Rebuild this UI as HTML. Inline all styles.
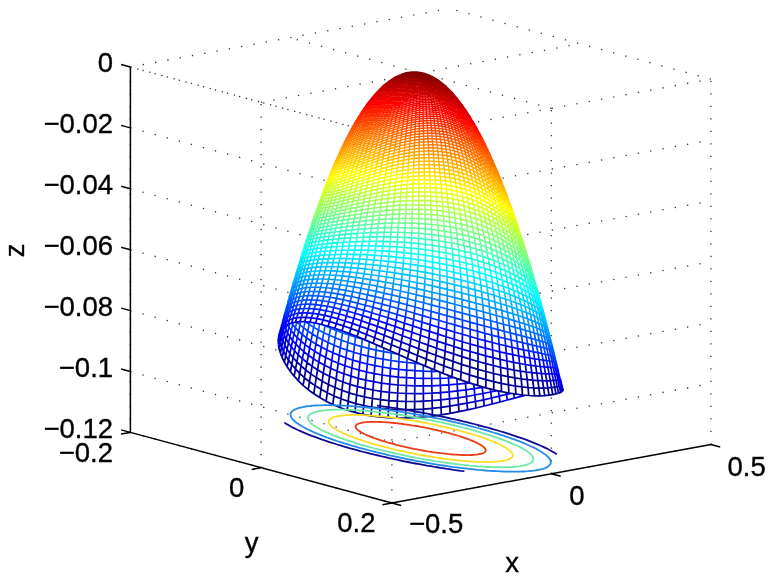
<!DOCTYPE html>
<html><head><meta charset="utf-8"><title>meshc</title><style>html,body{margin:0;padding:0;background:#fff}svg{display:block}</style></head><body>
<svg width="775" height="582" viewBox="0 0 775 582" font-family="'Liberation Sans', Arial, Helvetica, sans-serif" font-size="27.5px">
<rect width="775" height="582" fill="#fff"/>
<path d="M391.9 503L391.9 137.6M391.9 137.6L130.4 67M551.4 473.8L551.4 108.4M551.4 108.4L289.9 37.8M710.9 444.5L710.9 79.1M710.9 79.1L449.4 8.5M130.4 432.4L130.4 67M130.4 67L449.4 8.5M261.1 467.7L261.1 102.3M261.1 102.3L580.1 43.8M391.9 503L391.9 137.6M391.9 137.6L710.9 79.1M130.4 67L391.9 137.6M391.9 137.6L710.9 79.1M130.4 127.9L391.9 198.5M391.9 198.5L710.9 140M130.4 188.8L391.9 259.4M391.9 259.4L710.9 200.9M130.4 249.7L391.9 320.3M391.9 320.3L710.9 261.8M130.4 310.6L391.9 381.2M391.9 381.2L710.9 322.7M130.4 371.5L391.9 442.1M391.9 442.1L710.9 383.6M130.4 432.4L391.9 503M391.9 503L710.9 444.5" fill="none" stroke="#333" stroke-width="1.3" stroke-dasharray="1.3 11.2"/>
<polygon points="486.8,388.1 489.0,388.6 491.1,389.2 493.3,389.7 495.4,390.2 497.5,390.7 499.6,391.2 501.7,391.6 503.7,392.1 505.7,392.5 507.7,392.8 509.6,393.2 511.6,393.5 513.5,393.8 515.3,394.1 517.2,394.3 519.0,394.6 520.8,394.8 522.5,395.0 524.2,395.2 525.9,395.3 527.6,395.4 529.2,395.5 530.8,395.6 532.4,395.7 533.9,395.7 535.4,395.8 536.8,395.8 538.2,395.8 539.6,395.8 541.0,395.7 542.3,395.7 543.6,395.6 544.8,395.5 546.0,395.5 547.2,395.3 548.3,395.2 549.4,395.1 550.4,395.0 551.4,394.8 552.4,394.7 553.3,394.5 554.2,394.3 555.0,394.1 555.8,393.9 556.6,393.7 557.3,393.6 558.0,393.3 558.6,393.1 559.2,392.9 559.8,392.7 560.3,392.5 560.7,392.3 561.2,392.1 561.5,391.9 561.9,391.7 562.2,391.5 562.4,391.3 562.6,391.1 562.8,390.9 562.9,390.7 563.0,390.5 563.0,390.4 563.0,390.2 563.0,390.0 562.9,389.9 562.8,389.7 562.6,389.6 562.3,389.5 562.1,389.4 561.8,389.3 561.4,389.2 561.0,389.1 560.6,389.1 560.1,389.0 559.6,389.0 559.0,389.0 558.4,389.0 557.8,389.0 557.1,389.0 556.3,389.1 555.6,389.1 554.7,389.2 553.9,389.3 553.0,389.4 552.0,389.5 551.1,389.6 550.0,389.8 549.0,390.0 547.9,390.2 546.8,390.4 545.6,390.6 544.4,390.8 543.1,391.1 541.8,391.3 540.5,391.6 539.2,391.9 537.8,392.2 536.3,392.6 534.9,392.9 533.4,393.3 531.8,393.6 530.3,394.0 528.7,394.4 527.0,394.9 525.3,395.3 523.6,395.7 521.9,396.2 520.2,396.6 518.4,397.1 516.5,397.6 514.7,398.1 512.8,398.6 510.9,399.1 509.0,399.6 507.0,400.1 505.0,400.7 503.0,401.2 501.0,401.7 498.9,402.3 496.8,402.8 494.7,403.4 492.6,403.9 490.4,404.5 488.2,405.0 486.0,405.6 483.8,406.1 481.6,406.7 479.3,407.2 477.0,407.8 474.7,408.3 472.4,408.8 470.1,409.4 467.8,409.9 465.4,410.4 463.1,410.9 460.7,411.4 458.3,411.9 455.9,412.3 453.5,412.8 451.1,413.2 448.6,413.7 446.2,414.1 443.7,414.5 441.3,414.9 438.8,415.2 436.3,415.6 433.9,415.9 431.4,416.2 428.9,416.5 426.4,416.7 424.0,417.0 421.5,417.2 419.0,417.4 416.5,417.6 414.0,417.7 411.5,417.9 409.1,418.0 406.6,418.0 404.1,418.1 401.6,418.1 399.2,418.1 396.7,418.0 394.3,418.0 391.8,417.9 389.4,417.8 387.0,417.6 384.6,417.4 382.2,417.2 379.8,417.0 377.4,416.7 375.1,416.4 372.7,416.1 370.4,415.7 368.1,415.3 365.8,414.9 363.5,414.4 361.2,414.0 359.0,413.4 356.7,412.9 354.5,412.3 352.3,411.7 350.2,411.1 348.0,410.4 345.9,409.7 343.8,409.0 341.7,408.2 339.6,407.4 337.6,406.6 335.6,405.8 333.6,404.9 331.7,404.0 329.7,403.1 327.8,402.1 326.0,401.1 324.1,400.1 322.3,399.1 320.5,398.1 318.8,397.0 317.1,395.9 315.4,394.8 313.7,393.7 312.1,392.5 310.5,391.3 308.9,390.2 307.4,389.0 305.9,387.7 304.5,386.5 303.1,385.2 301.7,384.0 300.3,382.7 299.0,381.4 297.7,380.1 296.5,378.8 295.3,377.5 294.1,376.2 293.0,374.8 291.9,373.5 290.9,372.2 289.9,370.8 288.9,369.5 288.0,368.1 287.1,366.8 286.3,365.4 285.5,364.1 284.7,362.7 284.0,361.4 283.3,360.1 282.7,358.8 282.1,357.5 281.5,356.2 281.0,354.9 280.6,353.6 280.1,352.3 279.8,351.1 279.4,349.8 279.1,348.6 278.9,347.4 278.7,346.2 278.5,345.0 278.4,343.9 278.3,342.7 278.3,341.6 278.3,340.5 278.3,339.5 278.4,338.4 278.5,337.4 278.7,336.4 279.0,335.4 279.2,334.5 279.5,333.6 279.9,332.7 280.3,331.9 280.7,331.1 281.2,330.3 281.7,329.5 282.3,328.8 282.9,328.1 283.5,327.4 284.2,326.8 285.0,326.2 285.7,325.7 286.6,325.1 287.4,324.7 288.3,324.2 289.3,323.8 290.2,323.4 291.3,323.1 292.3,322.8 293.4,322.5 294.5,322.3 295.7,322.1 296.9,321.9 298.2,321.8 299.5,321.7 300.8,321.7 302.1,321.7 303.5,321.7 305.0,321.8 306.4,321.9 307.9,322.0 309.5,322.2 311.0,322.4 312.6,322.6 314.3,322.9 316.0,323.2 317.7,323.6 319.4,324.0 321.1,324.4 322.9,324.8 324.8,325.3 326.6,325.8 328.5,326.4 330.4,326.9 332.3,327.5 334.3,328.2 336.3,328.8 338.3,329.5 340.3,330.2 342.4,331.0 344.5,331.7 346.6,332.5 348.7,333.3 350.9,334.2 353.1,335.0 355.3,335.9 357.5,336.8 359.7,337.7 362.0,338.6 364.3,339.6 366.6,340.6 368.9,341.5 371.2,342.5 373.5,343.5 375.9,344.6 378.2,345.6 380.6,346.6 383.0,347.7 385.4,348.7 387.8,349.8 390.2,350.9 392.7,352.0 395.1,353.0 397.6,354.1 400.0,355.2 402.5,356.3 405.0,357.4 407.4,358.5 409.9,359.5 412.4,360.6 414.9,361.7 417.3,362.8 419.8,363.8 422.3,364.9 424.8,365.9 427.3,367.0 429.8,368.0 432.2,369.0 434.7,370.0 437.2,371.0 439.7,372.0 442.1,373.0 444.6,373.9 447.0,374.9 449.5,375.8 451.9,376.7 454.3,377.6 456.7,378.5 459.1,379.3 461.5,380.2 463.9,381.0 466.2,381.8 468.6,382.6 470.9,383.3 473.2,384.1 475.5,384.8 477.8,385.5 480.1,386.2 482.3,386.8 484.6,387.5 486.8,388.1" fill="#fff"/>
<g fill="none" stroke-width="1.75">
<path stroke="#00008f" stroke-width="1.75" d="M397.4 401.2l-8.5-.6-8.4-.9-8.1-1.2-8-1.6-7.8-1.9-7.5-2.2-7.2-2.5-6.9-2.8-6.6-3-6.2-3.3M432.3 408.3l-8.9 .8-8.8 .4-8.8 .2-8.7-.1-8.6-.5-8.5-.8-8.3-1.2-8-1.6-7.9-1.8-7.6-2.3-7.3-2.6-7-2.8-6.6-3.2-6.3-3.5-6-3.7-5.5-3.9-5.1-4.1-4.7-4.3M458.9 411.7l-8.7 1.7-8.9 1.4-8.9 1.3-8.9 .9-9 .7-8.9 .3-8.8 .1-8.7-.4-8.6-.7-8.4-1.2-8.2-1.5-7.9-1.9-7.7-2.2-7.4-2.7-7-3-6.8-3.3-6.3-3.6-6-3.9-5.6-4.1-5.1-4.3-4.7-4.5-4.2-4.6-3.8-4.7-3.3-4.7M441.1 407.3l.2 7.5M432.3 408.3l.1 7.8M423.4 409.1l.1 7.9M414.7 401.5l-.1 8-.1 8.2M406 401.5l-.2 8.2-.2 8.3M397.4 401.2l-.3 8.4-.3 8.5M388.9 400.6l-.4 8.5-.4 8.6M380.5 399.7l-.5 8.6-.5 8.7M372.4 398.5l-.7 8.6-.6 8.7M364.4 396.9l-.7 8.6-.8 8.8M356.6 395l-.8 8.7-.8 8.7M349.1 392.8l-.9 8.6-.9 8.8M341.9 390.3l-1 8.5-1 8.7M335 387.5l-1.1 8.5-1 8.5M328.4 384.5l-1.1 8.3-1.2 8.4M322.2 381.2l-1.2 8.1-1.2 8.3M316.3 377.6l-1.3 8-1.2 8.1M310.8 373.9l-1.3 7.8-1.3 7.9M304.4 377.6l-1.3 7.7M299.7 373.3l-1.3 7.5M295.5 368.9l-1.3 7.3"/>
<path stroke="#00009f" stroke-width="1.74" d="M423.4 401.2l-8.7 .3-8.7 0-8.6-.3M322.2 381.2l-5.9-3.6-5.5-3.7-5.1-3.9M449.8 406.1l-8.7 1.2-8.8 1M299.7 373.3l-4.2-4.4-3.7-4.4M467.6 409.9l-8.7 1.8M287.1 366.8l-2.7-4.7-2.3-4.6M458.5 404.7l.4 7M449.8 406.1l.4 7.3M432.1 400.7l.2 7.6M423.4 401.2l0 7.9M397.7 393l-.3 8.2M389.3 392.3l-.4 8.3M381.1 391.3l-.6 8.4M373 390l-.6 8.5M365.1 388.4l-.7 8.5M357.5 386.6l-.9 8.4M350 384.4l-.9 8.4M342.9 382l-1 8.3M336.1 379.3l-1.1 8.2M329.5 376.3l-1.1 8.2M323.3 373.2l-1.1 8M305.7 370l-1.3 7.6M301.1 365.9l-1.4 7.4M291.8 364.5l-1.4 7M288.5 360l-1.4 6.8"/>
<path stroke="#0000af" stroke-width="1.74" d="M397.7 393l-8.4-.7-8.2-1-8.1-1.3-7.9-1.6-7.6-1.8-7.5-2.2-7.1-2.4-6.8-2.7-6.6-3-6.2-3.1M440.8 399.9l-8.7 .8-8.7 .5M305.7 370l-4.6-4.1-4.2-4.1M467 403.2l-8.5 1.5-8.7 1.4M291.8 364.5l-3.3-4.5-2.8-4.4M484.3 406l-8.3 2-8.4 1.9M282.1 357.5l-1.7-4.5M467 403.2l.6 6.7M449.5 398.9l.3 7.2M440.8 399.9l.3 7.4M414.7 393.6l0 7.9M406.2 393.5l-.2 8M317.5 369.8l-1.2 7.8M312.1 366.2l-1.3 7.7M296.9 361.8l-1.4 7.1M293.1 357.6l-1.3 6.9M285.7 355.6l-1.3 6.5M283.5 351.2l-1.4 6.3"/>
<path stroke="#0000bf" stroke-width="1.73" d="M423.4 393.5l-8.7 .1-8.5-.1-8.5-.5M323.3 373.2l-5.8-3.4-5.4-3.6-5.1-3.7M449.5 398.9l-8.7 1M296.9 361.8l-3.8-4.2-3.2-4.2M475.4 401.5l-8.4 1.7M285.7 355.6l-2.2-4.4-1.8-4.2M500 402l-7.7 2-8 2M280.4 353l-1.3-4.3-.7-4.2M483.6 399.8l.7 6.2M475.4 401.5l.6 6.5M458.1 397.8l.4 6.9M432 393.2l.1 7.5M423.4 393.5l0 7.7M398 385l-.3 8M389.7 384.2l-.4 8.1M381.6 383.1l-.5 8.2M373.6 381.7l-.6 8.3M365.8 380.1l-.7 8.3M358.3 378.3l-.8 8.3M351 376.1l-1 8.3M343.9 373.8l-1 8.2M337.1 371.2l-1 8.1M330.7 368.3l-1.2 8M324.5 365.3l-1.2 7.9M307 362.5l-1.3 7.5M302.4 358.7l-1.3 7.2M298.2 354.8l-1.3 7M289.9 353.4l-1.4 6.6M287.1 349.2l-1.4 6.4M281.7 347l-1.3 6"/>
<path stroke="#0000cf" stroke-width="1.72" d="M406.4 385.5l-8.4-.5-8.3-.8-8.1-1.1-8-1.4-7.8-1.6-7.5-1.8-7.3-2.2-7.1-2.3-6.8-2.6-6.4-2.9-6.2-3-5.7-3.2M440.6 392.6l-8.6 .6-8.6 .3M307 362.5l-4.6-3.8-4.2-3.9M466.5 396.5l-8.4 1.3-8.6 1.1M289.9 353.4l-2.8-4.2-2.3-4.2M491.5 398l-7.9 1.8-8.2 1.7M281.7 347l-1.2-4.2M563 390.2l-.3-.5M507.4 400l-7.4 2M278.4 344.5l-.1-3.9 .3-3.6M499.2 396.2l.8 5.8M491.5 398l.8 6M474.8 395l.6 6.5M466.5 396.5l.5 6.7M449.2 391.9l.3 7M440.6 392.6l.2 7.3M423.3 385.9l.1 7.6M414.8 385.8l-.1 7.8M406.4 385.5l-.2 8M318.8 362.1l-1.3 7.7M313.4 358.7l-1.3 7.5M308.4 355.2l-1.4 7.3M294.5 350.8l-1.4 6.8M291.3 346.8l-1.4 6.6M284.8 345l-1.3 6.2M283.1 341l-1.4 6M280.5 342.8l-1.4 5.9M279.8 338.9l-1.4 5.6"/>
<path stroke="#0000df" stroke-width="1.71" d="M431.8 385.8l-8.5 .1-8.5-.1-8.4-.3M318.8 362.1l-5.4-3.4-5-3.5-4.6-3.6M457.6 390.9l-8.4 1-8.6 .7M298.2 354.8l-3.7-4-3.2-4-2.8-3.9M482.9 393.5l-8.1 1.5-8.3 1.5M284.8 345l-1.7-4-1.3-3.9M506.5 394.4l-7.3 1.8-7.7 1.8M280.5 342.8l-.7-3.9-.2-3.7M562.7 389.7l-1-.4-1.6-.3M527.4 394.7l-6.3 1.7-6.7 1.7-7 1.9M278.6 337l.9-3.3M513.5 392.7l.9 5.4M506.5 394.4l.9 5.6M490.7 392l.8 6M482.9 393.5l.7 6.3M466 389.9l.5 6.6M457.6 390.9l.5 6.9M440.4 385.4l.2 7.2M431.8 385.8l.2 7.4M398.3 377.1l-.3 7.9M390.1 376.1l-.4 8.1M382.1 375l-.5 8.1M374.2 373.6l-.6 8.1M366.6 372l-.8 8.1M359.1 370.1l-.8 8.2M351.9 368l-.9 8.1M344.9 365.7l-1 8.1M338.2 363.2l-1.1 8M331.8 360.5l-1.1 7.8M325.7 357.6l-1.2 7.7M303.8 351.6l-1.4 7.1M299.6 347.9l-1.4 6.9M288.5 342.9l-1.4 6.3M286.2 339l-1.4 6M281.8 337.1l-1.3 5.7M279.6 335.2l-1.3 5.4M279.9 331.8l-1.3 5.2"/>
<path stroke="#0000ef" stroke-width="1.71" d="M406.5 377.7l-8.2-.6-8.2-1-8-1.1-7.9-1.4-7.6-1.6-7.5-1.9-7.2-2.1-7-2.3-6.7-2.5-6.4-2.7-6.1-2.9-5.7-3.1M448.8 384.9l-8.4 .5-8.6 .4M303.8 351.6l-4.2-3.7-3.7-3.7M474.2 388.7l-8.2 1.2-8.4 1M288.5 342.9l-2.3-3.9-1.8-3.8M498.3 390.4l-7.6 1.6-7.8 1.5M281.8 337.1l-.7-3.7-.2-3.5M513.5 392.7l-7 1.7M279.6 335.2l.3-3.4M560.1 389l-2.2 0-2.8 .2-3.3 .3-3.8 .6-4.4 .9-4.9 1-5.4 1.3-5.9 1.4M520.1 391.1l1 5.3M505.6 388.8l.9 5.6M498.3 390.4l.9 5.8M482.2 387.4l.7 6.1M474.2 388.7l.6 6.3M457.2 384.2l.4 6.7M448.8 384.9l.4 7M423.3 378.4l0 7.5M414.9 378.2l-.1 7.6M406.5 377.7l-.1 7.8M320 354.5l-1.2 7.6M314.7 351.3l-1.3 7.4M309.7 348l-1.3 7.2M305.1 344.6l-1.3 7M295.9 344.2l-1.4 6.6M292.6 340.4l-1.3 6.4M284.4 335.2l-1.3 5.8M283.2 331.5l-1.4 5.6M281.1 333.4l-1.3 5.5M280.9 329.9l-1.3 5.3"/>
<path stroke="#0000ff" stroke-width="1.70" d="M431.7 378.5l-8.4-.1-8.4-.2-8.4-.5M320 354.5l-5.3-3.2-5-3.3-4.6-3.4-4.1-3.5M465.5 383.3l-8.3 .9-8.4 .7M295.9 344.2l-3.3-3.8-2.7-3.7-2.3-3.7M490 386l-7.8 1.4-8 1.3M284.4 335.2l-1.2-3.7-.7-3.5M490 386l.7 6M473.6 382.4l.6 6.3M465.5 383.3l.5 6.6M448.5 378l.3 6.9M440.1 378.3l.3 7.1M431.7 378.5l.1 7.3M406.7 370.1l-.2 7.6M398.6 369.3l-.3 7.8M390.5 368.3l-.4 7.8M382.6 367l-.5 8M374.8 365.6l-.6 8M367.3 364l-.7 8M359.9 362.1l-.8 8M352.8 360.1l-.9 7.9M345.9 357.8l-1 7.9M339.3 355.4l-1.1 7.8M332.9 352.8l-1.1 7.7M326.9 350l-1.2 7.6M321.3 347.1l-1.3 7.4M301 341.1l-1.4 6.8M297.3 337.6l-1.4 6.6M289.9 336.7l-1.4 6.2M287.6 333l-1.4 6M285.8 329.4l-1.4 5.8M282.5 328l-1.4 5.4"/>
<path stroke="#0010ff" stroke-width="1.69" d="M415 370.7l-8.3-.6-8.1-.8-8.1-1-7.9-1.3-7.8-1.4-7.5-1.6-7.4-1.9-7.1-2-6.9-2.3-6.6-2.4-6.4-2.6-6-2.8-5.6-2.9-5.4-3M456.8 377.5l-8.3 .5-8.4 .3-8.4 .2M301 341.1l-3.7-3.5-3.3-3.5M473.6 382.4l-8.1 .9M287.6 333l-1.8-3.6-1.3-3.5M481.5 381.3l.7 6.1M465 376.9l.5 6.4M456.8 377.5l.4 6.7M431.6 371.3l.1 7.2M423.3 371.1l0 7.3M415 370.7l-.1 7.5M360.7 354.3l-.8 7.8M315.9 344.1l-1.2 7.2M311 341l-1.3 7M306.5 337.8l-1.4 6.8M302.3 334.5l-1.3 6.6M294 334.1l-1.4 6.3M291.2 330.6l-1.3 6.1M288.9 327.1l-1.3 5.9M284.5 325.9l-1.3 5.6"/>
<path stroke="#0020ff" stroke-width="1.69" d="M375.5 357.8l-7.5-1.7-7.3-1.8-7-2-6.8-2.2M439.9 371.3l-8.3 0-8.3-.2-8.3-.4M315.9 344.1l-4.9-3.1-4.5-3.2-4.2-3.3-3.7-3.3M294 334.1l-2.8-3.5-2.3-3.5-1.7-3.4M448.2 371.2l.3 6.8M439.9 371.3l.2 7M415 363.3l0 7.4M406.9 362.5l-.2 7.6M398.9 361.6l-.3 7.7M390.9 360.5l-.4 7.8M383.1 359.2l-.5 7.8M375.5 357.8l-.7 7.8M368 356.1l-.7 7.9M353.7 352.3l-.9 7.8M346.9 350.1l-1 7.7M340.3 347.7l-1 7.7M334.1 345.2l-1.2 7.6M328.1 342.6l-1.2 7.4M322.5 339.8l-1.2 7.3M317.2 337l-1.3 7.1M298.6 331.2l-1.3 6.4M295.4 327.9l-1.4 6.2M287.2 323.7l-1.4 5.7"/>
<path stroke="#0030ff" stroke-width="1.68" d="M423.2 363.8l-8.2-.5-8.1-.8-8-.9-8-1.1-7.8-1.3-7.6-1.4M346.9 350.1l-6.6-2.4-6.2-2.5-6-2.6-5.6-2.8-5.3-2.8-4.9-3M298.6 331.2l-3.2-3.3-2.8-3.3-2.3-3.3M431.4 364.2l.2 7.1M423.2 363.8l.1 7.3M383.6 351.6l-.5 7.6M376.1 350.1l-.6 7.7M368.7 348.4l-.7 7.7M361.5 346.6l-.8 7.7M354.6 344.6l-.9 7.7M347.9 342.5l-1 7.6M341.4 340.2l-1.1 7.5M312.3 334l-1.3 7M307.8 331l-1.3 6.8M303.7 327.9l-1.4 6.6M300 324.9l-1.4 6.3M292.6 324.6l-1.4 6M290.3 321.3l-1.4 5.8"/>
<path stroke="#0040ff" stroke-width="1.67" d="M391.3 352.9l-7.7-1.3-7.5-1.5-7.4-1.7-7.2-1.8-6.9-2-6.7-2.1-6.5-2.3-6.2-2.4M312.3 334l-4.5-3-4.1-3.1-3.7-3-3.2-3.2M415.1 356l-.1 7.3M407.1 355.1l-.2 7.4M399.2 354.1l-.3 7.5M391.3 352.9l-.4 7.6M335.2 337.8l-1.1 7.4M329.3 335.3l-1.2 7.3M323.8 332.7l-1.3 7.1M318.5 330l-1.3 7M313.7 327.2l-1.4 6.8M309.2 324.4l-1.4 6.6M296.8 321.7l-1.4 6.2M294 318.7l-1.4 5.9"/>
<path stroke="#0050ff" stroke-width="1.66" d="M399.2 354.1l-7.9-1.2M335.2 337.8l-5.9-2.5-5.5-2.6-5.3-2.7-4.8-2.8-4.5-2.8-4.1-2.9M391.7 345.5l-.4 7.4M384.1 344.1l-.5 7.5M376.7 342.5l-.6 7.6M369.4 340.8l-.7 7.6M362.4 339l-.9 7.6M355.5 337.1l-.9 7.5M348.9 335l-1 7.5M342.5 332.8l-1.1 7.4M336.4 330.6l-1.2 7.2M330.5 328.2l-1.2 7.1M305.1 321.5l-1.4 6.4M301.4 318.6l-1.4 6.3"/>
<path stroke="#0060ff" stroke-width="1.66" d="M369.4 340.8l-7-1.8-6.9-1.9-6.6-2.1-6.4-2.2-6.1-2.2-5.9-2.4-5.5-2.5-1.2 7M319.8 323.2l-1.3 6.8M315 320.6l-1.3 6.6M310.5 317.9l-1.3 6.5"/>
<path stroke="#0070ff" stroke-width="1.65" d="M325 325.7l-5.2-2.5M363.2 331.6l-.8 7.4M356.4 329.7l-.9 7.4M349.8 327.7l-.9 7.3M343.5 325.6l-1 7.2M337.5 323.4l-1.1 7.2M331.7 321.2l-1.2 7M326.3 318.8l-1.3 6.9"/>
</g>
<polygon points="278.9,335.5 279.0,335.4 279.0,335.2 279.1,335.0 279.1,334.7 279.2,334.5 279.3,334.3 279.4,334.1 279.4,333.8 279.5,333.6 279.6,333.4 279.7,333.2 279.8,332.9 279.9,332.7 280.0,332.5 280.1,332.3 280.2,332.1 280.3,331.9 280.4,331.7 280.5,331.5 280.6,331.3 280.7,331.1 280.8,330.9 281.0,330.7 281.1,330.5 281.2,330.3 281.3,330.1 281.5,329.9 281.6,329.7 281.7,329.5 281.9,329.3 282.0,329.1 282.1,329.0 282.3,328.8 282.4,328.6 282.6,328.4 282.7,328.3 282.9,328.1 283.1,327.9 283.2,327.8 283.4,327.6 283.5,327.4 283.7,327.3 283.9,327.1 284.1,327.0 284.2,326.8 284.4,326.7 284.6,326.5 284.8,326.4 285.0,326.2 285.2,326.1 285.4,325.9 285.6,325.8 285.7,325.7 285.9,325.5 286.2,325.4 286.4,325.3 286.6,325.1 286.8,325.0 287.0,324.9 287.2,324.8 287.4,324.7 287.6,324.5 287.9,324.4 288.1,324.3 288.3,324.2 288.6,324.1 288.8,324.0 289.0,323.9 289.3,323.8 289.5,323.7 289.7,323.6 290.0,323.5 290.2,323.4 290.5,323.3 290.7,323.2 291.0,323.2 291.3,323.1 291.5,323.0 291.8,322.9 292.0,322.8 292.3,322.8 292.6,322.7 292.9,322.6 293.1,322.6 293.4,322.5 293.7,322.4 294.0,322.4 294.3,322.3 294.5,322.3 294.8,322.2 295.1,322.2 295.4,322.1 295.7,322.1 296.0,322.0 296.3,322.0 296.6,322.0 296.9,321.9 297.2,321.9 297.5,321.9 297.9,321.8 298.2,321.8 298.5,321.8 298.8,321.8 299.1,321.7 299.5,321.7 299.8,321.7 300.1,321.7 300.5,321.7 300.8,321.7 301.1,321.7 301.5,321.7 301.8,321.7 302.1,321.7 302.5,321.7 302.8,321.7 303.2,321.7 303.5,321.7 303.9,321.7 304.3,321.7 304.6,321.7 305.0,321.8 305.3,321.8 305.7,321.8 306.1,321.8 306.4,321.9 306.8,321.9 307.2,321.9 307.6,322.0 307.9,322.0 308.3,322.0 308.7,322.1 309.1,322.1 309.5,322.2 309.9,322.2 310.3,322.3 310.7,322.3 311.0,322.4 311.4,322.4 311.8,322.5 312.2,322.6 312.6,322.6 313.1,322.7 313.5,322.8 313.9,322.8 314.3,322.9 314.7,323.0 315.1,323.1 315.5,323.1 316.0,323.2 316.4,323.3 316.8,323.4 317.2,323.5 317.7,323.6 318.1,323.7 318.5,323.8 319.0,323.9 319.4,324.0 319.8,324.1 320.3,324.2 320.7,324.3 321.1,324.4 321.6,324.5 322.0,324.6 322.5,324.7 322.9,324.8 323.4,324.9 323.8,325.1 324.3,325.2 324.8,325.3 325.2,325.4 325.7,325.6 326.2,325.7 326.6,325.8 327.1,325.9 327.6,326.1 328.0,326.2 328.5,326.4 329.0,326.5 329.4,326.6 329.9,326.8 330.4,326.9 330.9,327.1 331.4,327.2 331.9,327.4 332.3,327.5 332.8,327.7 333.3,327.8 333.8,328.0 334.3,328.2 334.8,328.3 335.3,328.5 335.8,328.7 336.3,328.8 336.8,329.0 337.3,329.2 337.8,329.3 338.3,329.5 338.8,329.7 339.3,329.9 339.8,330.0 340.3,330.2 340.9,330.4 341.4,330.6 341.9,330.8 342.4,331.0 342.9,331.2 343.5,331.3 344.0,331.5 344.5,331.7 345.0,331.9 345.6,332.1 346.1,332.3 346.6,332.5 347.1,332.7 347.7,332.9 348.2,333.1 348.7,333.3 349.3,333.5 349.8,333.7 350.4,334.0 350.9,334.2 351.4,334.4 352.0,334.6 352.5,334.8 353.1,335.0 353.6,335.2 354.2,335.5 354.7,335.7 355.3,335.9 355.8,336.1 356.4,336.3 356.9,336.6 357.5,336.8 358.1,337.0 358.6,337.3 359.2,337.5 359.7,337.7 360.3,337.9 360.9,338.2 361.4,338.4 362.0,338.6 362.6,338.9 363.1,339.1 363.7,339.4 364.3,339.6 364.8,339.8 365.4,340.1 366.0,340.3 366.6,340.6 367.1,340.8 367.7,341.1 368.3,341.3 368.9,341.5 369.4,341.8 370.0,342.0 370.6,342.3 371.2,342.5 371.8,342.8 372.3,343.0 372.9,343.3 373.5,343.5 374.1,343.8 374.7,344.1 375.3,344.3 375.9,344.6 376.5,344.8 377.1,345.1 377.6,345.3 378.2,345.6 378.8,345.9 379.4,346.1 380.0,346.4 380.6,346.6 381.2,346.9 381.8,347.2 382.4,347.4 383.0,347.7 383.6,348.0 384.2,348.2 384.8,348.5 385.4,348.7 386.0,349.0 386.6,349.3 387.2,349.5 387.8,349.8 388.4,350.1 389.0,350.3 389.6,350.6 390.2,350.9 390.9,351.2 391.5,351.4 392.1,351.7 392.7,352.0 393.3,352.2 393.9,352.5 394.5,352.8 395.1,353.0 395.7,353.3 396.3,353.6 397.0,353.8 397.6,354.1 398.2,354.4 398.8,354.7 399.4,354.9 400.0,355.2 400.6,355.5 401.3,355.7 401.9,356.0 402.5,356.3 403.1,356.6 403.7,356.8 404.3,357.1 405.0,357.4 405.6,357.6 406.2,357.9 406.8,358.2 407.4,358.5 408.0,358.7 408.7,359.0 409.3,359.3 409.9,359.5 410.5,359.8 411.1,360.1 411.8,360.3 412.4,360.6 413.0,360.9 413.6,361.2 414.2,361.4 414.9,361.7 415.5,362.0 416.1,362.2 416.7,362.5 417.3,362.8 418.0,363.0 418.6,363.3 419.2,363.6 419.8,363.8 420.5,364.1 421.1,364.4 421.7,364.6 422.3,364.9 422.9,365.1 423.6,365.4 424.2,365.7 424.8,365.9 425.4,366.2 426.0,366.5 426.7,366.7 427.3,367.0 427.9,367.2 428.5,367.5 429.1,367.7 429.8,368.0 430.4,368.3 431.0,368.5 431.6,368.8 432.2,369.0 432.9,369.3 433.5,369.5 434.1,369.8 434.7,370.0 435.3,370.3 436.0,370.5 436.6,370.8 437.2,371.0 437.8,371.3 438.4,371.5 439.0,371.8 439.7,372.0 440.3,372.3 440.9,372.5 441.5,372.7 442.1,373.0 442.7,373.2 443.3,373.5 444.0,373.7 444.6,373.9 445.2,374.2 445.8,374.4 446.4,374.6 447.0,374.9 447.6,375.1 448.2,375.3 448.8,375.6 449.5,375.8 450.1,376.0 450.7,376.3 451.3,376.5 451.9,376.7 452.5,376.9 453.1,377.2 453.7,377.4 454.3,377.6 454.9,377.8 455.5,378.1 456.1,378.3 456.7,378.5 457.3,378.7 457.9,378.9 458.5,379.1 459.1,379.3 459.7,379.6 460.3,379.8 460.9,380.0 461.5,380.2 462.1,380.4 462.7,380.6 463.3,380.8 463.9,381.0 464.5,381.2 465.1,381.4 465.6,381.6 466.2,381.8 466.8,382.0 467.4,382.2 468.0,382.4 468.6,382.6 469.2,382.8 469.8,383.0 470.3,383.2 470.9,383.3 471.5,383.5 472.1,383.7 472.7,383.9 473.2,384.1 473.8,384.3 474.4,384.4 475.0,384.6 475.5,384.8 476.1,385.0 476.7,385.2 477.3,385.3 477.8,385.5 478.4,385.7 479.0,385.8 479.5,386.0 480.1,386.2 480.7,386.3 481.2,386.5 481.8,386.7 482.3,386.8 482.9,387.0 483.5,387.1 484.0,387.3 484.6,387.5 485.1,387.6 485.7,387.8 486.2,387.9 486.8,388.1 487.3,388.2 487.9,388.4 488.4,388.5 489.0,388.6 489.5,388.8 490.1,388.9 490.6,389.1 491.1,389.2 491.7,389.3 492.2,389.5 492.8,389.6 493.3,389.7 493.8,389.9 494.4,390.0 494.9,390.1 495.4,390.2 495.9,390.4 496.5,390.5 497.0,390.6 497.5,390.7 498.0,390.9 498.6,391.0 499.1,391.1 499.6,391.2 500.1,391.3 500.6,391.4 501.1,391.5 501.7,391.6 502.2,391.8 502.7,391.9 503.2,392.0 503.7,392.1 504.2,392.2 504.7,392.3 505.2,392.4 505.7,392.5 506.2,392.6 506.7,392.6 507.2,392.7 507.7,392.8 508.2,392.9 508.7,393.0 509.1,393.1 509.6,393.2 510.1,393.3 510.6,393.3 511.1,393.4 511.6,393.5 512.0,393.6 512.5,393.7 513.0,393.7 513.5,393.8 513.9,393.9 514.4,393.9 514.9,394.0 515.3,394.1 515.8,394.2 516.2,394.2 516.7,394.3 517.2,394.3 517.6,394.4 518.1,394.5 518.5,394.5 519.0,394.6 519.4,394.6 519.9,394.7 520.3,394.7 520.8,394.8 521.2,394.8 521.6,394.9 522.1,394.9 522.5,395.0 522.9,395.0 523.4,395.1 523.8,395.1 524.2,395.2 524.7,395.2 525.1,395.2 525.5,395.3 525.9,395.3 526.3,395.3 526.8,395.4 527.2,395.4 527.6,395.4 528.0,395.5 528.4,395.5 528.8,395.5 529.2,395.5 529.6,395.6 530.0,395.6 530.4,395.6 530.8,395.6 531.2,395.6 531.6,395.7 532.0,395.7 532.4,395.7 532.7,395.7 533.1,395.7 533.5,395.7 533.9,395.7 534.3,395.8 534.6,395.8 535.0,395.8 535.4,395.8 535.7,395.8 536.1,395.8 536.5,395.8 536.8,395.8 537.2,395.8 537.5,395.8 537.9,395.8 538.2,395.8 538.6,395.8 538.9,395.8 539.3,395.8 539.6,395.8 540.0,395.8 540.3,395.8 540.6,395.7 541.0,395.7 541.3,395.7 541.6,395.7 542.0,395.7 542.3,395.7 542.6,395.7 542.9,395.7 543.2,395.6 543.6,395.6 543.9,395.6 544.2,395.6 544.5,395.6 544.8,395.5 545.1,395.5 545.4,395.5 545.7,395.5 546.0,395.5 546.3,395.4 546.6,395.4 546.9,395.4 547.2,395.3 547.4,395.3 547.7,395.3 548.0,395.3 548.3,395.2 548.5,395.2 548.8,395.2 549.1,395.1 549.4,395.1 549.6,395.1 549.9,395.0 550.1,395.0 550.4,395.0 550.7,394.9 550.9,394.9 551.2,394.8 551.4,394.8 551.6,394.8 551.9,394.7 552.1,394.7 552.4,394.7 552.6,394.6 552.8,394.6 553.1,394.5 553.3,394.5 553.5,394.4 553.7,394.4 554.0,394.4 554.2,394.3 554.4,394.3 554.6,394.2 554.8,394.2 555.0,394.1 555.2,394.1 555.4,394.0 555.6,394.0 555.8,393.9 556.0,393.9 556.2,393.8 556.4,393.8 556.6,393.7 556.8,393.7 556.9,393.7 557.1,393.6 557.3,393.6 557.5,393.5 557.6,393.5 557.8,393.4 558.0,393.3 558.1,393.3 558.3,393.2 558.5,393.2 558.6,393.1 558.8,393.1 558.9,393.0 559.1,393.0 559.2,392.9 559.4,392.9 559.5,392.8 559.6,392.8 559.8,392.7 559.9,392.7 560.0,392.6 560.1,392.6 560.3,392.5 560.4,392.5 560.5,392.4 560.6,392.4 560.7,392.3 560.8,392.3 561.0,392.2 561.1,392.1 561.2,392.1 561.3,392.0 561.4,392.0 561.5,391.9 561.5,391.9 561.6,391.8 561.7,391.8 561.8,391.7 561.9,391.7 562.0,391.6 562.0,391.6 562.1,391.5 562.2,391.5 562.2,391.4 562.3,391.4 562.4,391.3 562.4,391.3 562.5,391.2 562.5,391.2 562.6,391.1 562.6,391.1 562.7,391.0 562.7,391.0 562.8,390.9 562.8,390.9 562.8,390.8 562.9,390.8 562.9,390.7 562.9,390.7 563.0,390.7 563.0,390.6 563.0,390.6 563.0,390.5 563.0,390.5 563.0,390.4 563.0,390.4 563.0,390.4 563.0,390.3 563.0,390.3 563.0,390.2 563.0,390.2 563.0,390.2 563.0,390.2 561.6,384.1 560.2,378.1 558.7,372.1 557.3,366.2 555.9,360.3 554.5,354.6 553.0,348.8 551.6,343.2 550.2,337.5 548.8,332.0 547.3,326.5 545.9,321.1 544.5,315.7 543.0,310.4 541.6,305.1 540.2,299.9 538.8,294.8 537.3,289.7 535.9,284.7 534.5,279.7 533.1,274.8 531.6,269.9 530.2,265.2 528.8,260.4 527.3,255.8 525.9,251.1 524.5,246.6 523.1,242.1 521.6,237.6 520.2,233.3 518.8,228.9 517.3,224.7 515.9,220.5 514.5,216.3 513.1,212.3 511.6,208.2 510.2,204.3 508.8,200.3 507.4,196.5 505.9,192.7 504.5,189.0 503.1,185.3 501.6,181.7 500.2,178.1 498.8,174.6 497.4,171.2 495.9,167.8 494.5,164.5 493.1,161.2 491.7,158.0 490.2,154.8 488.8,151.8 487.4,148.7 485.9,145.8 484.5,142.8 483.1,140.0 481.7,137.2 480.2,134.5 478.8,131.8 477.4,129.2 475.9,126.6 474.5,124.1 473.1,121.6 471.7,119.3 470.2,116.9 468.8,114.7 467.4,112.5 466.0,110.3 464.5,108.2 463.1,106.2 461.7,104.2 460.2,102.3 458.8,100.4 457.4,98.6 456.0,96.9 454.5,95.2 453.1,93.6 451.7,92.0 450.3,90.5 448.8,89.1 447.4,87.7 446.0,86.3 444.5,85.1 443.1,83.9 441.7,82.7 440.3,81.6 438.8,80.6 437.4,79.6 436.0,78.7 434.5,77.8 433.1,77.0 431.7,76.3 430.3,75.6 428.8,75.0 427.4,74.4 426.0,73.9 424.6,73.4 423.1,73.0 421.7,72.7 420.3,72.4 418.8,72.2 417.4,72.1 416.0,72.0 414.6,71.9 413.1,71.9 411.7,72.0 410.3,72.1 408.9,72.3 407.4,72.6 406.0,72.9 404.6,73.3 403.1,73.7 401.7,74.2 400.3,74.7 398.9,75.3 397.4,76.0 396.0,76.7 394.6,77.5 393.1,78.3 391.7,79.2 390.3,80.2 388.9,81.2 387.4,82.3 386.0,83.4 384.6,84.6 383.2,85.9 381.7,87.2 380.3,88.5 378.9,90.0 377.4,91.5 376.0,93.0 374.6,94.6 373.2,96.3 371.7,98.0 370.3,99.8 368.9,101.6 367.5,103.5 366.0,105.4 364.6,107.4 363.2,109.5 361.7,111.6 360.3,113.8 358.9,116.1 357.5,118.4 356.0,120.8 354.6,123.2 353.2,125.7 351.8,128.2 350.3,130.8 348.9,133.5 347.5,136.2 346.0,138.9 344.6,141.8 343.2,144.7 341.8,147.6 340.3,150.6 338.9,153.7 337.5,156.8 336.0,160.0 334.6,163.2 333.2,166.5 331.8,169.9 330.3,173.3 328.9,176.8 327.5,180.3 326.1,183.9 324.6,187.6 323.2,191.3 321.8,195.1 320.3,198.9 318.9,202.8 317.5,206.7 316.1,210.7 314.6,214.8 313.2,218.9 311.8,223.1 310.4,227.4 308.9,231.7 307.5,236.0 306.1,240.4 304.6,244.9 303.2,249.4 301.8,254.0 300.4,258.7 298.9,263.4 297.5,268.2 296.1,273.0 294.6,277.9 293.2,282.8 291.8,287.8 290.4,292.9 288.9,298.0 287.5,303.2 286.1,308.4 284.7,313.7 283.2,319.1 281.8,324.5 280.4,329.9 278.9,335.5" fill="#fff"/>
<g fill="none" stroke-width="1.75">
<path stroke="#00008f" stroke-width="1.75" d="M477.9 369.3l8 2.2 7.6 2 7.4 1.7 7.1 1.5 6.8 1.2 6.4 1M444.5 358.4l8.6 3 8.4 2.9 8.3 2.6 8.1 2.4M477.8 377.3l8.1 2.3 7.8 2 7.5 1.7 7.3 1.5 6.9 1.2 6.5 .9 6.1 .6 5.7 .4 5.2 .2 4.7 0M408.8 351.9l8.7 3.6 8.8 3.6 8.8 3.4 8.7 3.4 8.7 3.1 8.6 3 8.4 2.8 8.3 2.5M477.6 385.4l8.2 2.4 8 2.1 7.7 1.7 7.3 1.4 7.1 1.2 6.6 .8 6.3 .5 5.7 .3 5.4 0 4.8-.2 4.3-.5 3.7-.5 3.2-.7M381.5 347l8.6 3.8 8.7 3.8 8.7 3.9 8.9 3.8 8.9 3.8 8.9 3.7 8.9 3.6 8.8 3.3 8.7 3.2 8.6 2.9 8.4 2.6M477.9 369.3l-.1 8-.2 8.1M485.9 371.5l0 8.1-.1 8.2M493.5 373.5l.2 8.1 .1 8.3M500.9 375.2l.3 8.1 .3 8.3M508 376.7l.5 8.1 .3 8.2M514.8 377.9l.6 8.1 .5 8.2M521.2 378.9l.7 8 .6 8.1M527.2 379.7l.8 7.8 .8 8M532.7 380.2l1 7.7 .8 7.9M538.9 388.1l1 7.7M543.6 388.1l1.1 7.5M547.8 387.9l1.2 7.2M400.1 348.3l-1.3 6.3M408.8 351.9l-1.3 6.6M417.5 355.5l-1.1 6.8M427.2 352.1l-.9 7-1 7M435.9 355.3l-.8 7.2-.9 7.3M444.5 358.4l-.7 7.5-.7 7.5M453.1 361.4l-.6 7.6-.6 7.7M461.5 364.3l-.4 7.7-.5 7.9M469.8 366.9l-.3 7.9-.3 8"/>
<path stroke="#00009f" stroke-width="1.74" d="M521.2 378.9l6 .8 5.5 .5M418.6 348.7l8.6 3.4 8.7 3.2 8.6 3.1M543.6 388.1l4.2-.2 3.7-.4M391.4 344.7l8.7 3.6 8.7 3.6M555.9 393.9l2.6-.7M373.2 343.4l8.3 3.6M478 361.5l-.1 7.8M485.8 363.6l.1 7.9M493.3 365.5l.2 8M500.6 367.3l.3 7.9M507.5 368.8l.5 7.9M514.1 370.1l.7 7.8M537.9 380.6l1 7.5M542.5 380.7l1.1 7.4M551.5 387.5l1.2 7.1M383 341.2l-1.5 5.8M391.4 344.7l-1.3 6.1M409.9 345.4l-1.1 6.5M418.6 348.7l-1.1 6.8M445.1 351.1l-.6 7.3M453.6 353.9l-.5 7.5M461.9 356.6l-.4 7.7M470 359.1l-.2 7.8"/>
<path stroke="#0000af" stroke-width="1.74" d="M478 361.5l7.8 2.1 7.5 1.9 7.3 1.8 6.9 1.5 6.6 1.3 6.3 1M445.1 351.1l8.5 2.8 8.3 2.7 8.1 2.5 8 2.4M532.7 380.2l5.2 .4 4.6 .1M401.3 342l8.6 3.4 8.7 3.3M551.5 387.5l3.2-.4M374.6 337.7l8.4 3.5 8.4 3.5M558.5 393.2l2.1-.8 1.4-.8M357.1 336.6l7.9 3.3 8.2 3.5M520.4 371.1l.8 7.8M526.3 372l.9 7.7M531.8 372.7l.9 7.5M546.7 380.8l1.1 7.1M554.7 387.1l1.2 6.8M557.2 386.6l1.3 6.6M374.6 337.7l-1.4 5.7M392.7 338.6l-1.3 6.1M401.3 342l-1.2 6.3M428.1 345.1l-.9 7M436.6 348.2l-.7 7.1"/>
<path stroke="#0000bf" stroke-width="1.73" d="M520.4 371.1l5.9 .9 5.5 .7 5 .5M419.5 342l8.6 3.1 8.5 3.1 8.5 2.9M542.5 380.7l4.2 .1 3.6-.2M384.3 335.3l8.4 3.3 8.6 3.4M554.7 387.1l2.5-.5 2-.6M366.5 334.5l8.1 3.2M562 391.6l.8-.7M342 330.8l7.4 2.8 7.7 3M478 353.7l0 7.8M485.6 355.8l.2 7.8M493 357.7l.3 7.8M500.1 359.4l.5 7.9M507 361l.5 7.8M513.5 362.3l.6 7.8M519.6 363.5l.8 7.6M536.8 373.2l1.1 7.4M541.4 373.5l1.1 7.2M550.3 380.6l1.2 6.9M553.4 380.4l1.3 6.7M559.2 386l1.4 6.4M560.7 385.5l1.3 6.1M358.6 331.4l-1.5 5.2M366.5 334.5l-1.5 5.4M384.3 335.3l-1.3 5.9M402.4 335.7l-1.1 6.3M410.9 338.8l-1 6.6M419.5 342l-.9 6.7M445.7 343.9l-.6 7.2M454 346.5l-.4 7.4M462.1 349.1l-.2 7.5M470.1 351.5l-.1 7.6"/>
<path stroke="#0000cf" stroke-width="1.72" d="M478 353.7l7.6 2.1 7.4 1.9 7.1 1.7 6.9 1.6 6.5 1.3 6.1 1.2M437.3 341.1l8.4 2.8 8.3 2.6 8.1 2.6 8 2.4 7.9 2.2M536.8 373.2l4.6 .3 4.1 .3M402.4 335.7l8.5 3.1 8.6 3.2M550.3 380.6l3.1-.2 2.5-.3M376 332.1l8.3 3.2M559.2 386l1.5-.5M350.9 328.5l7.7 2.9 7.9 3.1M562.8 390.9l.2-.7-.3-.5M334.8 328.3l7.2 2.5M525.4 364.5l.9 7.5M530.8 365.3l1 7.4M545.5 373.8l1.2 7M549.1 373.8l1.2 6.8M555.9 380.1l1.3 6.5M557.9 379.8l1.3 6.2M561.5 385l1.3 5.9M343.5 325.9l-1.5 4.9M350.9 328.5l-1.5 5.1M367.9 329l-1.4 5.5M376 332.1l-1.4 5.6M385.6 329.4l-1.3 5.9M393.9 332.5l-1.2 6.1M420.4 335.3l-.9 6.7M428.9 338.2l-.8 6.9M437.3 341.1l-.7 7.1"/>
<path stroke="#0000df" stroke-width="1.71" d="M519.6 363.5l5.8 1 5.4 .8 4.9 .7M411.9 332.3l8.5 3 8.5 2.9 8.4 2.9M545.5 373.8l3.6 0 3 0M385.6 329.4l8.3 3.1 8.5 3.2M555.9 380.1l2-.3 1.4-.3M360 326.1l7.9 2.9 8.1 3.1M560.7 385.5l.8-.5 .2-.5M336.4 323.6l7.1 2.3 7.4 2.6M278.6 337l.9-3.3 1.4-2.9M315.6 323.2l6 1.3 6.5 1.7 6.7 2.1M477.9 346.1l.1 7.6M485.4 348.2l.2 7.6M492.6 350l.4 7.7M499.6 351.8l.5 7.6M506.3 353.3l.7 7.7M512.7 354.7l.8 7.6M518.8 356l.8 7.5M535.7 366l1.1 7.2M540.3 366.5l1.1 7M544.3 366.9l1.2 6.9M552.1 373.8l1.3 6.6M554.6 373.8l1.3 6.3M559.3 379.5l1.4 6M561.7 384.5l1.3 5.7M329.6 321.6l-1.5 4.6M336.4 323.6l-1.6 4.7M352.4 323.4l-1.5 5.1M360 326.1l-1.4 5.3M377.4 326.4l-1.4 5.7M403.5 329.4l-1.1 6.3M411.9 332.3l-1 6.5M437.9 334.1l-.6 7M446.1 336.7l-.4 7.2M454.3 339.2l-.3 7.3M462.3 341.7l-.2 7.4M470.2 344l-.1 7.5"/>
<path stroke="#0000ef" stroke-width="1.71" d="M477.9 346.1l7.5 2.1 7.2 1.8 7 1.8 6.7 1.5 6.4 1.4 6.1 1.3 5.7 1.1M429.5 331.4l8.4 2.7 8.2 2.6 8.2 2.5 8 2.5 7.9 2.3 7.7 2.1M535.7 366l4.6 .5 4 .4 3.5 .3M395.1 326.5l8.4 2.9 8.4 2.9M552.1 373.8l2.5 0 2-.1M361.4 320.8l7.9 2.8 8.1 2.8 8.2 3M559.3 379.5l.8-.3 .3-.3M344.9 321l7.5 2.4 7.6 2.7M561.7 384.5l-.4-.3M279.9 331.8l.9-3.2 1.4-2.8M323.1 319.9l6.5 1.7 6.8 2M280.9 330.8l1.9-2.6 2.4-2.2 3-1.7 3.4-1.3 3.9-.9 4.4-.4 4.8 0 5.2 .5 5.7 1M524.5 357.1l.9 7.4M529.8 358l1 7.3M534.6 358.9l1.1 7.1M547.8 367.2l1.3 6.6M550.8 367.4l1.3 6.4M556.6 373.7l1.3 6.1M558 373.5l1.3 6M560.1 379.2l1.4 5.8M560.4 378.9l1.3 5.6M280.8 328.6l-1.3 5.1M282.2 325.8l-1.3 5M284.1 323.4l-1.3 4.8M311.4 317.8l-1.5 4.4M317 318.6l-1.4 4.6M323.1 319.9l-1.5 4.6M337.8 318.8l-1.4 4.8M344.9 321l-1.4 4.9M361.4 320.8l-1.4 5.3M369.3 323.6l-1.4 5.4M378.6 320.8l-1.2 5.6M386.8 323.6l-1.2 5.8M395.1 326.5l-1.2 6M412.8 325.9l-.9 6.4M421.2 328.7l-.8 6.6M429.5 331.4l-.6 6.8"/>
<path stroke="#0000ff" stroke-width="1.70" d="M524.5 357.1l5.3 .9 4.8 .9 4.5 .6M404.4 323.2l8.4 2.7 8.4 2.8 8.3 2.7M547.8 367.2l3 .2 2.5 .1M370.6 318.1l8 2.7 8.2 2.8 8.3 2.9M556.6 373.7l1.4-.2 .8-.1M346.4 316l7.4 2.3 7.6 2.5M281.3 326.6l.8-2.9M324.6 315.4l6.4 1.5 6.8 1.9 7.1 2.2M282.2 325.8l1.9-2.4 2.5-2 2.9-1.7 3.5-1.2 3.9-.9 4.4-.3 4.8 0 5.3 .5 5.6 .8 6.1 1.3M477.7 338.7l.2 7.4M485.1 340.6l.3 7.6M492.2 342.5l.4 7.5M499.1 344.2l.5 7.6M505.7 345.8l.6 7.5M512 347.3l.7 7.4M517.9 348.6l.9 7.4M523.5 349.8l1 7.3M539.1 359.5l1.2 7M543.1 360.1l1.2 6.8M553.3 367.5l1.3 6.3M555.3 367.6l1.3 6.1M558.8 373.4l1.3 5.8M282.1 323.7l-1.3 4.9M283.5 321l-1.3 4.8M285.5 318.7l-1.4 4.7M286.6 321.4l-1.4 4.6M289.5 319.7l-1.3 4.6M293 318.5l-1.4 4.5M296.9 317.6l-1.4 4.5M301.3 317.3l-1.4 4.4M306.1 317.3l-1.4 4.4M318.5 314.2l-1.5 4.4M324.6 315.4l-1.5 4.5M331 316.9l-1.4 4.7M339.3 314l-1.5 4.8M346.4 316l-1.5 5M353.8 318.3l-1.4 5.1M362.7 315.6l-1.3 5.2M370.6 318.1l-1.3 5.5M396.1 320.4l-1 6.1M404.4 323.2l-.9 6.2M430.1 324.6l-.6 6.8M438.4 327.2l-.5 6.9M446.5 329.6l-.4 7.1M454.5 332l-.2 7.2M462.4 334.3l-.1 7.4M470.2 336.5l0 7.5"/>
<path stroke="#0010ff" stroke-width="1.69" d="M477.7 338.7l7.4 1.9 7.1 1.9 6.9 1.7 6.6 1.6 6.3 1.5 5.9 1.3 5.6 1.2M430.1 324.6l8.3 2.6 8.1 2.4 8 2.4 7.9 2.3 7.8 2.2 7.5 2.2M539.1 359.5l4 .6 3.5 .5M387.9 317.8l8.2 2.6 8.3 2.8M553.3 367.5l2 .1 1.4 .1M355.1 313.3l7.6 2.3 7.9 2.5M558.8 373.4l.2-.1M332.5 312.3l6.8 1.7 7.1 2M282.1 323.7l1.4-2.7 2-2.3 2.4-1.9 3-1.6 3.4-1.2M298.2 313.2l4.4-.3 4.9 0 5.3 .4 5.7 .9 6.1 1.2M528.7 350.9l1.1 7.1M533.5 351.9l1.1 7M537.9 352.7l1.2 6.8M546.6 360.6l1.2 6.6M549.5 361l1.3 6.4M552 361.4l1.3 6.1M556.7 367.7l1.3 5.8M557.5 367.8l1.3 5.6M283.5 318.8l-1.4 4.9M284.9 316.3l-1.4 4.7M287.9 316.8l-1.3 4.6M290.9 315.2l-1.4 4.5M294.3 314l-1.3 4.5M298.2 313.2l-1.3 4.4M302.6 312.9l-1.3 4.4M307.5 312.9l-1.4 4.4M312.8 313.3l-1.4 4.5M319.9 309.7l-1.4 4.5M326 310.8l-1.4 4.6M332.5 312.3l-1.5 4.6M347.7 311.1l-1.3 4.9M355.1 313.3l-1.3 5M371.8 312.7l-1.2 5.4M379.8 315.2l-1.2 5.6M387.9 317.8l-1.1 5.8M405.4 317l-1 6.2M413.6 319.5l-.8 6.4M421.9 322.1l-.7 6.6"/>
<path stroke="#0020ff" stroke-width="1.69" d="M477.5 331.3l7.2 2 7.1 1.8M470.1 329.3l7.4 2M523.5 349.8l5.2 1.1 4.8 1 4.4 .8 3.9 .8M397.1 314.5l8.3 2.5 8.2 2.5 8.3 2.6 8.2 2.5M546.6 360.6l2.9 .4 2.5 .4 1.9 .2M364 310.4l7.8 2.3 8 2.5 8.1 2.6M556.7 367.7l.8 .1 .2 .1M333.8 307.6l6.8 1.6 7.1 1.9 7.4 2.2M282.6 321.6l.9-2.8 1.4-2.5 1.9-2.2 2.4-1.9M308.9 308.5l5.3 .4 5.7 .8 6.1 1.1 6.5 1.5M294.3 314l3.9-.8M477.5 331.3l.2 7.4M484.7 333.3l.4 7.3M491.8 335.1l.4 7.4M498.5 336.9l.6 7.3M505 338.5l.7 7.3M511.2 340l.8 7.3M517 341.4l.9 7.2M522.5 342.7l1 7.1M541.8 353.5l1.3 6.6M545.3 354.2l1.3 6.4M548.2 354.8l1.3 6.2M553.9 361.6l1.4 6M555.3 361.9l1.4 5.8M284.8 313.9l-1.3 4.9M286.8 314.1l-1.3 4.6M289.2 312.2l-1.3 4.6M292.2 310.7l-1.3 4.5M295.6 309.6l-1.3 4.4M299.6 308.9l-1.4 4.3M304 308.5l-1.4 4.4M308.9 308.5l-1.4 4.4M314.2 308.9l-1.4 4.4M327.4 306.3l-1.4 4.5M333.8 307.6l-1.3 4.7M340.6 309.2l-1.3 4.8M356.4 308.2l-1.3 5.1M364 310.4l-1.3 5.2M380.9 309.6l-1.1 5.6M389 312l-1.1 5.8M397.1 314.5l-1 5.9M422.5 315.6l-.6 6.5M430.7 318l-.6 6.6M438.8 320.3l-.4 6.9M446.8 322.7l-.3 6.9M454.7 324.9l-.2 7.1M462.5 327.1l-.1 7.2M470.1 329.3l.1 7.2"/>
<path stroke="#0030ff" stroke-width="1.68" d="M491.8 335.1l6.7 1.8 6.5 1.6 6.2 1.5 5.8 1.4 5.5 1.3 5.1 1.2 4.8 1.1M414.4 313.2l8.1 2.4 8.2 2.4 8.1 2.3 8 2.4 7.9 2.2 7.8 2.2 7.6 2.2M541.8 353.5l3.5 .7 2.9 .6 2.5 .5M373 307.3l7.9 2.3 8.1 2.4 8.1 2.5M553.9 361.6l1.4 .3 .8 .3 .3 .3M342 304.5l7.1 1.8 7.3 1.9 7.6 2.2M283.9 316.6l.9-2.7 1.4-2.3 1.9-2.1M310.2 304.2l5.3 .4 5.7 .7 6.2 1 6.4 1.3M289.2 312.2l3-1.5 3.4-1.1 4-.7 4.4-.4 4.9 0M477.2 324.1l.3 7.2M484.3 326l.4 7.3M491.2 327.8l.6 7.3M497.9 329.6l.6 7.3M527.6 343.9l1.1 7M532.4 345l1.1 6.9M536.7 346.1l1.2 6.6M540.6 347l1.2 6.5M550.7 355.3l1.3 6.1M552.6 355.8l1.3 5.8M556.1 362.2l1.4 5.6M286.2 311.6l-1.3 4.7M288.1 309.5l-1.3 4.6M290.5 307.7l-1.3 4.5M293.5 306.3l-1.3 4.4M296.9 305.3l-1.3 4.3M300.9 304.5l-1.3 4.4M305.3 304.2l-1.3 4.3M310.2 304.2l-1.3 4.3M315.5 304.6l-1.3 4.3M321.2 305.3l-1.3 4.4M335.2 303l-1.4 4.6M342 304.5l-1.4 4.7M349.1 306.3l-1.4 4.8M365.2 305.2l-1.2 5.2M373 307.3l-1.2 5.4M398.1 308.5l-1 6M406.2 310.8l-.8 6.2M414.4 313.2l-.8 6.3M462.4 320l.1 7.1M469.9 322.1l.2 7.2"/>
<path stroke="#0040ff" stroke-width="1.67" d="M477.2 324.1l7.1 1.9 6.9 1.8 6.7 1.8 6.3 1.7M447 315.8l7.8 2.1 7.6 2.1 7.5 2.1 7.3 2M532.4 345l4.3 1.1 3.9 .9 3.4 .8M382 304.1l8 2.1 8.1 2.3 8.1 2.3 8.2 2.4M550.7 355.3l1.9 .5 1.4 .4 .8 .5M350.3 301.4l7.4 1.8 7.5 2 7.8 2.1M285.2 311.7l.9-2.5 1.3-2.3 2-1.9M316.8 300.2l5.8 .6 6.1 1 6.5 1.2 6.8 1.5M288.1 309.5l2.4-1.8 3-1.4 3.4-1 4-.8 4.4-.3 4.9 0M504.2 331.3l.8 7.2M510.3 332.9l.9 7.1M516.1 334.4l.9 7M521.5 335.8l1 6.9M526.5 337.1l1.1 6.8M531.2 338.3l1.2 6.7M544 347.8l1.3 6.4M546.9 348.6l1.3 6.2M549.4 349.3l1.3 6M554 356.2l1.3 5.7M554.8 356.7l1.3 5.5M286.1 309.2l-1.3 4.7M287.4 306.9l-1.2 4.7M289.4 305l-1.3 4.5M291.8 303.3l-1.3 4.4M294.8 302l-1.3 4.3M298.2 301l-1.3 4.3M302.2 300.3l-1.3 4.2M306.6 299.9l-1.3 4.3M311.5 299.9l-1.3 4.3M316.8 300.2l-1.3 4.4M322.6 300.8l-1.4 4.5M328.7 301.8l-1.3 4.5M336.5 298.4l-1.3 4.6M343.2 299.8l-1.2 4.7M350.3 301.4l-1.2 4.9M357.7 303.2l-1.3 5M374.1 302l-1.1 5.3M382 304.1l-1.1 5.5M390 306.2l-1 5.8M415 307l-.6 6.2M423.1 309.2l-.6 6.4M431.1 311.4l-.4 6.6M439.1 313.6l-.3 6.7M447 315.8l-.2 6.9M454.8 317.9l-.1 7"/>
<path stroke="#0050ff" stroke-width="1.66" d="M504.2 331.3l6.1 1.6 5.8 1.5 5.4 1.4 5 1.3 4.7 1.2 4.3 1.2M407 304.8l8 2.2 8.1 2.2 8 2.2 8 2.2 7.9 2.2M544 347.8l2.9 .8 2.5 .7 1.9 .7 1.4 .6M358.9 298.2l7.5 1.8 7.7 2 7.9 2.1M554.8 356.7l.3 .4M286.5 306.8l.9-2.3 1.3-2.1M323.9 296.5l6.1 .8 6.5 1.1 6.7 1.4 7.1 1.6M289.4 305l2.4-1.7 3-1.3 3.4-1 4-.7 4.4-.4 4.9 0 5.3 .3M476.9 317l.3 7.1M483.9 318.9l.4 7.1M490.7 320.7l.5 7.1M497.2 322.5l.7 7.1M503.4 324.2l.8 7.1M509.4 325.8l.9 7.1M535.5 339.5l1.2 6.6M539.3 340.6l1.3 6.4M542.7 341.6l1.3 6.2M545.6 342.5l1.3 6.1M551.3 350l1.3 5.8M552.7 350.6l1.3 5.6M553.5 351.2l1.3 5.5M287.4 304.5l-1.3 4.7M288.7 302.4l-1.3 4.5M290.6 300.5l-1.2 4.5M293.1 299l-1.3 4.3M296 297.7l-1.2 4.3M299.5 296.7l-1.3 4.3M303.5 296l-1.3 4.3M307.9 295.7l-1.3 4.2M312.8 295.6l-1.3 4.3M318.1 295.9l-1.3 4.3M323.9 296.5l-1.3 4.3M330 297.3l-1.3 4.5M344.5 295.1l-1.3 4.7M351.5 296.5l-1.2 4.9M358.9 298.2l-1.2 5M366.4 300l-1.2 5.2M383 298.5l-1 5.6M390.9 300.5l-.9 5.7M398.9 302.6l-.8 5.9M407 304.8l-.8 6M447.2 309l-.2 6.8M454.8 311.1l0 6.8M462.3 313.1l.1 6.9M469.7 315.1l.2 7"/>
<path stroke="#0060ff" stroke-width="1.66" d="M476.9 317l7 1.9 6.8 1.8 6.5 1.8 6.2 1.7 6 1.6 5.7 1.6M431.5 304.9l7.9 2.1 7.8 2 7.6 2.1 7.5 2 7.4 2 7.2 1.9M535.5 339.5l3.8 1.1 3.4 1 2.9 .9 2.4 .9M367.5 294.9l7.7 1.7 7.8 1.9 7.9 2 8 2.1 8.1 2.2M552.7 350.6l.8 .6 .3 .6M287.8 302.1l.8-2.2M331.2 292.9l6.5 1 6.8 1.2 7 1.4 7.4 1.7M288.7 302.4l1.9-1.9 2.5-1.5 2.9-1.3 3.5-1 4-.7 4.4-.3 4.9-.1 5.3 .3 5.8 .6M515.1 327.4l1 7M520.4 328.9l1.1 6.9M525.4 330.3l1.1 6.8M530 331.7l1.2 6.6M534.2 333l1.3 6.5M538 334.3l1.3 6.3M548 343.4l1.4 5.9M549.9 344.3l1.4 5.7M551.3 345.1l1.4 5.5M552.2 345.9l1.3 5.3M288.6 299.9l-1.2 4.6M290 297.9l-1.3 4.5M291.9 296.1l-1.3 4.4M294.3 294.6l-1.2 4.4M297.3 293.4l-1.3 4.3M304.7 291.8l-1.2 4.2M309.2 291.5l-1.3 4.2M314.1 291.4l-1.3 4.2M319.4 291.6l-1.3 4.3M325.1 292.1l-1.2 4.4M331.2 292.9l-1.2 4.4M337.7 293.9l-1.2 4.5M352.7 291.7l-1.2 4.8M360 293.2l-1.1 5M367.5 294.9l-1.1 5.1M375.2 296.6l-1.1 5.4M399.7 296.8l-.8 5.8M407.7 298.8l-.7 6M415.6 300.8l-.6 6.2M423.6 302.8l-.5 6.4M431.5 304.9l-.4 6.5M439.4 307l-.3 6.6"/>
<path stroke="#0070ff" stroke-width="1.65" d="M515.1 327.4l5.3 1.5 5 1.4 4.6 1.4 4.2 1.3 3.8 1.3 3.4 1.1M383.9 293.1l7.9 1.8 7.9 1.9 8 2 7.9 2 8 2 7.9 2.1M548 343.4l1.9 .9 1.4 .8 .9 .8 .2 .7M338.9 289.3l6.8 1.1 7 1.3 7.3 1.5 7.5 1.7M288.6 299.9l1.4-2 1.9-1.8 2.4-1.5 3-1.2 3.5-.9 3.9-.7 4.5-.3 4.9-.1 5.3 .2 5.7 .5 6.1 .8M476.5 310l.4 7M483.4 311.9l.5 7M490 313.7l.7 7M496.4 315.5l.8 7M502.6 317.2l.8 7M508.5 318.9l.9 6.9M514.1 320.6l1 6.8M519.3 322.2l1.1 6.7M541.4 335.4l1.3 6.2M544.3 336.6l1.3 5.9M546.7 337.6l1.3 5.8M548.6 338.6l1.3 5.7M289.9 295.3l-1.3 4.6M291.3 293.4l-1.3 4.5M293.2 291.8l-1.3 4.3M295.6 290.4l-1.3 4.2M300.8 292.5l-1.3 4.2M315.3 287.2l-1.2 4.2M320.6 287.4l-1.2 4.2M326.4 287.8l-1.3 4.3M332.5 288.4l-1.3 4.5M338.9 289.3l-1.2 4.6M345.7 290.4l-1.2 4.7M361.1 288.3l-1.1 4.9M368.5 289.7l-1 5.2M376.2 291.4l-1 5.2M383.9 293.1l-.9 5.4M391.8 294.9l-.9 5.6M424 296.6l-.4 6.2M431.9 298.5l-.4 6.4M439.6 300.4l-.2 6.6M447.3 302.4l-.1 6.6M454.8 304.3l0 6.8M462.2 306.2l.1 6.9M469.4 308.1l.3 7"/>
<path stroke="#0080ff" stroke-width="1.64" d="M476.5 310l6.9 1.9 6.6 1.8 6.4 1.8 6.2 1.7 5.9 1.7 5.6 1.7 5.2 1.6 5 1.5 4.5 1.5M408.3 292.8l7.9 1.9 7.8 1.9 7.9 1.9 7.7 1.9 7.7 2 7.5 1.9 7.4 1.9 7.2 1.9 7.1 1.9M541.4 335.4l2.9 1.2 2.4 1 1.9 1 1.4 1 .8 .9 .3 .9M346.8 285.8l7 1.1 7.3 1.4 7.4 1.4 7.7 1.7 7.7 1.7M289.1 297.4l.8-2.1 1.4-1.9 1.9-1.6 2.4-1.4 2.9-1.2 3.5-.9 4-.6 4.4-.4 4.9-.1 5.3 .2 5.8 .4 6.1 .6 6.4 .9M524.3 323.7l1.1 6.6M528.8 325.2l1.2 6.5M533 326.7l1.2 6.3M536.7 328l1.3 6.3M540.1 329.4l1.3 6M542.9 330.7l1.4 5.9M550 339.6l1.3 5.5M550.8 340.5l1.4 5.4M291.2 290.8l-1.3 4.5M292.5 289.1l-1.2 4.3M298.5 289.2l-1.2 4.2M302 288.3l-1.2 4.2M306 287.7l-1.3 4.1M310.4 287.3l-1.2 4.2M321.8 283.2l-1.2 4.2M327.5 283.5l-1.1 4.3M333.6 284l-1.1 4.4M340.1 284.8l-1.2 4.5M346.8 285.8l-1.1 4.6M353.8 286.9l-1.1 4.8M377.1 286.1l-.9 5.3M384.8 287.7l-.9 5.4M392.6 289.3l-.8 5.6M400.4 291l-.7 5.8M408.3 292.8l-.6 6M416.2 294.7l-.6 6.1"/>
<path stroke="#008fff" stroke-width="1.64" d="M476.1 303.2l6.7 1.8 6.6 1.9 6.3 1.8 6 1.7 5.8 1.8M439.8 294l7.5 1.8 7.4 1.8 7.3 1.9 7.1 1.9 7 1.8M528.8 325.2l4.2 1.5 3.7 1.3 3.4 1.4 2.8 1.3 2.4 1.2 1.9 1.2 1.4 1.1 .9 1.1 .3 1M341.2 280.3l6.7 .9 7 1 7.2 1.2 7.4 1.3 7.6 1.4 7.7 1.6 7.8 1.6 7.8 1.7 7.9 1.8M290.4 292.7l.8-1.9 1.3-1.7 1.9-1.6 2.4-1.3 2.9-1.1 3.5-.9 4-.6 4.4-.4 4.9-.1 5.3 .1 5.7 .3 6.1 .5 6.5 .8 6.7 1M476.1 303.2l.4 6.8M482.8 305l.6 6.9M489.4 306.9l.6 6.8M495.7 308.7l.7 6.8M501.7 310.4l.9 6.8M507.5 312.2l1 6.7M513 313.9l1.1 6.7M518.2 315.6l1.1 6.6M523.1 317.2l1.2 6.5M527.6 318.8l1.2 6.4M531.7 320.4l1.3 6.3M535.4 321.9l1.3 6.1M538.7 323.4l1.4 6M541.6 324.9l1.3 5.8M545.3 331.9l1.4 5.7M547.2 333.1l1.4 5.5M548.6 334.2l1.4 5.4M549.5 335.3l1.3 5.2M292.5 286.4l-1.3 4.4M293.8 284.7l-1.3 4.4M295.6 283.3l-1.2 4.2-1.2 4.3M298 282l-1.2 4.2-1.2 4.2M301 281l-1.3 4.1-1.2 4.1M304.4 280.1l-1.2 4.1-1.2 4.1M308.3 279.5l-1.1 4.1-1.2 4.1M312.8 279.1l-1.2 4.1-1.2 4.1M317.7 278.9l-1.2 4.2-1.2 4.1M323 279l-1.2 4.2M328.7 279.2l-1.2 4.3M334.8 279.7l-1.2 4.3M341.2 280.3l-1.1 4.5M347.9 281.2l-1.1 4.6M354.9 282.2l-1.1 4.7M362.1 283.4l-1 4.9M369.5 284.7l-1 5M385.6 282.3l-.8 5.4M393.3 283.8l-.7 5.5M401.1 285.3l-.7 5.7M408.9 286.9l-.6 5.9M416.7 288.6l-.5 6.1M424.4 290.4l-.4 6.2M432.1 292.2l-.2 6.3M439.8 294l-.2 6.4M447.3 295.8l0 6.6M454.7 297.6l.1 6.7M462 299.5l.2 6.7M469.1 301.4l.3 6.7"/>
<path stroke="#009fff" stroke-width="1.63" d="M507.5 312.2l5.5 1.7 5.2 1.7 4.9 1.6 4.5 1.6 4.1 1.6 3.7 1.5 3.3 1.5 2.9 1.5 2.4 1.3 1.9 1.4 1.4 1.3 .9 1.2 .3 1.2M342.3 275.9l6.7 .7 6.9 .9 7.2 1 7.4 1.1 7.5 1.3 7.6 1.4 7.7 1.5 7.8 1.5 7.8 1.6 7.8 1.7 7.7 1.8 7.7 1.8 7.7 1.8M291.7 288.2l.8-1.8 1.3-1.7 1.8-1.4 2.4-1.3 3-1 3.4-.9 3.9-.6 4.5-.4 4.9-.2 5.3 .1 5.7 .2 6.1 .5 6.4 .6M475.6 296.5l.5 6.7M482.2 298.3l.6 6.7M488.7 300.1l.7 6.8M494.9 301.9l.8 6.8M500.8 303.8l.9 6.6M506.5 305.5l1 6.7M512 307.3l1 6.6M517.1 309.1l1.1 6.5M521.9 310.9l1.2 6.3M526.3 312.6l1.3 6.2M530.4 314.3l1.3 6.1M534.1 315.9l1.3 6M544 326.2l1.3 5.7M545.9 327.6l1.3 5.5M547.3 328.9l1.3 5.3M548.2 330.1l1.3 5.2M293.7 282l-1.2 4.4M295 280.5l-1.2 4.2M296.8 279.1l-1.2 4.2M299.2 277.9l-1.2 4.1M302.1 276.9l-1.1 4.1M305.6 276.1l-1.2 4M309.5 275.5l-1.2 4M313.9 275.1l-1.1 4M318.8 274.8l-1.1 4.1M324.1 274.8l-1.1 4.2M329.8 275l-1.1 4.2M335.9 275.4l-1.1 4.3M342.3 275.9l-1.1 4.4M349 276.6l-1.1 4.6M355.9 277.5l-1 4.7M363.1 278.5l-1 4.9M370.5 279.6l-1 5.1M378 280.9l-.9 5.2M394 278.3l-.7 5.5M401.7 279.7l-.6 5.6M409.4 281.2l-.5 5.7M417.1 282.7l-.4 5.9M424.7 284.3l-.3 6.1M432.3 285.9l-.2 6.3M439.8 287.6l0 6.4M447.3 289.4l0 6.4M454.6 291.1l.1 6.5M461.7 292.9l.3 6.6M468.7 294.7l.4 6.7"/>
<path stroke="#00afff" stroke-width="1.62" d="M475.6 296.5l6.6 1.8 6.5 1.8 6.2 1.8 5.9 1.9 5.7 1.7 5.5 1.8 5.1 1.8 4.8 1.8 4.4 1.7 4.1 1.7 3.7 1.6 3.3 1.7 2.8 1.5 2.4 1.6 1.9 1.5 1.5 1.4 .8 1.4 .4 1.3M294.3 279.2l.7-1.5 1.2-1.5M330.9 270.8l6.1 .3 6.4 .4 6.6 .6 6.9 .7 7.2 .9 7.3 1 7.4 1.1 7.6 1.2 7.6 1.3 7.7 1.4 7.7 1.5 7.7 1.5 7.6 1.6 7.6 1.6 7.5 1.7 7.5 1.8 7.3 1.7 7.1 1.8 7 1.8 6.9 1.8M293 283.7l.7-1.7 1.3-1.5 1.8-1.4 2.4-1.2 2.9-1 3.5-.8 3.9-.6 4.4-.4 4.9-.3 5.3 0 5.7 .2 6.1 .4 6.4 .5M475 289.9l.6 6.6M481.6 291.7l.6 6.6M487.9 293.5l.8 6.6M494 295.3l.9 6.6M499.9 297.2l.9 6.6M505.5 299l1 6.5M510.9 300.9l1.1 6.4M515.9 302.7l1.2 6.4M537.4 317.6l1.3 5.8M540.2 319.1l1.4 5.8M542.6 320.7l1.4 5.5M544.5 322.2l1.4 5.4M546 323.6l1.3 5.3M546.8 325l1.4 5.1M295 277.7l-1.3 4.3M296.2 276.2l-1.2 4.3M298.1 275l-1.3 4.1M300.4 273.9l-1.2 4M303.3 272.9l-1.2 4M306.7 272.1l-1.1 4M310.7 271.5l-1.2 4M315.1 271.1l-1.2 4M319.9 270.8l-1.1 4M325.2 270.7l-1.1 4.1M330.9 270.8l-1.1 4.2M337 271.1l-1.1 4.3M343.4 271.5l-1.1 4.4M350 272.1l-1 4.5M356.9 272.8l-1 4.7M364.1 273.7l-1 4.8M371.4 274.7l-.9 4.9M378.8 275.8l-.8 5.1M386.4 277l-.8 5.3M425 278.3l-.3 6M432.5 279.8l-.2 6.1M439.9 281.4l-.1 6.2M447.2 283l.1 6.4M454.4 284.7l.2 6.4M461.4 286.4l.3 6.5M468.3 288.1l.4 6.6"/>
<path stroke="#00bfff" stroke-width="1.61" d="M475 289.9l6.6 1.8 6.3 1.8 6.1 1.8 5.9 1.9 5.6 1.8 5.4 1.9 5 1.8 4.8 1.9 4.4 1.8 4 1.8 3.7 1.8 3.2 1.8 2.9 1.7 2.4 1.7 1.9 1.6 1.4 1.6 .9 1.5 .4 1.4M295.5 274.8l.7-1.4 1.3-1.3 1.8-1.2 2.3-1.1 2.9-.9 3.4-.7 3.9-.6 4.4-.5 4.8-.3 5.3-.1 5.7 0 6 .1 6.4 .3 6.6 .5 6.9 .6 7.1 .7 7.2 .8 7.4 1 7.5 1 7.5 1.2 7.6 1.2 7.6 1.3 7.6 1.4 7.6 1.5 7.5 1.5 7.4 1.6 7.3 1.6 7.2 1.7 7 1.7 6.9 1.7 6.7 1.8M296.2 276.2l1.9-1.2 2.3-1.1 2.9-1 3.4-.8 4-.6 4.4-.4 4.8-.3 5.3-.1 5.7 .1M520.7 304.6l1.2 6.3M525.1 306.4l1.2 6.2M529.1 308.2l1.3 6.1M532.8 310l1.3 5.9M536 311.8l1.4 5.8M538.9 313.5l1.3 5.6M541.3 315.2l1.3 5.5M543.2 316.8l1.3 5.4M544.6 318.4l1.4 5.2M545.5 319.9l1.3 5.1M296.2 273.4l-1.2 4.3M297.5 272.1l-1.3 4.1M299.3 270.9l-1.2 4.1M301.6 269.8l-1.2 4.1M304.5 268.9l-1.2 4M307.9 268.2l-1.2 3.9M311.8 267.6l-1.1 3.9M316.2 267.1l-1.1 4M321 266.8l-1.1 4M326.3 266.7l-1.1 4M332 266.7l-1.1 4.1M338 266.8l-1 4.3M344.4 267.1l-1 4.4M351 267.6l-1 4.5M357.9 268.2l-1 4.6M365 268.9l-.9 4.8M372.2 269.7l-.8 5M379.6 270.7l-.8 5.1M387.1 271.7l-.7 5.3M394.6 272.9l-.6 5.4M402.2 274.1l-.5 5.6M409.8 275.4l-.4 5.8M417.4 276.8l-.3 5.9"/>
<path stroke="#00cfff" stroke-width="1.61" d="M474.4 283.5l6.5 1.7 6.2 1.8 6 1.9 5.8 1.9 5.6 1.8 5.2 2 5 1.9 4.7 1.9 4.4 1.9 4 2 3.6 1.9 3.3 1.9 2.8 1.8 2.4 1.9 1.9 1.7 1.5 1.7 .9 1.7 .4 1.6M296.8 270.5l.7-1.3 1.2-1.2 1.8-1.1 2.3-1 2.8-.9 3.4-.7 3.9-.6 4.4-.5 4.8-.4 5.3-.2 5.6 0 6 0 6.3 .2 6.6 .3 6.9 .5 7 .6 7.2 .6 7.3 .8 7.4 .9 7.5 1 7.5 1.1 7.5 1.2 7.5 1.3 7.5 1.3 7.4 1.4 7.2 1.5 7.2 1.5 7.1 1.6 6.9 1.6 6.8 1.7 6.6 1.8 .6 6.4M480.9 285.2l.7 6.5M487.1 287l.8 6.5M493.1 288.9l.9 6.4M498.9 290.8l1 6.4M504.5 292.6l1 6.4M509.7 294.6l1.2 6.3M514.7 296.5l1.2 6.2M519.4 298.4l1.3 6.2M523.8 300.3l1.3 6.1M527.8 302.3l1.3 5.9M531.4 304.2l1.4 5.8M534.7 306.1l1.3 5.7M537.5 307.9l1.4 5.6M539.9 309.8l1.4 5.4M541.8 311.5l1.4 5.3M543.3 313.2l1.3 5.2M544.2 314.9l1.3 5M297.5 269.2l-1.3 4.2M298.7 268l-1.2 4.1M300.5 266.9l-1.2 4M302.8 265.9l-1.2 3.9M305.6 265l-1.1 3.9M309 264.3l-1.1 3.9M312.9 263.7l-1.1 3.9M317.3 263.2l-1.1 3.9M322.1 262.8l-1.1 4M327.4 262.6l-1.1 4.1M333 262.6l-1 4.1M339 262.6l-1 4.2M345.3 262.8l-.9 4.3M351.9 263.1l-.9 4.5M358.8 263.6l-.9 4.6M365.8 264.2l-.8 4.7M373 264.8l-.8 4.9M380.3 265.6l-.7 5.1M387.7 266.5l-.6 5.2M395.2 267.5l-.6 5.4M402.7 268.6l-.5 5.5M410.2 269.8l-.4 5.6M417.7 271.1l-.3 5.7M425.2 272.4l-.2 5.9M432.6 273.8l-.1 6M439.8 275.3l.1 6.1M447 276.8l.2 6.2M454.1 278.4l.3 6.3M461 280l.4 6.4M467.8 281.7l.5 6.4"/>
<path stroke="#00dfff" stroke-width="1.60" d="M518.1 292.3l4.4 2.1 3.9 2 3.7 2 3.2 2 2.8 2 2.4 2 2 1.9 1.4 1.9 1 1.7 .4 1.7M298.1 266.2l.6-1.2 1.2-1.1 1.7-1 2.3-.9 2.9-.9 3.3-.7 3.9-.6 4.3-.5 4.9-.4 5.2-.3 5.6-.1 6-.1 6.3 .1 6.5 .2 6.8 .3 7 .5 7.2 .5 7.2 .7 7.4 .7 7.3 .9 7.5 .9 7.4 1 7.4 1.2M473.8 277.1l.6 6.4M480.1 278.9l.8 6.3M486.3 280.7l.8 6.3M492.2 282.5l.9 6.4M497.9 284.4l1 6.4M503.4 286.4l1.1 6.2M508.6 288.3l1.1 6.3M513.5 290.3l1.2 6.2M518.1 292.3l1.3 6.1M522.5 294.4l1.3 5.9M526.4 296.4l1.4 5.9M530.1 298.4l1.3 5.8M533.3 300.4l1.4 5.7M536.1 302.4l1.4 5.5M538.5 304.4l1.4 5.4M540.5 306.3l1.3 5.2M541.9 308.2l1.4 5M542.9 309.9l1.3 5M298.7 265l-1.2 4.2M301.1 259.9l-1.2 4-1.2 4.1M302.8 259l-1.2 3.9-1.1 4M305.1 258.1l-1.2 3.9-1.1 3.9M307.9 257.3l-1.1 3.8-1.2 3.9M311.2 256.6l-1.1 3.8-1.1 3.9M315.1 256l-1.1 3.8-1.1 3.9M319.4 255.5l-1.1 3.8-1 3.9M324.2 255l-1 3.9-1.1 3.9M329.4 254.7l-1 3.9-1 4M334 258.5l-1 4.1M340 258.4l-1 4.2M346.3 258.5l-1 4.3M352.8 258.7l-.9 4.4M359.6 259l-.8 4.6M366.6 259.5l-.8 4.7M373.8 260l-.8 4.8M381 260.7l-.7 4.9M388.4 261.4l-.7 5.1M395.7 262.3l-.5 5.2M403.2 263.2l-.5 5.4M410.6 264.2l-.4 5.6M418 265.4l-.3 5.7M425.3 266.6l-.1 5.8M432.6 267.9l0 5.9M439.8 269.2l0 6.1M446.9 270.7l.1 6.1M453.8 272.2l.3 6.2M460.6 273.8l.4 6.2M467.3 275.4l.5 6.3"/>
<path stroke="#00efff" stroke-width="1.59" d="M528.7 292.8l3.2 2.1 2.8 2.1 2.4 2.1 2 2 1.5 2 .9 1.9 .5 1.8M299.4 262l.6-1.1 1.1-1 1.7-.9 2.3-.9 2.8-.8 3.3-.7 3.9-.6 4.3-.5 4.8-.5 5.2-.3 5.6-.2 5.9-.2 6.3 0 6.5 .1 6.7 .2 7 .2 7.1 .4 7.1 .5 7.3 .7 7.3 .7M473.8 277.1l6.3 1.8 6.2 1.8 5.9 1.8 5.7 1.9 5.5 2 5.2 1.9 4.9 2 4.6 2M418 265.4l7.3 1.2 7.3 1.3 7.2 1.3 7.1 1.5 6.9 1.5 6.8 1.6 6.7 1.6 6.5 1.7M473.2 270.9l.6 6.2M479.4 272.7l.7 6.2M485.4 274.5l.9 6.2M491.3 276.3l.9 6.2M496.9 278.2l1 6.2M502.3 280.2l1.1 6.2M507.4 282.2l1.2 6.1M512.3 284.3l1.2 6M516.9 286.4l1.2 5.9M521.1 288.5l1.4 5.9M525.1 290.6l1.3 5.8M528.7 292.8l1.4 5.6M531.9 294.9l1.4 5.5M534.7 297l1.4 5.4M537.1 299.1l1.4 5.3M539.1 301.1l1.4 5.2M540.6 303.1l1.3 5.1M541.5 305l1.4 4.9M301.2 256.9l-1.2 4-1.3 4.1M302.3 255.9l-1.2 4M304 255.1l-1.2 3.9M306.2 254.3l-1.1 3.8M309 253.5l-1.1 3.8M312.3 252.8l-1.1 3.8M316.1 252.2l-1 3.8M320.4 251.7l-1 3.8M325.2 251.2l-1 3.8M330.4 250.8l-1 3.9M335.9 250.5l-.9 4-1 4M341.8 250.2l-.9 4.1-.9 4.1M348 250.1l-.8 4.2-.9 4.2M353.7 254.4l-.9 4.3M360.4 254.6l-.8 4.4M367.4 254.8l-.8 4.7M374.5 255.2l-.7 4.8M381.6 255.7l-.6 5M388.9 256.4l-.5 5M396.2 257.1l-.5 5.2M403.6 257.9l-.4 5.3M410.9 258.8l-.3 5.4M418.2 259.8l-.2 5.6M425.4 260.9l-.1 5.7M432.6 262.1l0 5.8M439.6 263.3l.2 5.9M446.6 264.7l.3 6M453.5 266.1l.3 6.1M460.2 267.7l.4 6.1M466.7 269.3l.6 6.1"/>
<path stroke="#00ffff" stroke-width="1.59" d="M305.1 251.2l2.2-.7 2.8-.7 3.3-.7 3.7-.6 4.3-.6 4.7-.5M530.5 289.4l2.8 2.3 2.4 2.2 2 2.1 1.5 2.1 1 2.1 .5 1.9M300.6 257.8l.6-.9 1.1-1 1.7-.8 2.2-.8 2.8-.8 3.3-.7 3.8-.6 4.3-.5 4.8-.5 5.2-.4 5.5-.3 5.9-.3 6.2-.1 6.5 0 6.7 0 6.9 .2 7 .2 7.1 .4 7.2 .5M473.2 270.9l6.2 1.8 6 1.8 5.9 1.8 5.6 1.9 5.4 2 5.1 2 4.9 2.1 4.6 2.1 4.2 2.1 4 2.1 3.6 2.2M396.2 257.1l7.4 .8 7.3 .9 7.3 1 7.2 1.1 7.2 1.2 7 1.2 7 1.4 6.9 1.4 6.7 1.6 6.5 1.6 6.5 1.6M478.6 266.6l.8 6.1M484.5 268.4l.9 6.1M490.3 270.2l1 6.1M495.8 272.2l1.1 6M501.1 274.2l1.2 6M506.2 276.2l1.2 6M511 278.4l1.3 5.9M515.6 280.5l1.3 5.9M519.8 282.7l1.3 5.8M523.7 284.9l1.4 5.7M527.3 287.2l1.4 5.6M530.5 289.4l1.4 5.5M533.3 291.7l1.4 5.3M535.7 293.9l1.4 5.2M537.7 296l1.4 5.1M539.2 298.1l1.4 5M538.9 295.4l1.3 4.8 1.3 4.8M302.4 252.8l-1.2 4.1M303.5 252l-1.2 3.9M305.1 251.2l-1.1 3.9M307.3 250.5l-1.1 3.8M310.1 249.8l-1.1 3.7M313.4 249.1l-1.1 3.7M317.1 248.5l-1 3.7M321.4 247.9l-1 3.8M326.1 247.4l-.9 3.8M331.3 246.9l-.9 3.9M336.8 246.5l-.9 4M342.7 246.2l-.9 4M348.9 246l-.9 4.1M355.3 245.8l-.8 4.3-.8 4.3M361.2 250.1l-.8 4.5M368.1 250.3l-.7 4.5M375.1 250.5l-.6 4.7M382.2 250.9l-.6 4.8M389.4 251.4l-.5 5M396.7 251.9l-.5 5.2M403.9 252.6l-.3 5.3M411.1 253.4l-.2 5.4M418.3 254.3l-.1 5.5M425.5 255.3l-.1 5.6M432.5 256.4l.1 5.7M439.5 257.5l.1 5.8M446.3 258.8l.3 5.9M453.1 260.2l.4 5.9M459.7 261.6l.5 6.1M466.1 263.2l.6 6.1"/>
<path stroke="#10ffef" stroke-width="1.58" d="M303.2 249.6l.5-.7 1-.7 1.6-.8 2.2-.6 2.7-.7 3.2-.7 3.8-.6 4.2-.6 4.7-.6 5.1-.5 5.5-.5 5.9-.4M529.1 284l2.8 2.4 2.5 2.3 1.9 2.3 1.5 2.2 1.1 2.2 .5 2M301.9 253.7l.5-.9 1.1-.8 1.6-.8M326.1 247.4l5.2-.5 5.5-.4 5.9-.3 6.2-.2 6.4-.2 6.7-.1 6.8 .1 6.9 .1 7.1 .2 7.1 .4M472.4 264.8l6.2 1.8 5.9 1.8 5.8 1.8 5.5 2 5.3 2 5.1 2 4.8 2.2 4.6 2.1 4.2 2.2 3.9 2.2 3.6 2.3 3.2 2.2M389.4 251.4l7.3 .5 7.2 .7 7.2 .8 7.2 .9 7.2 1 7 1.1 7 1.1 6.8 1.3 6.8 1.4 6.6 1.4 6.4 1.6 6.3 1.6 .8 6.1M509.8 272.5l1.2 5.9M514.3 274.8l1.3 5.7M518.5 277l1.3 5.7M522.4 279.4l1.3 5.5M525.9 281.7l1.4 5.5M529.1 284l1.4 5.4M531.9 286.4l1.4 5.3M534.4 288.7l1.3 5.2M536.3 291l1.4 5M536.5 288.3l1.3 4.9 1.4 4.9M537.6 290.6l1.3 4.8M303.7 248.9l-1.3 3.9M304.7 248.2l-1.2 3.8M306.3 247.4l-1.2 3.8M308.5 246.8l-1.2 3.7M311.2 246.1l-1.1 3.7M314.4 245.4l-1 3.7M318.2 244.8l-1.1 3.7M322.4 244.2l-1 3.7M327.1 243.6l-1 3.8M332.2 243.1l-.9 3.8M337.7 242.6l-.9 3.9M343.6 242.2l-.9 4M349.7 241.9l-.8 4.1M356.1 241.6l-.8 4.2M362.7 241.4l-.7 4.3-.8 4.4M368.8 245.8l-.7 4.5M375.7 245.9l-.6 4.6M382.8 246.1l-.6 4.8M389.9 246.5l-.5 4.9M397 246.9l-.3 5M404.2 247.5l-.3 5.1M411.3 248.1l-.2 5.3M418.4 248.9l-.1 5.4M425.4 249.8l.1 5.5"/>
<path stroke="#20ffdf" stroke-width="1.57" d="M304.4 245.6l.5-.6 1-.7 1.6-.6 2.1-.6 2.6-.7 3.2-.6 3.8-.6 4.2-.7 4.6-.6 5.1-.6 5.5-.5 5.8-.5 6.1-.5M527.7 278.7l2.8 2.5 2.5 2.4 1.9 2.4 1.6 2.3 1.1 2.3 .5 2.1M343.6 242.2l6.1-.3 6.4-.3 6.6-.2 6.7-.1 6.9 0 7 .1 7 .2M471.7 258.9l6 1.7 5.9 1.8 5.7 1.8 5.4 2 5.3 2 5 2.1 4.8 2.2 4.5 2.3 4.2 2.2 3.9 2.4 3.5 2.3 3.2 2.3M389.9 246.5l7.1 .4 7.2 .6 7.1 .6 7.1 .8 7 .9 7 1 6.9 1 6.7 1.2 6.7 1.4 6.5 1.4 6.3 1.5 6.2 1.6 .7 5.9M477.7 260.6l.9 6M483.6 262.4l.9 6M489.3 264.2l1 6M494.7 266.2l1.1 6M500 268.2l1.1 6M505 270.3l1.2 5.9M512.9 269.1l1.4 5.7M517.1 271.4l1.4 5.6M521 273.8l1.4 5.6M524.5 276.3l1.4 5.4M527.7 278.7l1.4 5.3M530.5 281.2l1.4 5.2M533 283.6l1.4 5.1M534.9 286l1.4 5M535.1 283.5l1.4 4.8M536.2 285.9l1.4 4.7M304.9 245l-1.2 3.9M305.9 244.3l-1.2 3.9M308.6 240l-1.1 3.7-1.2 3.7M310.7 239.4l-1.1 3.7-1.1 3.7M313.3 238.8l-1.1 3.6-1 3.7M316.5 238.2l-1.1 3.6-1 3.6M320.2 237.5l-1 3.7-1 3.6M324.3 236.9l-.9 3.6-1 3.7M329 236.3l-1 3.6-.9 3.7M333.1 239.3l-.9 3.8M338.6 238.8l-.9 3.8M344.4 238.3l-.8 3.9M350.5 237.8l-.8 4.1M356.8 237.5l-.7 4.1M363.3 237.2l-.6 4.2M369.4 241.3l-.6 4.5M376.3 241.3l-.6 4.6M383.3 241.4l-.5 4.7M390.3 241.6l-.4 4.9M397.4 241.9l-.4 5M404.4 242.4l-.2 5.1M411.5 242.9l-.2 5.2M418.5 243.6l-.1 5.3M432.4 250.8l.1 5.6M439.3 251.8l.2 5.7M446 253l.3 5.8M452.7 254.4l.4 5.8M459.2 255.8l.5 5.8M465.5 257.3l.6 5.9"/>
<path stroke="#30ffcf" stroke-width="1.56" d="M311.8 235.8l2.6-.6 3.1-.6 3.7-.6 4.1-.7M534.9 281.2l.6 2.4M305.7 241.6l.4-.5 1-.5 1.5-.6 2.1-.6 2.6-.6 3.2-.6 3.7-.7 4.1-.6 4.7-.6 5-.7 5.5-.6 5.7-.6 6.1-.5 6.2-.5M526.3 273.5l2.8 2.5 2.5 2.6 2 2.5 1.5 2.4 1.1 2.4 .6 2.2M350.5 237.8l6.3-.3 6.5-.3 6.7-.3 6.9-.1 6.9 0 6.9 .1M470.9 253l6 1.7 5.8 1.8 5.5 1.9 5.4 1.9 5.2 2.1 5 2.2 4.7 2.2 4.4 2.3 4.2 2.3 3.9 2.4 3.5 2.5 3.2 2.4M390.3 241.6l7.1 .3 7 .5 7.1 .5 7 .7 6.9 .8 6.9 .9 6.7 1 6.7 1.1 6.5 1.2 6.4 1.4 6.2 1.5 6.1 1.5 .8 5.9M476.9 254.7l.8 5.9M482.7 256.5l.9 5.9M488.2 258.4l1.1 5.8M493.6 260.3l1.1 5.9M498.8 262.4l1.2 5.8M503.8 264.6l1.2 5.7M508.5 266.8l1.3 5.7M515.7 265.9l1.4 5.5M519.6 268.4l1.4 5.4M523.1 270.9l1.4 5.4M526.3 273.5l1.4 5.2M529.1 276l1.4 5.2M531.6 278.6l1.4 5M532.2 276.2l1.4 4.9 1.3 4.9M533.8 278.8l1.3 4.7M534.9 281.2l1.3 4.7M307.3 237.3l-1.2 3.8-1.2 3.9M308.3 236.8l-1.2 3.8-1.2 3.7M309.8 236.3l-1.2 3.7M311.8 235.8l-1.1 3.6M314.4 235.2l-1.1 3.6M317.5 234.6l-1 3.6M321.2 234l-1 3.5M325.3 233.3l-1 3.6M329.9 232.6l-.9 3.7M334.9 231.9l-.9 3.7-.9 3.7M340.3 231.2l-.8 3.8-.9 3.8M345.2 234.4l-.8 3.9M351.3 233.9l-.8 3.9M357.5 233.4l-.7 4.1M364 233l-.7 4.2M370.7 232.6l-.7 4.3-.6 4.4M376.9 236.8l-.6 4.5M383.8 236.8l-.5 4.6M390.7 236.9l-.4 4.7M397.7 237.1l-.3 4.8M404.7 237.4l-.3 5M411.6 237.8l-.1 5.1M425.4 244.4l0 5.4M432.3 245.3l.1 5.5M439 246.3l.3 5.5M445.7 247.4l.3 5.6M452.2 248.6l.5 5.8M458.6 250l.6 5.8M464.8 251.5l.7 5.8"/>
<path stroke="#40ffbf" stroke-width="1.56" d="M309.4 233.1l1.5-.4 2-.5 2.6-.5 3.1-.6 3.6-.6 4.1-.7 4.6-.8 4.9-.7M532.4 274.1l1.2 2.6 .6 2.4M306.9 237.7l.4-.4 1-.5 1.5-.5 2-.5M325.3 233.3l4.6-.7 5-.7 5.4-.7 5.7-.6 6-.7 6.3-.6 6.4-.5M524.9 268.3l2.8 2.7 2.5 2.6 2 2.6 1.6 2.6 1.1 2.4M357.5 233.4l6.5-.4 6.7-.4 6.7-.2 6.8-.2 6.9 0M492.5 254.6l5.1 2.1 4.9 2.2 4.7 2.3 4.4 2.3 4.1 2.4 3.9 2.5 3.5 2.5 3.2 2.6M390.7 236.9l7 .2 7 .3 6.9 .4 6.9 .6 6.8 .7 6.8 .8 6.6 .9 6.6 1.1M470.2 247.3l.7 5.7M476 249l.9 5.7M481.7 250.7l1 5.8M487.2 252.6l1 5.8M492.5 254.6l1.1 5.7M497.6 256.7l1.2 5.7M502.5 258.9l1.3 5.7M507.2 261.2l1.3 5.6M511.6 263.5l1.3 5.6M514.4 260.5l1.3 5.4M518.2 263.1l1.4 5.3M521.7 265.7l1.4 5.2M524.9 268.3l1.4 5.2M527.7 271l1.4 5M530.2 273.6l1.4 5M530.8 271.4l1.4 4.8M532.4 274.1l1.4 4.7M533.6 276.7l1.3 4.5M308.6 233.5l-1.3 3.8M309.4 233.1l-1.1 3.7M310.9 232.7l-1.1 3.6M312.9 232.2l-1.1 3.6M315.5 231.7l-1.1 3.5M318.6 231.1l-1.1 3.5M322.2 230.5l-1 3.5M326.3 229.8l-1 3.5M330.9 229l-1 3.6M335.8 228.3l-.9 3.6M341.2 227.5l-.9 3.7M346.9 226.8l-.9 3.8-.8 3.8M352 229.9l-.7 4M358.3 229.3l-.8 4.1M364.7 228.8l-.7 4.2M371.3 228.4l-.6 4.2M377.4 232.4l-.5 4.4M384.2 232.2l-.4 4.6M391.1 232.2l-.4 4.7M398 232.3l-.3 4.8M404.9 232.5l-.2 4.9M411.7 232.8l-.1 5M418.5 238.4l0 5.2M425.3 239.1l.1 5.3M432.1 239.9l.2 5.4M438.7 240.8l.3 5.5M445.3 241.9l.4 5.5M451.7 243l.5 5.6M458 244.3l.6 5.7M464.1 245.8l.7 5.7"/>
<path stroke="#50ffaf" stroke-width="1.55" d="M309.8 229.8l.8-.3 1.4-.4 2-.4 2.5-.5 3.1-.6 3.6-.6 4.1-.7 4.5-.8 4.9-.8 5.4-.8M531.1 269.4l1.1 2.7 .7 2.6M308.2 233.9l.4-.4 .8-.4M335.8 228.3l5.4-.8 5.7-.7 5.9-.8 6.2-.7 6.4-.6M523.5 263.2l2.8 2.8 2.5 2.7 2 2.7 1.6 2.7M364.7 228.8l6.6-.4 6.7-.4 6.7-.3 6.8-.1M496.4 251.1l4.9 2.2 4.6 2.3 4.4 2.4 4.1 2.5 3.8 2.6 3.5 2.6 3.2 2.6M391.1 232.2l6.9 .1 6.9 .2 6.8 .3 6.8 .5 6.8 .6 6.6 .7 6.6 .9M470.2 247.3l5.8 1.7 5.7 1.7 5.5 1.9 5.3 2M445.3 241.9l6.4 1.1 6.3 1.3 6.1 1.5 6.1 1.5M469.4 241.7l.8 5.6M475.1 243.4l.9 5.6M480.7 245.1l1 5.6M486.2 247l1 5.6M491.4 249l1.1 5.6M496.4 251.1l1.2 5.6M501.3 253.3l1.2 5.6M505.9 255.6l1.3 5.6M510.3 258l1.3 5.5M516.8 257.8l1.4 5.3M520.3 260.5l1.4 5.2M523.5 263.2l1.4 5.1M526.3 266l1.4 5M527.4 263.9l1.4 4.8 1.4 4.9M529.4 266.7l1.4 4.7M531.1 269.4l1.3 4.7M532.2 272.1l1.4 4.6M309.8 229.8l-1.2 3.7M310.6 229.5l-1.2 3.6M313.2 225.6l-1.2 3.5-1.1 3.6M315.1 225.2l-1.1 3.5-1.1 3.5M317.6 224.7l-1.1 3.5-1 3.5M320.6 224.2l-1 3.4-1 3.5M324.2 223.5l-1 3.5-1 3.5M328.2 222.8l-.9 3.5-1 3.5M332.7 222l-.9 3.5-.9 3.5M336.7 224.7l-.9 3.6M342.1 223.9l-.9 3.6M347.7 223l-.8 3.8M353.6 222.2l-.8 3.8-.8 3.9M359 225.3l-.7 4M365.4 224.7l-.7 4.1M371.9 224.2l-.6 4.2M378.5 223.7l-.5 4.3-.6 4.4M384.7 227.7l-.5 4.5M391.5 227.6l-.4 4.6M398.3 227.6l-.3 4.7M405.1 227.7l-.2 4.8M418.5 233.3l0 5.1M425.3 233.9l0 5.2M431.9 234.6l.2 5.3M438.5 235.5l.2 5.3M444.9 236.4l.4 5.5M451.2 237.6l.5 5.4M457.4 238.8l.6 5.5M463.5 240.2l.6 5.6"/>
<path stroke="#60ff9f" stroke-width="1.54" d="M316.2 221.7l2.5-.4 3-.5 3.5-.7 4-.7M310.7 226.3l.3-.2 .8-.2 1.4-.3 1.9-.4 2.5-.5 3-.5 3.6-.7 4-.7 4.5-.8 4.9-.9 5.3-.9 5.6-.9M528.1 262l1.6 2.9 1.2 2.7 .7 2.7M309.5 230l.3-.2M342.1 223.9l5.6-.9 5.9-.8 6.1-.8 6.4-.7 6.4-.7M522.1 258.2l2.8 2.9 2.5 2.8 2 2.8 1.7 2.7M365.4 224.7l6.5-.5 6.6-.5 6.7-.4 6.7-.2M500.1 247.9l4.5 2.3 4.3 2.5 4.1 2.5 3.8 2.6 3.5 2.7 3.2 2.7M391.5 227.6l6.8 0 6.8 .1 6.8 .2 6.7 .4 6.6 .5 6.5 .6M469.4 241.7l5.7 1.7 5.6 1.7 5.5 1.9 5.2 2 5 2.1M438.5 235.5l6.4 .9 6.3 1.2 6.2 1.2 6.1 1.4 5.9 1.5M468.6 236.3l.8 5.4M474.3 237.9l.8 5.5M479.8 239.6l.9 5.5M485.1 241.5l1.1 5.5M490.3 243.5l1.1 5.5M495.3 245.6l1.1 5.5M500.1 247.9l1.2 5.4M504.6 250.2l1.3 5.4M508.9 252.7l1.4 5.3M513 255.2l1.4 5.3M515.4 252.7l1.4 5.1M518.9 255.4l1.4 5.1M522.1 258.2l1.4 5M524.9 261.1l1.4 4.9M526 259.1l1.4 4.8M528.1 262l1.3 4.7M529.7 264.9l1.4 4.5M529.6 263.2l1.3 4.4 1.3 4.5M311 226.1l-1.2 3.7M313 222.3l-1.2 3.6-1.2 3.6M314.3 222.1l-1.1 3.5M316.2 221.7l-1.1 3.5M318.7 221.3l-1.1 3.4M321.7 220.8l-1.1 3.4M325.2 220.1l-1 3.4M329.2 219.4l-1 3.4M333.7 218.5l-1 3.5M338.6 217.6l-1 3.5-.9 3.6M342.9 220.2l-.8 3.7M348.5 219.3l-.8 3.7M354.4 218.4l-.8 3.8M360.5 217.5l-.8 3.9-.7 3.9M366.1 220.7l-.7 4M372.5 220l-.6 4.2M379.1 219.5l-.6 4.2M385.2 223.3l-.5 4.4M391.9 223.1l-.4 4.5M398.6 223l-.3 4.6M405.3 223l-.2 4.7M411.9 227.9l-.2 4.9M418.6 228.3l-.1 5M425.2 228.8l.1 5.1M431.7 229.4l.2 5.2M438.2 230.2l.3 5.3M444.5 231.2l.4 5.2M450.7 232.2l.5 5.4M456.8 233.4l.6 5.4M462.8 234.8l.7 5.4"/>
<path stroke="#70ff8f" stroke-width="1.54" d="M314.2 218.8l1.3-.2 1.8-.3 2.5-.4 2.9-.5 3.5-.6 4-.8 4.4-.9 4.9-1M312 222.5l.2-.1 .8-.1 1.3-.2 1.9-.4M329.2 219.4l4.5-.9 4.9-.9 5.2-.9 5.5-1 5.9-1M526.7 257.4l1.7 3 1.2 2.8 .7 2.7M348.5 219.3l5.9-.9 6.1-.9 6.2-.8 6.4-.7M517.5 250.4l3.2 2.9 2.8 2.9 2.5 2.9 2.1 2.9M372.5 220l6.6-.5 6.6-.5 6.6-.3 6.6-.3M498.8 242.5l4.5 2.4 4.3 2.5 4.1 2.6 3.7 2.7 3.5 2.7 3.2 2.8M391.9 223.1l6.7-.1 6.7 0 6.7 .1 6.6 .3 6.5 .4 6.5 .6M468.6 236.3l5.7 1.6 5.5 1.7 5.3 1.9 5.2 2 5 2.1 4.8 2.3M431.7 229.4l6.5 .8 6.3 1 6.2 1 6.1 1.2 6 1.4 5.8 1.5M467.8 230.9l.8 5.4M473.4 232.5l.9 5.4M478.8 234.2l1 5.4M484.1 236.1l1 5.4M489.2 238.1l1.1 5.4M494.1 240.3l1.2 5.3M498.8 242.5l1.3 5.4M503.3 244.9l1.3 5.3M507.6 247.4l1.3 5.3M511.7 250l1.3 5.2M514.1 247.6l1.3 5.1M517.5 250.4l1.4 5M520.7 253.3l1.4 4.9M523.5 256.2l1.4 4.9M524.6 254.4l1.4 4.7M526.7 257.4l1.4 4.6M528.4 260.4l1.3 4.5M528.3 258.8l1.3 4.4M313.4 218.9l-1.2 3.5-1.2 3.7M314.2 218.8l-1.2 3.5M315.5 218.6l-1.2 3.5M317.3 218.3l-1.1 3.4M320.8 214.6l-1 3.3-1.1 3.4M323.8 214.1l-1.1 3.3-1 3.4M327.2 213.4l-1 3.4-1 3.3M330.2 216l-1 3.4M334.6 215.1l-.9 3.4M339.5 214.1l-.9 3.5M344.7 213.1l-.9 3.6-.9 3.5M349.3 215.7l-.8 3.6M355.2 214.7l-.8 3.7M361.2 213.7l-.7 3.8M366.7 216.7l-.6 4M373.1 216l-.6 4M379.6 215.3l-.5 4.2M385.7 219l-.5 4.3M392.3 218.7l-.4 4.4M398.9 218.4l-.3 4.6M405.6 218.3l-.3 4.7M412 223.1l-.1 4.8M418.6 223.4l0 4.9M425.1 223.8l.1 5M431.6 224.4l.1 5M437.9 225.1l.3 5.1M444.1 226l.4 5.2M450.3 227l.4 5.2M456.2 228.1l.6 5.3M462.1 229.5l.7 5.3"/>
<path stroke="#80ff80" stroke-width="1.53" d="M314.7 215.3l.7 0 1.2-.1 1.9-.2 2.3-.4 3-.5 3.4-.7 4-.8 4.4-.9 4.8-1 5.1-1.1M526.9 254.5l.8 2.9M313.2 218.8l.2 .1 .8-.1M339.5 214.1l5.2-1 5.5-1 5.7-1.1 6-1M523.2 249.8l2.1 3.1 1.7 3 1.3 2.9 .7 2.8M355.2 214.7l6-1 6.2-.9 6.3-.8 6.5-.8M516.1 245.5l3.2 3 2.8 2.9 2.5 3 2.1 3M373.1 216l6.5-.7 6.5-.6 6.6-.4 6.6-.3M497.6 237.3l4.5 2.4 4.2 2.6 4 2.6 3.8 2.7 3.4 2.8M398.9 218.4l6.7-.1 6.5 .1 6.5 .2 6.5 .3 6.3 .5M467.8 230.9l5.6 1.6 5.4 1.7 5.3 1.9 5.1 2 4.9 2.2 4.7 2.2M431.6 224.4l6.3 .7 6.2 .9 6.2 1 5.9 1.1 5.9 1.4 5.7 1.4M467.1 225.7l.7 5.2M472.6 227.3l.8 5.2M477.9 229l.9 5.2M483.1 230.9l1 5.2M488.1 232.9l1.1 5.2M493 235l1.1 5.3M497.6 237.3l1.2 5.2M502.1 239.7l1.2 5.2M506.3 242.3l1.3 5.1M509 239.9l1.3 5 1.4 5.1M512.7 242.7l1.4 4.9M516.1 245.5l1.4 4.9M519.3 248.5l1.4 4.8M520.7 246.7l1.4 4.7 1.4 4.8M523.2 249.8l1.4 4.6M525.3 252.9l1.4 4.5M525.7 251.5l1.3 4.4 1.4 4.5M526.9 254.5l1.4 4.3M314.7 215.3l-1.3 3.6M315.4 215.3l-1.2 3.5M317.8 211.8l-1.2 3.4-1.1 3.4M319.6 211.6l-1.1 3.4-1.2 3.3M321.9 211.3l-1.1 3.3M324.8 210.8l-1 3.3M328.2 210.1l-1 3.3M332.1 209.3l-.9 3.3-1 3.4M336.5 208.4l-.9 3.3-1 3.4M340.4 210.7l-.9 3.4M345.5 209.6l-.8 3.5M351 208.5l-.8 3.6-.9 3.6M355.9 211l-.7 3.7M361.9 210l-.7 3.7M368.1 209l-.7 3.8-.7 3.9M373.7 212l-.6 4M380.2 211.2l-.6 4.1M386.6 210.5l-.5 4.2-.4 4.3M392.7 214.3l-.4 4.4M399.3 214l-.4 4.4M405.8 213.8l-.2 4.5M412.2 213.8l-.1 4.6-.1 4.7M418.6 218.6l0 4.8M425.1 218.9l0 4.9M431.4 219.4l.2 5M437.6 220.1l.3 5M443.8 220.9l.3 5.1M449.8 221.9l.5 5.1M455.7 223l.5 5.1M461.4 224.3l.7 5.2"/>
<path stroke="#8fff70" stroke-width="1.52" d="M318.9 208.5l1.8-.1 2.3-.4 2.8-.4 3.4-.7 3.9-.8 4.3-1M315.8 211.6l.1 .2 .7 .1 1.2-.1 1.8-.2 2.3-.3 2.9-.5 3.4-.7 3.9-.8 4.4-.9 4.8-1.1 5.1-1.1 5.4-1.2M524.3 247.1l1.3 3.1 .9 3M314.5 215.2l.2 .1M345.5 209.6l5.5-1.1 5.7-1.1 6-1.2 6.1-1M521.8 245.3l2.1 3.1 1.8 3.1 1.2 3M361.9 210l6.2-1 6.3-1 6.3-.8M514.8 240.7l3.1 3 2.8 3 2.5 3.1M380.2 211.2l6.4-.7 6.5-.5 6.5-.4M496.4 232.2l4.4 2.4 4.2 2.6 4 2.7 3.7 2.8 3.4 2.8M399.3 214l6.5-.2 6.4 0 6.5 .1 6.3 .3 6.2 .4M467.1 225.7l5.5 1.6 5.3 1.7 5.2 1.9 5 2 4.9 2.1 4.6 2.3M431.4 219.4l6.2 .7 6.2 .8 6 1 5.9 1.1 5.7 1.3 5.7 1.4M466.3 220.6l.8 5.1M471.7 222.1l.9 5.2M477 223.9l.9 5.1M482.1 225.7l1 5.2M487 227.7l1.1 5.2M491.8 229.9l1.2 5.1M496.4 232.2l1.2 5.1M500.8 234.6l1.3 5.1M505 237.2l1.3 5.1M507.6 235l1.4 4.9M511.3 237.8l1.4 4.9M514.8 240.7l1.3 4.8M517.9 243.7l1.4 4.8M519.3 242.1l1.4 4.6M521.8 245.3l1.4 4.5M523.9 248.4l1.4 4.5M524.3 247.1l1.4 4.4M525.6 250.2l1.3 4.3M315.9 211.8l-1.2 3.5M317.7 208.5l-1.1 3.4-1.2 3.4M318.9 208.5l-1.1 3.3M320.7 208.4l-1.1 3.2M323 208l-1.1 3.3M325.8 207.6l-1 3.2M329.2 206.9l-1 3.2M333.1 206.1l-1 3.2M337.4 205.1l-.9 3.3M342.2 204l-.9 3.3-.9 3.4M346.4 206.2l-.9 3.4M351.8 205l-.8 3.5M357.5 203.8l-.8 3.6-.8 3.6M362.7 206.2l-.8 3.8M368.8 205.2l-.7 3.8M374.4 208l-.7 4M380.7 207.2l-.5 4M387.1 206.4l-.5 4.1M393.1 210l-.4 4.3M399.6 209.6l-.3 4.4M406 209.4l-.2 4.4M412.4 209.2l-.2 4.6M418.7 213.9l-.1 4.7M425 214.2l.1 4.7M431.2 214.6l.2 4.8M437.4 215.2l.2 4.9M443.4 216l.4 4.9M449.3 216.9l.5 5M455.1 218l.6 5M460.8 219.2l.6 5.1"/>
<path stroke="#9fff60" stroke-width="1.51" d="M318.3 204.9l.6 .2 1.2 .1 1.7-.1 2.3-.3 2.8-.4 3.3-.7 3.9-.8 4.3-1.1 4.7-1.1 5-1.2M317 208.1l.1 .2 .6 .2 1.2 0M337.4 205.1l4.8-1.1 5.1-1.2 5.3-1.3 5.7-1.2M523 242.9l1.3 3.1 .9 3.1M351.8 205l5.7-1.2 5.9-1.2 6-1.2M518 237.6l2.4 3.2 2.2 3.2 1.7 3.1M368.8 205.2l6.2-1.1 6.2-.9 6.4-.8M510 233l3.4 3 3.1 3 2.8 3.1 2.5 3.2M380.7 207.2l6.4-.8 6.4-.6 6.4-.5 6.3-.3M495.2 227.2l4.3 2.5 4.2 2.5 3.9 2.8 3.7 2.8 3.5 2.9M399.6 209.6l6.4-.2 6.4-.2 6.3 .1 6.2 .2 6.2 .4M466.3 220.6l5.4 1.5 5.3 1.8 5.1 1.8 4.9 2 4.8 2.2 4.6 2.3M431.2 214.6l6.2 .6 6 .8 5.9 .9 5.8 1.1 5.7 1.2 5.5 1.4M465.5 215.6l.8 5M470.9 217.1l.8 5M476 218.8l1 5.1M481.1 220.7l1 5M485.9 222.7l1.1 5M490.7 224.9l1.1 5M495.2 227.2l1.2 5M499.5 229.7l1.3 4.9M503.7 232.2l1.3 5M506.3 230.1l1.3 4.9M510 233l1.3 4.8M513.4 236l1.4 4.7M515.1 234.4l1.4 4.6 1.4 4.7M518 237.6l1.3 4.5M520.4 240.8l1.4 4.5M521.2 239.6l1.4 4.4 1.3 4.4M523 242.9l1.3 4.2M523 241.9l1.3 4.1 1.3 4.2M318.3 204.9l-1.2 3.4-1.2 3.5M318.9 205.1l-1.2 3.4M321.2 202l-1.1 3.2-1.2 3.3M322.9 201.9l-1.1 3.2-1.1 3.3M325.1 201.6l-1 3.2-1.1 3.2M327.9 201.2l-1 3.2-1.1 3.2M331.2 200.5l-1 3.2-1 3.2M335 199.7l-.9 3.2-1 3.2M339.3 198.6l-.9 3.2-1 3.3M343.1 200.7l-.9 3.3M348.1 199.5l-.8 3.3-.9 3.4M352.6 201.5l-.8 3.5M358.3 200.3l-.8 3.5M364.1 199l-.7 3.6-.7 3.6M369.4 201.4l-.6 3.8M375.6 200.3l-.6 3.8-.6 3.9M381.2 203.2l-.5 4M387.6 202.4l-.5 4M393.9 201.7l-.4 4.1-.4 4.2M399.9 205.3l-.3 4.3M406.2 205l-.2 4.4M412.5 204.8l-.1 4.4M418.7 209.3l0 4.6M424.9 209.5l.1 4.7M431.1 209.9l.1 4.7M437.1 210.4l.3 4.8M443 211.1l.4 4.9M448.8 212l.5 4.9M454.5 213l.6 5M460.1 214.2l.7 5"/>
<path stroke="#afff50" stroke-width="1.51" d="M322.4 198.7l1.6 0 2.2-.2 2.8-.4 3.2-.7 3.8-.9 4.2-1M319.5 201.1l0 .4 .6 .3 1.1 .2 1.7-.1 2.2-.3 2.8-.4 3.3-.7 3.8-.8 4.3-1.1 4.7-1.1 5-1.3 5.3-1.4M521.7 237.8l.9 3.1M318.3 204.6l0 .3M348.1 199.5l5.4-1.4 5.6-1.3 5.8-1.4M519.8 235.3l1.8 3.3 1.4 3.3 .9 3.1M358.3 200.3l5.8-1.3 6-1.3 6.1-1.1M516.6 233.1l2.5 3.3 2.1 3.2 1.8 3.3M369.4 201.4l6.2-1.1 6.2-1 6.2-.9M508.6 228.3l3.4 3 3.1 3.1 2.9 3.2M387.6 202.4l6.3-.7 6.3-.6 6.2-.4M494 222.3l4.3 2.5 4.1 2.6 3.9 2.7 3.7 2.9M406.2 205l6.3-.2 6.2 0 6.1 .1 6.1 .4M465.5 215.6l5.4 1.5 5.1 1.7 5.1 1.9 4.8 2 4.8 2.2 4.5 2.3M431.1 209.9l6 .5 5.9 .7 5.8 .9 5.7 1 5.6 1.2 5.4 1.4M464.8 210.8l.7 4.8M470 212.3l.9 4.8M475.1 213.9l.9 4.9M480.1 215.8l1 4.9M484.9 217.8l1 4.9M489.5 220l1.2 4.9M494 222.3l1.2 4.9M498.3 224.8l1.2 4.9M502.4 227.4l1.3 4.8M505 225.4l1.3 4.7M508.6 228.3l1.4 4.7M512 231.3l1.4 4.7M513.8 229.9l1.3 4.5M516.6 233.1l1.4 4.5M519.1 236.4l1.3 4.4M519.8 235.3l1.4 4.3M521.6 238.6l1.4 4.3M521.7 237.8l1.3 4.1M319.5 201.5l-1.2 3.4M321.3 198.6l-1.2 3.2-1.2 3.3M322.4 198.7l-1.2 3.3M324 198.7l-1.1 3.2M326.2 198.5l-1.1 3.1M329 198.1l-1.1 3.1M332.2 197.4l-1 3.1M336 196.5l-1 3.2M340.2 195.5l-.9 3.1M344.9 194.2l-.9 3.3-.9 3.2M349 196.2l-.9 3.3M354.3 194.8l-.8 3.3-.9 3.4M359.1 196.8l-.8 3.5M364.9 195.4l-.8 3.6M370.1 197.7l-.7 3.7M376.2 196.6l-.6 3.7M381.8 199.3l-.6 3.9M388 198.4l-.4 4M394.3 197.6l-.4 4.1M400.2 201.1l-.3 4.2M406.4 200.7l-.2 4.3M412.6 200.5l-.1 4.3M418.7 204.8l0 4.5M424.8 204.9l.1 4.6M430.9 205.3l.2 4.6M436.8 205.7l.3 4.7M442.7 206.4l.3 4.7M448.4 207.2l.4 4.8M454 208.2l.5 4.8M459.4 209.4l.7 4.8"/>
<path stroke="#bfff40" stroke-width="1.50" d="M322.5 195.3l1 .3 1.6 0 2.2-.2 2.7-.4 3.2-.7 3.8-.9 4.2-1.1 4.6-1.2M320.8 197.8l0 .4 .5 .4 1.1 .1M340.2 195.5l4.7-1.3 4.9-1.3 5.3-1.4M520.3 233.7l1 3.2M354.3 194.8l5.5-1.4 5.8-1.5M518.5 231.1l1.8 3.4 1.4 3.3M364.9 195.4l5.9-1.3 6-1.2M512.4 225.4l2.8 3.3 2.5 3.3 2.1 3.3M376.2 196.6l6.1-1.1 6.2-1 6.2-.8M507.3 223.7l3.3 3 3.2 3.2 2.8 3.2M388 198.4l6.3-.8 6.2-.6 6.2-.5M488.4 215.2l4.4 2.3 4.3 2.5 4 2.6 3.9 2.8 3.6 2.9M406.4 200.7l6.2-.2 6.1-.1 6.1 .1 5.9 .2 5.9 .5M464.8 210.8l5.2 1.5 5.1 1.6 5 1.9 4.8 2 4.6 2.2 4.5 2.3M430.9 205.3l5.9 .4 5.9 .7 5.7 .8 5.6 1 5.4 1.2 5.4 1.4M464.1 206l.7 4.8M469.2 207.5l.8 4.8M474.2 209.2l.9 4.7M479.1 211l1 4.8M483.8 213l1.1 4.8M488.4 215.2l1.1 4.8M492.8 217.5l1.2 4.8M497.1 220l1.2 4.8M499.8 218l1.3 4.6 1.3 4.8M503.7 220.8l1.3 4.6M507.3 223.7l1.3 4.6M510.6 226.7l1.4 4.6M512.4 225.4l1.4 4.5M515.2 228.7l1.4 4.4M516.3 227.7l1.4 4.3 1.4 4.4M518.5 231.1l1.3 4.2M518.9 230.4l1.4 4.1 1.3 4.1M520.3 233.7l1.4 4.1M322 194.9l-1.2 3.3-1.3 3.3M322.5 195.3l-1.2 3.3M323.5 195.6l-1.1 3.1M326.2 192.5l-1.1 3.1-1.1 3.1M328.3 192.4l-1 3-1.1 3.1M331 191.9l-1 3.1-1 3.1M334.2 191.3l-1 3-1 3.1M337.9 190.4l-.9 3-1 3.1M341.2 192.3l-1 3.2M345.8 191.1l-.9 3.1M350.7 189.7l-.9 3.2-.8 3.3M355.1 191.5l-.8 3.3M360.6 190l-.8 3.4-.7 3.4M365.6 191.9l-.7 3.5M371.4 190.5l-.6 3.6-.7 3.6M376.8 192.9l-.6 3.7M382.9 191.7l-.6 3.8-.5 3.8M388.5 194.5l-.5 3.9M394.7 193.7l-.4 3.9M400.5 197l-.3 4.1M406.7 196.5l-.3 4.2M412.8 196.2l-.2 4.3M418.8 196.1l-.1 4.3 0 4.4M424.8 200.5l0 4.4M430.7 200.7l.2 4.6M436.6 201.2l.2 4.5M442.3 201.8l.4 4.6M447.9 202.6l.5 4.6M453.4 203.5l.6 4.7M458.8 204.7l.6 4.7"/>
<path stroke="#cfff30" stroke-width="1.49" d="M325.8 189.4l1.5 .1 2.1-.2 2.7-.4 3.1-.6 3.7-1 4.1-1.1M323.2 191.7l.4 .5 1 .2 1.6 .1 2.1-.1 2.7-.5 3.2-.6 3.7-.9 4.2-1.2 4.6-1.3 4.9-1.4M322 194.4l0 .5 .5 .4M345.8 191.1l4.9-1.4 5.2-1.5 5.5-1.6M517.6 226.3l1.4 3.4 1 3.3M355.1 191.5l5.5-1.5 5.7-1.5 5.8-1.5M515 223.5l2.1 3.4 1.8 3.5 1.4 3.3M365.6 191.9l5.8-1.4 6-1.3 6-1.2M511 221.1l2.8 3.3 2.5 3.3 2.2 3.4M376.8 192.9l6.1-1.2 6.1-1 6-.9M502.4 216.2l3.5 3 3.4 3.1 3.1 3.1M394.7 193.7l6.1-.7 6.1-.6 6-.3M487.3 210.5l4.3 2.3 4.2 2.5 4 2.7 3.9 2.8 3.6 2.9M406.7 196.5l6.1-.3 6-.1 5.9 0 5.9 .2 5.7 .4M464.1 206l5.1 1.5 5 1.7 4.9 1.8 4.7 2 4.6 2.2M436.6 201.2l5.7 .6 5.6 .8 5.5 .9 5.4 1.2 5.3 1.3M463.3 201.4l.8 4.6M468.4 202.8l.8 4.7M473.3 204.5l.9 4.7M478.1 206.3l1 4.7M482.7 208.3l1.1 4.7M487.3 210.5l1.1 4.7M491.6 212.8l1.2 4.7M495.8 215.3l1.3 4.7M498.6 213.4l1.2 4.6M502.4 216.2l1.3 4.6M505.9 219.2l1.4 4.5M507.9 217.8l1.4 4.5 1.3 4.4M511 221.1l1.4 4.3M512.4 220.1l1.4 4.3 1.4 4.3M515 223.5l1.3 4.2M517.1 226.9l1.4 4.2M517.6 226.3l1.3 4.1M517.7 225.8l1.3 3.9 1.3 4M323.2 191.7l-1.2 3.2M324.8 189l-1.2 3.2-1.1 3.1M325.8 189.4l-1.2 3-1.1 3.2M327.3 189.5l-1.1 3M329.4 189.3l-1.1 3.1M333.1 186l-1 2.9-1.1 3M335.2 188.3l-1 3M338.9 187.3l-1 3.1M343 186.2l-.9 3-.9 3.1M347.6 184.9l-.9 3-.9 3.2M351.6 186.5l-.9 3.2M356.8 185l-.9 3.2-.8 3.3M361.4 186.6l-.8 3.4M367 185.1l-.7 3.4-.7 3.4M372.1 187l-.7 3.5M377.4 189.2l-.6 3.7M383.4 188l-.5 3.7M389.4 186.9l-.4 3.8-.5 3.8M395 189.8l-.3 3.9M401.1 189l-.3 4-.3 4M406.9 192.4l-.2 4.1M412.9 192.1l-.1 4.1M418.8 191.9l0 4.2M424.7 196.1l.1 4.4M430.6 196.3l.1 4.4M436.3 196.7l.3 4.5M441.9 197.3l.4 4.5M447.4 198l.5 4.6M452.8 199l.6 4.5M458.1 200.1l.7 4.6"/>
<path stroke="#dfff20" stroke-width="1.49" d="M331.5 183.4l2.6-.4 3.1-.6M326 185.9l.9 .4 1.5 .2 2.1-.1 2.6-.4 3.1-.7 3.7-.9 4.1-1.2 4.5-1.4M324.5 187.8l-.1 .7 .4 .5 1 .4M343 186.2l4.6-1.3 4.8-1.5 5.2-1.6M516.4 221.9l1 3.4M323.3 191.1l-.1 .6M351.6 186.5l5.2-1.5 5.4-1.6 5.6-1.6M514.4 218.8l1.9 3.5 1.4 3.5 1 3.3M361.4 186.6l5.6-1.5 5.8-1.5 5.8-1.5M511.1 215.9l2.5 3.5 2.2 3.4 1.8 3.5M372.1 187l5.9-1.3 6-1.3 5.9-1.2M506.6 213.5l3 3.3 2.8 3.3 2.6 3.4M383.4 188l6-1.1 6-1 6-.8M501 211.8l3.6 2.9 3.3 3.1 3.1 3.3M395 189.8l6.1-.8 6-.6 5.9-.4M481.7 203.7l4.4 2.2 4.3 2.3 4.2 2.5 4 2.7 3.8 2.8M412.9 192.1l5.9-.2 5.8-.1 5.8 .2 5.6 .4 5.6 .5M463.3 201.4l5.1 1.4 4.9 1.7 4.8 1.8 4.6 2 4.6 2.2M436.3 196.7l5.6 .6 5.5 .7 5.4 1 5.3 1.1 5.2 1.3M462.6 196.9l.7 4.5M467.5 198.3l.9 4.5M472.4 199.9l.9 4.6M477.1 201.7l1 4.6M481.7 203.7l1 4.6M486.1 205.9l1.2 4.6M490.4 208.2l1.2 4.6M493.4 206.3l1.2 4.4 1.2 4.6M497.3 208.9l1.3 4.5M501 211.8l1.4 4.4M504.6 214.7l1.3 4.5M506.6 213.5l1.3 4.3M509.6 216.8l1.4 4.3M511.1 215.9l1.3 4.2M513.6 219.4l1.4 4.1M514.4 218.8l1.4 4 1.3 4.1M516.3 222.3l1.3 4M516.4 221.9l1.3 3.9M325.6 185.4l-1.2 3.1-1.2 3.2M326 185.9l-1.2 3.1M328.1 183.3l-1.2 3-1.1 3.1M329.5 183.5l-1.1 3-1.1 3M331.5 183.4l-1 3-1.1 2.9M334.1 183l-1 3M337.2 182.4l-1 2.9-1 3M340.9 181.4l-1 3-1 2.9M344.9 180.2l-.9 3-1 3M348.5 181.8l-.9 3.1M353.3 180.3l-.9 3.1-.8 3.1M357.6 181.8l-.8 3.2M363 180.1l-.8 3.3-.8 3.2M367.8 181.8l-.8 3.3M372.8 183.6l-.7 3.4M378.6 182.1l-.6 3.6-.6 3.5M384 184.4l-.6 3.6M389.9 183.2l-.5 3.7M395.4 185.9l-.4 3.9M401.4 185.1l-.3 3.9M407.1 188.4l-.2 4M413 188l-.1 4.1M418.8 187.7l0 4.2M424.6 187.7l0 4.1 .1 4.3M430.4 192l.2 4.3M436 192.4l.3 4.3M441.6 192.9l.3 4.4M447 193.6l.4 4.4M452.3 194.5l.5 4.5M457.5 195.6l.6 4.5"/>
<path stroke="#efff10" stroke-width="1.48" d="M329.2 180.4l1.4 .2 2-.1 2.6-.4 3-.6 3.6-1 4-1.2M326.9 182.3l.3 .6 .9 .4 1.4 .2 2-.1M337.2 182.4l3.7-1 4-1.2 4.5-1.4 4.8-1.5M325.8 184.6l-.2 .8 .4 .5M348.5 181.8l4.8-1.5 5.1-1.6 5.3-1.7M513.6 214.5l1.5 3.6 1.1 3.4M357.6 181.8l5.4-1.7 5.5-1.6 5.6-1.6M513.1 214.8l1.8 3.6 1.5 3.5M367.8 181.8l5.7-1.6 5.7-1.5M509.7 211.8l2.5 3.5 2.2 3.5M378.6 182.1l5.9-1.3 5.9-1.2M505.2 209.3l3.1 3.2 2.8 3.4M389.9 183.2l5.9-1 5.9-.9M496 204.5l3.7 2.9 3.6 3 3.3 3.1M401.4 185.1l5.9-.6 5.8-.5 5.8-.3M476.1 197.3l4.5 2 4.4 2.1 4.3 2.3 4.1 2.6 3.9 2.6 3.7 2.9M413 188l5.8-.3 5.8 0 5.6 .1 5.6 .3 5.4 .5 5.3 .7M462.6 196.9l4.9 1.4 4.9 1.6 4.7 1.8 4.6 2M441.6 192.9l5.4 .7 5.3 .9 5.2 1.1 5.1 1.3M461.8 192.4l.8 4.5M466.7 193.9l.8 4.4M471.5 195.5l.9 4.4M476.1 197.3l1 4.4M480.6 199.3l1.1 4.4M485 201.4l1.1 4.5M489.3 203.7l1.1 4.5M492.1 201.9l1.3 4.4M496 204.5l1.3 4.4M499.7 207.4l1.3 4.4M501.9 206.1l1.4 4.3 1.3 4.3M505.2 209.3l1.4 4.2M506.9 208.4l1.4 4.1 1.3 4.3M509.7 211.8l1.4 4.1M510.9 211.3l1.3 4 1.4 4.1M513.1 214.8l1.3 4M513.6 214.5l1.3 3.9 1.4 3.9M515.1 218.1l1.3 3.8M326.9 182.3l-1.3 3.1M328.4 179.9l-1.2 3-1.2 3M329.2 180.4l-1.1 2.9M330.6 180.6l-1.1 2.9M333.7 177.7l-1.1 2.8-1.1 2.9M336.2 177.3l-1 2.8-1.1 2.9M339.2 176.6l-1 2.9-1 2.9M341.8 178.5l-.9 2.9M345.8 177.3l-.9 2.9M350.3 175.9l-.9 2.9-.9 3M354.2 177.3l-.9 3M359.2 175.6l-.8 3.1-.8 3.1M363.7 177l-.7 3.1M368.5 178.5l-.7 3.3M374.1 176.9l-.6 3.3-.7 3.4M379.2 178.7l-.6 3.4M385 177.3l-.5 3.5-.5 3.6M390.4 179.6l-.5 3.6M396.2 178.5l-.4 3.7-.4 3.7M401.7 181.3l-.3 3.8M407.5 180.6l-.2 3.9-.2 3.9M413.1 184l-.1 4M418.9 183.7l-.1 4M424.5 183.6l.1 4.1M430.2 187.8l.2 4.2M435.8 188.1l.2 4.3M441.2 188.6l.4 4.3M446.5 189.3l.5 4.3M451.7 190.2l.6 4.3M456.9 191.2l.6 4.4"/>
<path stroke="#ffff00" stroke-width="1.47" d="M332.8 174.8l2 0 2.4-.3 3-.7 3.6-1M329.3 176.2l.2 .7 .9 .5 1.3 .3 2 0 2.5-.4 3-.7 3.6-.9 4-1.3 4.4-1.4 4.7-1.7M328.3 178.4l-.2 .8 .3 .7 .8 .5M345.8 177.3l4.5-1.4 4.7-1.6 5-1.8M512.5 210.6l1.1 3.5M327 181.5l-.1 .8M354.2 177.3l5-1.7 5.3-1.8 5.4-1.7M512.3 210.7l1.5 3.6 1.1 3.5M363.7 177l5.5-1.7 5.6-1.7M509.5 207.3l2.2 3.6 1.9 3.6M374.1 176.9l5.7-1.6 5.8-1.4M505.6 204.3l2.8 3.5 2.5 3.5 2.2 3.5M379.2 178.7l5.8-1.4 5.8-1.3 5.8-1.1M500.6 201.9l3.3 3.2 3 3.3 2.8 3.4M390.4 179.6l5.8-1.1 5.8-.9 5.7-.7M490.9 197.6l3.9 2.7 3.7 2.8 3.4 3 3.3 3.2M401.7 181.3l5.8-.7 5.7-.5 5.7-.3 5.6-.2M465.9 189.6l4.7 1.5 4.6 1.8 4.4 2 4.3 2.1 4.2 2.4 4 2.5 3.9 2.6M418.9 183.7l5.6-.1 5.6 .1 5.4 .3 5.3 .4 5.3 .7 5.1 .8 5 1M461.8 192.4l4.9 1.5 4.8 1.6 4.6 1.8M446.5 189.3l5.2 .9 5.2 1 4.9 1.2M461.1 188.2l.7 4.2M465.9 189.6l.8 4.3M470.6 191.1l.9 4.4M475.2 192.9l.9 4.4M479.6 194.9l1 4.4M483.9 197l1.1 4.4M487 195.1l1.1 4.3 1.2 4.3M490.9 197.6l1.2 4.3M494.8 200.3l1.2 4.2M497.2 198.9l1.3 4.2 1.2 4.3M500.6 201.9l1.3 4.2M503.9 205.1l1.3 4.2M505.6 204.3l1.3 4.1M508.4 207.8l1.3 4M509.5 207.3l1.4 4M510.4 207.1l1.3 3.8 1.4 3.9M512.3 210.7l1.3 3.8M512.5 210.6l1.3 3.7 1.3 3.8M329.3 176.2l-1.2 3-1.2 3.1M329.5 176.9l-1.1 3M331.5 174.6l-1.1 2.8-1.2 3M332.8 174.8l-1.1 2.9-1.1 2.9M334.8 174.8l-1.1 2.9M337.2 174.5l-1 2.8M340.2 173.8l-1 2.8M343.8 172.8l-1 2.9-1 2.8M347.7 171.6l-.9 2.8-1 2.9M351.2 173l-.9 2.9M355.9 171.3l-.9 3-.8 3M360 172.5l-.8 3.1M364.5 173.8l-.8 3.2M369.9 172.1l-.7 3.2-.7 3.2M374.8 173.6l-.7 3.3M380.4 172l-.6 3.3-.6 3.4M385.6 173.9l-.6 3.4M390.8 176l-.4 3.6M396.6 174.9l-.4 3.6M402 177.6l-.3 3.7M407.7 176.9l-.2 3.7M413.4 176.3l-.2 3.8-.1 3.9M418.9 179.8l0 3.9M424.5 179.6l0 4M429.9 179.7l.2 4 .1 4.1M435.5 184l.3 4.1M440.8 184.4l.4 4.2M446.1 185.1l.4 4.2M451.2 185.9l.5 4.3M456.2 186.9l.7 4.3"/>
<path stroke="#ffef00" stroke-width="1.46" d="M336.9 169.3l2.4-.3 2.9-.7M331.9 171.1l.7 .6 1.3 .3 1.9 0 2.5-.3 2.9-.6 3.5-1 3.9-1.3 4.4-1.5M330.5 173.2l.2 .8 .8 .6 1.3 .2M343.8 172.8l3.9-1.2 4.4-1.5 4.6-1.7M329.5 175.3l-.2 .9M355.9 171.3l5-1.7 5.1-1.9M511.2 206.9l1.1 3.5M360 172.5l5.3-1.7 5.4-1.8M509 203.3l1.9 3.6 1.6 3.7M369.9 172.1l5.6-1.7 5.5-1.7M505.6 199.9l2.6 3.5 2.2 3.7 1.9 3.6M374.8 173.6l5.6-1.6 5.7-1.5 5.6-1.4M504.2 200.3l2.8 3.5 2.5 3.5M385.6 173.9l5.7-1.3 5.7-1.2M495.9 194.8l3.4 3 3.2 3.2 3.1 3.3M396.6 174.9l5.7-.9 5.6-.8 5.6-.6M485.8 190.9l3.9 2.5 3.8 2.7 3.7 2.8 3.4 3M407.7 176.9l5.7-.6 5.5-.4 5.5-.1 5.3 0M460.4 184l4.7 1.3 4.6 1.6 4.5 1.8 4.4 1.9 4.2 2.2 4.2 2.3 3.9 2.5M424.5 179.6l5.4 .1 5.4 .2 5.2 .4 5.1 .7 5.1 .8 4.9 1 4.8 1.2M461.1 188.2l4.8 1.4M456.2 186.9l4.9 1.3M460.4 184l.7 4.2M465.1 185.3l.8 4.3M469.7 186.9l.9 4.2M474.2 188.7l1 4.2M478.6 190.6l1 4.3M481.7 188.6l1.1 4.2 1.1 4.2M485.8 190.9l1.2 4.2M489.7 193.4l1.2 4.2M493.5 196.1l1.3 4.2M495.9 194.8l1.3 4.1M499.3 197.8l1.3 4.1M501.2 197l1.3 4 1.4 4.1M504.2 200.3l1.4 4M505.6 199.9l1.4 3.9 1.4 4M508.2 203.4l1.3 3.9M509 203.3l1.4 3.8M509.6 203.2l1.3 3.7 1.4 3.8M511.2 206.9l1.3 3.7M330.5 173.2l-1.2 3M331.9 171.1l-1.2 2.9-1.2 2.9M332.6 171.7l-1.1 2.9M335 169.3l-1.1 2.7-1.1 2.8M336.9 169.3l-1.1 2.7-1 2.8M339.3 169l-1 2.7-1.1 2.8M342.2 168.3l-1 2.8-1 2.7M345.7 167.3l-1 2.8-.9 2.7M348.6 168.8l-.9 2.8M353 167.3l-.9 2.8-.9 2.9M356.7 168.4l-.8 2.9M361.7 166.6l-.8 3-.9 2.9M366 167.7l-.7 3.1-.8 3M370.7 169l-.8 3.1M376.1 167.2l-.6 3.2-.7 3.2M381 168.7l-.6 3.3M386.1 170.5l-.5 3.4M391.7 169.1l-.4 3.5-.5 3.4M397 171.4l-.4 3.5M402.6 170.4l-.3 3.6-.3 3.6M407.9 173.2l-.2 3.7M413.5 172.6l-.1 3.7M418.9 175.9l0 3.9M424.4 175.8l.1 3.8M429.7 175.8l.2 3.9M435 176l.3 3.9 .2 4.1M440.5 180.3l.3 4.1M445.6 181l.5 4.1M450.7 181.8l.5 4.1M455.6 182.8l.6 4.1"/>
<path stroke="#ffdf00" stroke-width="1.46" d="M334.9 166.2l1.2 .4 1.9 0 2.3-.3 2.9-.7 3.4-1 3.9-1.3M332.9 167.4l.2 .9 .7 .6 1.2 .4 1.9 0M342.2 168.3l3.5-1 3.9-1.3 4.3-1.5 4.6-1.8M332 169.3l-.3 1 .2 .8M353 167.3l4.6-1.7 4.9-1.9M508.5 199.7l1.2 3.6M330.8 172.3l-.3 .9M356.7 168.4l5-1.8 5.1-1.9 5.3-1.8M508.3 199.6l1.5 3.7 1.2 3.6M366 167.7l5.4-1.8 5.4-1.8M505.5 195.9l2.2 3.6 1.9 3.7 1.6 3.7M370.7 169l5.4-1.8 5.5-1.7 5.6-1.6M504.3 196.1l2.5 3.5 2.2 3.7M381 168.7l5.6-1.5 5.6-1.4M499.9 193.1l3 3.3 2.7 3.5M391.7 169.1l5.6-1.2 5.6-1M494.6 190.8l3.4 3 3.2 3.2 3 3.3M397 171.4l5.6-1 5.5-.8 5.5-.7M480.7 184.5l4 2.3 3.8 2.5 3.8 2.7 3.6 2.8M413.5 172.6l5.5-.4 5.3-.2 5.3-.1 5.1 .2M459.7 179.9l4.6 1.3 4.5 1.6 4.4 1.7 4.3 2 4.2 2.1 4.1 2.3M429.7 175.8l5.3 .2 5.1 .4 5.1 .6 4.9 .7 4.9 1 4.7 1.2 .7 4.1M464.3 181.2l.8 4.1M468.8 182.8l.9 4.1M472.3 180.5l.9 4 1 4.2M476.5 182.4l1 4.1 1.1 4.1M480.7 184.5l1 4.1M484.7 186.8l1.1 4.1M488.5 189.3l1.2 4.1M491.1 188l1.2 4 1.2 4.1M494.6 190.8l1.3 4M496.7 189.9l1.3 3.9 1.3 4M499.9 193.1l1.3 3.9M501.5 192.6l1.4 3.8 1.3 3.9M504.3 196.1l1.3 3.8M505.5 195.9l1.3 3.7 1.4 3.8M507.7 199.5l1.3 3.8M508.3 199.6l1.3 3.6M508.5 199.7l1.3 3.6 1.4 3.6M332.9 167.4l-1.2 2.9-1.2 2.9M334.3 165.5l-1.2 2.8-1.2 2.8M334.9 166.2l-1.1 2.7-1.2 2.8M337.2 163.9l-1.1 2.7-1.1 2.7M339 163.9l-1 2.7-1.1 2.7M341.4 163.6l-1.1 2.7-1 2.7M344.2 163l-1 2.6-1 2.7M347.6 162l-1 2.6-.9 2.7M350.5 163.3l-.9 2.7-1 2.8M354.8 161.7l-.9 2.8-.9 2.8M358.5 162.7l-.9 2.9-.9 2.8M362.5 163.7l-.8 2.9M367.6 161.8l-.8 2.9-.8 3M372.1 162.9l-.7 3-.7 3.1M376.8 164.1l-.7 3.1M381.6 165.5l-.6 3.2M387.2 163.9l-.6 3.3-.5 3.3M392.2 165.8l-.5 3.3M397.7 164.6l-.4 3.3-.3 3.5M402.9 166.9l-.3 3.5M408.4 166.1l-.3 3.5-.2 3.6M413.6 168.9l-.1 3.7M419 168.5l0 3.7-.1 3.7M424.3 172l.1 3.8M429.6 171.9l.1 3.9M434.7 172.1l.3 3.9M439.8 172.5l.3 3.9 .4 3.9M444.7 173.1l.5 3.9 .4 4M450.1 177.7l.6 4.1M455 178.7l.6 4.1"/>
<path stroke="#ffcf00" stroke-width="1.45" d="M337.2 160.8l1.1 .4 1.8 .1 2.3-.3 2.8-.6 3.4-1.1 3.8-1.3M335.4 162.8l.7 .7 1.1 .4 1.8 0 2.4-.3 2.8-.6 3.4-1 3.8-1.4 4.3-1.6M334.5 163.5l-.4 1.1 .2 .9 .6 .7M350.5 163.3l4.3-1.6 4.5-1.7 4.8-1.9M333.3 166.4l-.4 1M358.5 162.7l4.8-1.8 5.1-2M507.2 196.2l1.3 3.7M362.5 163.7l5.1-1.9 5.2-1.9M505 192.3l2 3.7 1.5 3.7M372.1 162.9l5.3-1.9 5.4-1.7M504.1 192.2l2.2 3.7 2 3.7M376.8 164.1l5.4-1.7 5.5-1.6M500.2 188.8l2.8 3.5 2.5 3.6M387.2 163.9l5.5-1.4 5.4-1.2M495.4 186.1l3.2 3.1 2.9 3.4 2.8 3.5M392.2 165.8l5.5-1.2 5.5-1.1 5.4-.9M489.8 184l3.5 2.9 3.4 3 3.2 3.2M402.9 166.9l5.5-.8 5.3-.7 5.3-.5M475.5 178.4l4.1 2.1 3.9 2.3 3.9 2.5 3.7 2.7 3.5 2.8M413.6 168.9l5.4-.4 5.3-.2 5.1-.1 5.1 .2 4.9 .3M459 175.9l4.5 1.3 4.5 1.6 4.3 1.7 4.2 1.9 4.2 2.1M434.7 172.1l5.1 .4 4.9 .6 4.9 .7 4.7 1 4.7 1.1M458.3 172l.7 3.9 .7 4M462.7 173.3l.8 3.9 .8 4M467.1 174.9l.9 3.9 .8 4M471.4 176.6l.9 3.9M475.5 178.4l1 4M479.6 180.5l1.1 4M483.5 182.8l1.2 4M486.2 181.4l1.2 3.9 1.1 4M489.8 184l1.3 4M493.3 186.9l1.3 3.9M495.4 186.1l1.3 3.8M498.6 189.2l1.3 3.9M500.2 188.8l1.3 3.8M501.6 188.6l1.4 3.7 1.3 3.8M504.1 192.2l1.4 3.7M505 192.3l1.3 3.6 1.4 3.6M505.6 192.5l1.4 3.5 1.3 3.6M507.2 196.2l1.3 3.5M335.3 161.8l-1.2 2.8-1.2 2.8M335.4 162.8l-1.1 2.7M337.2 160.8l-1.1 2.7-1.2 2.7M338.3 161.2l-1.1 2.7M341.1 158.7l-1 2.6-1.1 2.6M343.4 158.5l-1 2.5-1 2.6M346.2 157.8l-1 2.6-1 2.6M348.6 159.3l-1 2.7M352.4 158l-1 2.6-.9 2.7M355.7 159l-.9 2.7M360.2 157.2l-.9 2.8-.8 2.7M364.1 158.1l-.8 2.8-.8 2.8M368.4 158.9l-.8 2.9M372.8 159.9l-.7 3M378.1 158l-.7 3-.6 3.1M382.8 159.3l-.6 3.1-.6 3.1M387.7 160.8l-.5 3.1M393.1 159.3l-.4 3.2-.5 3.3M398.1 161.3l-.4 3.3M403.2 163.5l-.3 3.4M408.6 162.6l-.2 3.5M413.7 165.4l-.1 3.5M419 164.9l0 3.6M424.2 164.7l.1 3.6 0 3.7M429.4 168.2l.2 3.7M434.5 168.4l.2 3.7M439.4 168.7l.4 3.8M444.3 169.3l.4 3.8M449.1 170l.5 3.8 .5 3.9M453.7 170.9l.6 3.9 .7 3.9"/>
<path stroke="#ffbf00" stroke-width="1.44" d="M340.5 156.1l1.7 .1 2.2-.3 2.8-.6 3.3-1.1M337.8 157.4l.5 .8 1.1 .4 1.7 .1 2.3-.2 2.8-.7 3.3-1 3.8-1.4 4.1-1.6M336.6 159.1l0 .9 .6 .8M352.4 158l4.2-1.6 4.4-1.8M335.8 160.7l-.5 1.1 .1 1M355.7 159l4.5-1.8 4.8-1.9 4.9-2M504.6 189.3l1.3 3.7M364.1 158.1l5-2 5.1-2M504.3 189l1.6 3.7 1.3 3.7M368.4 158.9l5.1-1.9 5.3-1.9M501.4 185l2.3 3.7 1.9 3.8 1.6 3.7M372.8 159.9l5.3-1.9 5.3-1.7 5.3-1.7M500.3 185l2.5 3.6 2.2 3.7M382.8 159.3l5.4-1.6 5.4-1.5M495.9 181.8l3 3.3 2.7 3.5 2.5 3.6M387.7 160.8l5.4-1.5 5.4-1.3 5.3-1.1M490.8 179.3l3.3 3 3.2 3.2 2.9 3.3M398.1 161.3l5.4-1.1 5.3-.9 5.2-.8M485 177.6l3.6 2.6 3.5 2.8 3.3 3.1M408.6 162.6l5.3-.7 5.1-.5 5.1-.3M466.2 171l4.2 1.7 4.1 1.9 4 2.1 3.9 2.2 3.8 2.5 3.6 2.6M419 164.9l5.2-.2 5.1-.1 4.9 .1 4.9 .3 4.8 .5 4.6 .8M458.3 172l4.4 1.3 4.4 1.6 4.3 1.7 4.1 1.8M439.4 168.7l4.9 .6 4.8 .7 4.6 .9 4.6 1.1M457.6 168.3l.7 3.7M461.9 169.6l.8 3.7M466.2 171l.9 3.9M470.4 172.7l1 3.9M474.5 174.6l1 3.8M477.4 172.9l1.1 3.8 1.1 3.8M481.3 175.1l1.1 3.8 1.1 3.9M485 177.6l1.2 3.8M488.6 180.2l1.2 3.8M490.8 179.3l1.3 3.7 1.2 3.9M494.1 182.3l1.3 3.8M495.9 181.8l1.4 3.7 1.3 3.7M498.9 185.1l1.3 3.7M500.3 185l1.3 3.6M501.4 185l1.4 3.6 1.3 3.6M503.7 188.7l1.3 3.6M504.3 189l1.3 3.5M504.6 189.3l1.3 3.4 1.3 3.5M336.6 159.1l-1.3 2.7M337.8 157.4l-1.2 2.6-1.2 2.8M339.5 155.6l-1.2 2.6-1.1 2.6M340.5 156.1l-1.1 2.5-1.1 2.6M342.2 156.2l-1.1 2.5M344.4 155.9l-1 2.6M347.2 155.3l-1 2.5M350.5 154.2l-1 2.6-.9 2.5M354.2 152.9l-.9 2.5-.9 2.6M357.4 153.8l-.8 2.6-.9 2.6M361 154.6l-.8 2.6M365.8 152.6l-.8 2.7-.9 2.8M369.9 153.3l-.8 2.8-.7 2.8M374.2 154.1l-.7 2.9-.7 2.9M378.8 155.1l-.7 2.9M383.4 156.3l-.6 3M388.7 154.6l-.5 3.1-.5 3.1M393.6 156.2l-.5 3.1M398.5 158l-.4 3.3M403.8 156.9l-.3 3.3-.3 3.3M408.8 159.3l-.2 3.3M414 158.5l-.1 3.4-.2 3.5M419 161.4l0 3.5M424.1 161.1l.1 3.6M429.1 161.1l.2 3.5 .1 3.6M434 161.2l.2 3.5 .3 3.7M439.1 165l.3 3.7M443.9 165.5l.4 3.8M448.5 166.3l.6 3.7M453.1 167.2l.6 3.7"/>
<path stroke="#ffaf00" stroke-width="1.44" d="M342.7 151l1.6 .2 2.2-.2 2.7-.7 3.2-1M340.1 152.2l.5 .8 1 .5 1.7 .2 2.2-.3 2.7-.6 3.3-1.1 3.7-1.4 4-1.6M339 153.7l0 1.1 .5 .8 1 .5M350.5 154.2l3.7-1.3 4.1-1.7 4.5-1.9M338.3 155.2l-.5 1.2 0 1M357.4 153.8l4.5-1.9 4.7-1.9M502.1 182.7l1.3 3.7M337 157.9l-.4 1.2M361 154.6l4.8-2 4.9-2 5-2M501.7 182.2l1.6 3.8 1.3 3.7M369.9 153.3l5.1-2 5.1-1.9M501 181.8l2 3.8 1.6 3.7M374.2 154.1l5.2-1.9 5.2-1.8M500.1 181.5l2.3 3.7 1.9 3.8M378.8 155.1l5.2-1.8 5.3-1.7M496.2 178l2.7 3.4 2.5 3.6M388.7 154.6l5.3-1.5 5.2-1.3M491.6 175l3 3.2 3 3.3 2.7 3.5M393.6 156.2l5.3-1.3 5.2-1.2 5.1-.9M486.2 172.8l3.4 2.8 3.2 3 3.1 3.2M403.8 156.9l5.2-.9 5.1-.8 5-.5M476.4 169.2l3.8 2.2 3.6 2.5 3.6 2.6 3.4 2.8M414 158.5l5.1-.5 5-.3 4.9-.1 4.7 .1M456.9 164.6l4.3 1.3 4.2 1.4 4.1 1.7 4 1.8 3.9 2.1 3.9 2.2 3.7 2.5M424.1 161.1l5 0 4.9 .1 4.8 .3 4.6 .4 4.6 .7 4.5 .9 4.4 1.1M457.6 168.3l4.3 1.3 4.3 1.4M448.5 166.3l4.6 .9 4.5 1.1M456.9 164.6l.7 3.7M461.2 165.9l.7 3.7M465.4 167.3l.8 3.7M468.6 165.3l.9 3.7 .9 3.7M472.5 167.2l1 3.6 1 3.8M476.4 169.2l1 3.7M480.2 171.4l1.1 3.7M483.8 173.9l1.2 3.7M486.2 172.8l1.2 3.7 1.2 3.7M489.6 175.6l1.2 3.7M491.6 175l1.2 3.6 1.3 3.7M494.6 178.2l1.3 3.6M496.2 178l1.4 3.5 1.3 3.6M497.6 177.9l1.3 3.5 1.4 3.6M500.1 181.5l1.3 3.5M501 181.8l1.4 3.4 1.3 3.5M501.7 182.2l1.3 3.4 1.3 3.4M502.1 182.7l1.2 3.3 1.3 3.3M339 153.7l-1.2 2.7-1.2 2.7M340.1 152.2l-1.1 2.6-1.2 2.6M340.6 153l-1.1 2.6M342.7 151l-1.1 2.5-1.1 2.6M344.3 151.2l-1 2.5-1.1 2.5M346.5 151l-1 2.4-1.1 2.5M349.2 150.3l-1 2.5-1 2.5M352.4 149.3l-.9 2.4-1 2.5M355.2 150.3l-1 2.6M359.2 148.7l-.9 2.5-.9 2.6M362.8 149.3l-.9 2.6-.9 2.7M366.6 150l-.8 2.6M370.7 150.6l-.8 2.7M375.7 148.6l-.7 2.7-.8 2.8M380.1 149.4l-.7 2.8-.6 2.9M384.6 150.4l-.6 2.9-.6 3M389.3 151.6l-.6 3M394.5 150.1l-.5 3-.4 3.1M399.2 151.8l-.3 3.1-.4 3.1M404.1 153.7l-.3 3.2M409.2 152.8l-.2 3.2-.2 3.3M414.1 155.2l-.1 3.3M419.1 154.7l0 3.3-.1 3.4M424.1 157.7l0 3.4M429 157.6l.1 3.5M433.7 157.7l.3 3.5M438.4 158l.4 3.5 .3 3.5M443 158.4l.4 3.5 .5 3.6M448 162.6l.5 3.7M452.5 163.5l.6 3.7"/>
<path stroke="#ff9f00" stroke-width="1.43" d="M346.5 146.4l2.1-.2 2.6-.7M342.9 148l.9 .6 1.6 .2 2.1-.2 2.7-.7 3.2-1.1 3.6-1.4M341.4 148.5l-.1 1.1 .4 .9 1 .5M352.4 149.3l3.7-1.4 4-1.7 4.4-1.9M340.7 149.8l-.5 1.3-.1 1.1M359.2 148.7l4.4-1.9 4.6-2M339.5 152.5l-.5 1.2M362.8 149.3l4.6-2 4.8-2M500.8 179.5l1.3 3.7M366.6 150l4.8-2.1 5-2M498.4 175.2l2 3.7 1.7 3.8M375.7 148.6l5-2 5.1-1.8M497.5 174.8l2.2 3.7 2 3.7M380.1 149.4l5.1-1.8 5.1-1.8M496.3 174.5l2.5 3.6 2.2 3.7M384.6 150.4l5.2-1.7 5.1-1.5M492 171.2l2.9 3.3 2.7 3.4 2.5 3.6M389.3 151.6l5.2-1.5 5.1-1.4 5.1-1.1M487.1 168.5l3.2 3 3 3.1 2.9 3.4M399.2 151.8l5.2-1.2 5-.9 4.9-.8M481.5 166.7l3.5 2.6 3.3 2.7 3.3 3M409.2 152.8l5-.8 4.9-.5 4.8-.4M471.5 163.6l3.8 2 3.8 2.2 3.6 2.4 3.5 2.6M419.1 154.7l4.9-.3 4.8-.2 4.7 .1 4.6 .3M456.2 161l4.2 1.3 4.1 1.4 4.1 1.6 3.9 1.9 3.9 2M433.7 157.7l4.7 .3 4.6 .4 4.5 .7 4.4 .9 4.3 1M455.5 157.5l.7 3.5 .7 3.6M459.6 158.8l.8 3.5 .8 3.6M463.7 160.2l.8 3.5 .9 3.6M467.7 161.8l.9 3.5M471.5 163.6l1 3.6M475.3 165.6l1.1 3.6M478 164.3l1.1 3.5 1.1 3.6M481.5 166.7l1.2 3.5 1.1 3.7M485 169.3l1.2 3.5M487.1 168.5l1.2 3.5 1.3 3.6M490.3 171.5l1.3 3.5M492 171.2l1.3 3.4 1.3 3.6M494.9 174.5l1.3 3.5M496.3 174.5l1.3 3.4M497.5 174.8l1.3 3.3 1.3 3.4M498.4 175.2l1.3 3.3 1.3 3.3M500.4 178.9l1.3 3.3M500.8 179.5l1.3 3.2M341.4 148.5l-1.2 2.6-1.2 2.6M342.5 147.1l-1.2 2.5-1.2 2.6M342.9 148l-1.2 2.5-1.1 2.5M344.9 146.2l-1.1 2.4-1.1 2.4M346.5 146.4l-1.1 2.4-1.1 2.4M348.6 146.2l-1.1 2.4-1 2.4M351.2 145.5l-1 2.4-1 2.4M354.4 144.5l-1 2.3-1 2.5M357 145.4l-.9 2.5-.9 2.4M361 143.7l-.9 2.5-.9 2.5M364.5 144.3l-.9 2.5-.8 2.5M368.2 144.8l-.8 2.5-.8 2.7M372.2 145.3l-.8 2.6-.7 2.7M376.4 145.9l-.7 2.7M380.7 146.6l-.6 2.8M385.8 144.8l-.6 2.8-.6 2.8M390.3 145.8l-.5 2.9-.5 2.9M394.9 147.2l-.4 2.9M399.6 148.7l-.4 3.1M404.7 147.6l-.3 3-.3 3.1M409.4 149.7l-.2 3.1M414.3 148.9l-.1 3.1-.1 3.2M419.1 151.5l0 3.2M423.9 151.1l.1 3.3 .1 3.3M428.6 151l.2 3.2 .2 3.4M433.5 154.3l.2 3.4M438.1 154.6l.3 3.4M442.6 155l.4 3.4M447 155.7l.5 3.4 .5 3.5M451.3 156.5l.6 3.5 .6 3.5"/>
<path stroke="#ff8f00" stroke-width="1.42" d="M348.6 141.7l2-.2 2.6-.6M345.1 143.2l.9 .6 1.5 .2 2.1-.2 2.6-.6 3.1-1.1 3.6-1.4M343.8 143.5l-.2 1.2 .4 .9 .9 .6 1.6 .2M351.2 145.5l3.2-1 3.5-1.5 4-1.7 4.3-1.9M343.2 144.7l-.6 1.3-.1 1.1 .4 .9M357 145.4l4-1.7 4.3-1.9 4.5-2M342 147.2l-.6 1.3M364.5 144.3l4.5-2 4.7-2.1M368.2 144.8l4.8-2.1 4.8-2.1M497.8 172.5l1.7 3.8 1.3 3.7M372.2 145.3l4.9-2.1 4.9-1.9M497.1 171.9l2 3.8 1.7 3.8M376.4 145.9l5-2 5-1.9M493.7 167.9l2.4 3.6 2.3 3.7M385.8 144.8l5-1.8 5-1.5M492.3 167.7l2.7 3.5 2.5 3.6M390.3 145.8l5.1-1.5 4.9-1.4M487.8 164.7l3 3.1 2.8 3.3 2.7 3.4M394.9 147.2l5.1-1.4 4.9-1.2 4.9-1M482.6 162.4l3.3 2.7 3.1 2.9 3 3.2M404.7 147.6l4.9-1 4.8-.8 4.8-.5M476.9 160.9l3.5 2.3 3.4 2.6 3.3 2.7M414.3 148.9l4.9-.6 4.7-.3 4.6-.2M454.8 154.2l4.1 1.2 4 1.4 3.9 1.5 3.8 1.8 3.7 2 3.7 2.2 3.5 2.4M423.9 151.1l4.7-.1 4.7 0 4.5 .3 4.4 .4 4.3 .6 4.2 .9 4.1 1M455.5 157.5l4.1 1.3 4.1 1.4 4 1.6 3.8 1.8M438.1 154.6l4.5 .4 4.4 .7 4.3 .8 4.2 1M454.8 154.2l.7 3.3M458.9 155.4l.7 3.4M462.9 156.8l.8 3.4M466.8 158.3l.9 3.5M469.6 156.8l1 3.3 .9 3.5M473.3 158.7l1 3.4 1 3.5M476.9 160.9l1.1 3.4M480.4 163.2l1.1 3.5M482.6 162.4l1.2 3.4 1.2 3.5M485.9 165.1l1.2 3.4M487.8 164.7l1.2 3.3 1.3 3.5M490.8 167.8l1.2 3.4M492.3 167.7l1.3 3.4 1.3 3.4M493.7 167.9l1.3 3.3 1.3 3.3M496.1 171.5l1.4 3.3M497.1 171.9l1.3 3.3M497.8 172.5l1.3 3.2 1.3 3.2M498.2 173.1l1.3 3.2 1.3 3.2M343.8 143.5l-1.2 2.5-1.2 2.5M344.8 142.3l-1.2 2.4-1.1 2.4M345.1 143.2l-1.1 2.4-1.1 2.4M347.1 141.5l-1.1 2.3-1.1 2.4M348.6 141.7l-1.1 2.3-1 2.4M350.6 141.5l-1 2.3-1 2.4M353.2 140.9l-1 2.3-1 2.3M356.3 139.8l-1 2.3-.9 2.4M358.9 140.7l-1 2.3-.9 2.4M362.8 139l-.9 2.3-.9 2.4M366.2 139.4l-.9 2.4-.8 2.5M369.8 139.8l-.8 2.5-.8 2.5M373.7 140.2l-.7 2.5-.8 2.6M377.8 140.6l-.7 2.6-.7 2.7M382 141.3l-.6 2.6-.7 2.7M386.4 142l-.6 2.8M390.8 143l-.5 2.8M395.8 141.5l-.4 2.8-.5 2.9M400.3 142.9l-.3 2.9-.4 2.9M404.9 144.6l-.2 3M409.8 143.6l-.2 3-.2 3.1M414.4 145.8l-.1 3.1M419.2 145.3l0 3-.1 3.2M423.9 148l0 3.1M428.5 147.8l.1 3.2M433 147.8l.3 3.2 .2 3.3M437.4 148.1l.4 3.2 .3 3.3M442.2 151.7l.4 3.3M446.5 152.3l.5 3.4M450.7 153.2l.6 3.3"/>
<path stroke="#ff8000" stroke-width="1.41" d="M350.7 137.2l2-.2 2.5-.6M347.4 138.6l.8 .6 1.4 .3 2-.2 2.6-.7 3-1 3.5-1.5M346.2 138.7l-.2 1.2 .3 1 .8 .6 1.5 .2M353.2 140.9l3.1-1.1 3.5-1.4 3.9-1.7 4.2-2M345.7 139.7l-.7 1.4-.2 1.2 .3 .9M358.9 140.7l3.9-1.7 4.2-2 4.5-2M344.5 142.2l-.7 1.3M366.2 139.4l4.5-2 4.6-2.1M369.8 139.8l4.7-2.1 4.7-2.1M495.2 166.3l1.7 3.8M373.7 140.2l4.8-2.1 4.9-2M494.4 165.6l2.1 3.8 1.7 3.7M377.8 140.6l4.9-2 4.9-1.8M493.5 165.1l2.3 3.6 2 3.8M382 141.3l5-1.9 4.9-1.8M489.7 161.3l2.7 3.4 2.4 3.5 2.3 3.7M386.4 142l5-1.7 4.9-1.6 4.8-1.3M488.2 161.2l2.8 3.3 2.7 3.4M395.8 141.5l4.9-1.4 4.8-1.2M483.4 158.5l3.1 2.9 3 3.1 2.8 3.2M400.3 142.9l4.9-1.2 4.8-1 4.7-.7M478.1 156.6l3.3 2.5 3.2 2.7 3.2 2.9M409.8 143.6l4.8-.7 4.6-.6 4.6-.4M468.6 153.5l3.6 1.9 3.6 2.1 3.4 2.3 3.4 2.6M419.2 145.3l4.6-.4 4.5-.2 4.5 0 4.3 .2M454.2 150.9l3.9 1.2 3.9 1.3 3.9 1.6 3.7 1.8 3.7 1.9 3.6 2.2M428.5 147.8l4.5 0 4.4 .3 4.3 .4 4.3 .6 4.1 .8 4.1 1M453.5 147.7l.7 3.2 .6 3.3M457.4 148.8l.7 3.3 .8 3.3M461.2 150.2l.8 3.2 .9 3.4M465 151.7l.9 3.3 .9 3.3M468.6 153.5l1 3.3M472.2 155.4l1.1 3.3M474.7 154.3l1.1 3.2 1.1 3.4M478.1 156.6l1.1 3.2 1.2 3.4M481.4 159.1l1.2 3.3M483.4 158.5l1.2 3.3 1.3 3.3M486.5 161.4l1.3 3.3M488.2 161.2l1.3 3.3 1.3 3.3M489.7 161.3l1.3 3.2 1.3 3.2M492.4 164.7l1.3 3.2M493.5 165.1l1.3 3.1 1.3 3.3M494.4 165.6l1.4 3.1 1.3 3.2M495.2 166.3l1.3 3.1 1.3 3.1M346.2 138.7l-1.2 2.4-1.2 2.4M346 139.9l-1.2 2.4M347.4 138.6l-1.1 2.3-1.2 2.3M349.3 137l-1.1 2.2-1.1 2.3M350.7 137.2l-1.1 2.3-1 2.2M352.7 137l-1.1 2.3-1 2.2M355.2 136.4l-1 2.2-1 2.3M358.2 135.3l-1 2.3-.9 2.2M360.7 136.1l-.9 2.3-.9 2.3M363.7 136.7l-.9 2.3M367.9 134.7l-.9 2.3-.8 2.4M371.5 135l-.8 2.4-.9 2.4M375.3 135.3l-.8 2.4-.8 2.5M379.2 135.6l-.7 2.5-.7 2.5M383.4 136.1l-.7 2.5-.7 2.7M387.6 136.8l-.6 2.6-.6 2.6M391.9 137.6l-.5 2.7-.6 2.7M396.3 138.7l-.5 2.8M401.1 137.4l-.4 2.7-.4 2.8M405.5 138.9l-.3 2.8-.3 2.9M410 140.7l-.2 2.9M414.7 140l-.1 2.9-.2 2.9M419.2 142.3l0 3M423.8 141.9l0 3 .1 3.1M428.2 141.7l.1 3 .2 3.1M432.8 144.7l.2 3.1M437.1 144.9l.3 3.2M441.3 145.3l.4 3.2 .5 3.2M445.5 145.9l.5 3.2 .5 3.2M449.5 146.7l.6 3.2 .6 3.3"/>
<path stroke="#ff7000" stroke-width="1.41" d="M351.5 132.6l1.3 .3 1.9-.2 2.4-.6 3-1.1M349.7 134.1l.7 .7 1.4 .2 1.9-.1 2.5-.7 3-1 3.4-1.5M348.6 134l-.3 1.3 .2 1 .8 .7 1.4 .2M355.2 136.4l3-1.1 3.5-1.4 3.8-1.7 4.1-2M348.2 134.9l-.8 1.4-.2 1.3 .2 1M360.7 136.1l3.9-1.7 4.1-2 4.4-2M346.9 137.3l-.7 1.4M367.9 134.7l4.4-2.1 4.5-2.1M371.5 135l4.5-2.1 4.7-2.1M492.6 160.3l1.7 3.8M375.3 135.3l4.6-2.1 4.7-2M491.8 159.6l2.1 3.7 1.7 3.7M379.2 135.6l4.8-2 4.7-1.9M490.9 158.9l2.2 3.7 2.1 3.7M383.4 136.1l4.8-1.9 4.7-1.7M489.8 158.5l2.4 3.5 2.2 3.6M387.6 136.8l4.8-1.8 4.7-1.5M485.7 155l2.7 3.2 2.7 3.3 2.4 3.6M391.9 137.6l4.8-1.5 4.7-1.4 4.7-1.2M484 155.1l2.9 3 2.8 3.2M401.1 137.4l4.7-1.2 4.6-1M479.1 152.7l3.1 2.6 3.1 2.9 2.9 3M405.5 138.9l4.7-1 4.6-.8 4.5-.6M470.2 149l3.4 2.1 3.4 2.3 3.2 2.4 3.2 2.7M414.7 140l4.5-.6 4.5-.4 4.3-.2 4.3 0M452.8 144.6l3.8 1.1 3.8 1.3 3.7 1.6 3.6 1.7 3.5 1.9 3.5 2.1 3.4 2.3M423.8 141.9l4.4-.2 4.3 0 4.3 .2 4.1 .4 4.1 .6 3.9 .7 3.9 1M453.5 147.7l3.9 1.1 3.8 1.4 3.8 1.5 3.6 1.8M437.1 144.9l4.2 .4 4.2 .6 4 .8 4 1M452.8 144.6l.7 3.1M456.6 145.7l.8 3.1M460.4 147l.8 3.2M464.1 148.6l.9 3.1M466.7 147.2l1 3.1 .9 3.2M470.2 149l1 3.2 1 3.2M473.6 151.1l1.1 3.2M475.9 150.2l1.1 3.2 1.1 3.2M479.1 152.7l1.1 3.1 1.2 3.3M481 152.2l1.2 3.1 1.2 3.2M484 155.1l1.3 3.1 1.2 3.2M485.7 155l1.2 3.1 1.3 3.1M488.4 158.2l1.3 3.1M489.8 158.5l1.3 3 1.3 3.2M490.9 158.9l1.3 3.1 1.3 3.1M491.8 159.6l1.3 3 1.3 3M492.6 160.3l1.3 3 1.3 3M348.6 134l-1.2 2.3-1.2 2.4M348.3 135.3l-1.1 2.3-1.2 2.3M349.7 134.1l-1.2 2.2-1.1 2.3M351.5 132.6l-1.1 2.2-1.1 2.2M352.8 132.9l-1 2.1-1.1 2.2M354.7 132.7l-1 2.2-1 2.1M357.1 132.1l-.9 2.1-1 2.2M360.1 131l-.9 2.2-1 2.1M362.6 131.7l-.9 2.2-1 2.2M365.5 132.2l-.9 2.2-.9 2.3M369.6 130.2l-.9 2.2-.8 2.3M373.1 130.4l-.8 2.2-.8 2.4M376.8 130.5l-.8 2.4-.7 2.4M380.7 130.8l-.8 2.4-.7 2.4M384.6 131.2l-.6 2.4-.6 2.5M388.7 131.7l-.5 2.5-.6 2.6M392.9 132.5l-.5 2.5-.5 2.6M397.1 133.5l-.4 2.6-.4 2.6M401.4 134.7l-.3 2.7M406.1 133.5l-.3 2.7-.3 2.7M410.4 135.2l-.2 2.7-.2 2.8M414.9 134.4l-.1 2.7-.1 2.9M419.3 136.5l-.1 2.9 0 2.9M423.6 136.1l.1 2.9 .1 2.9M428 138.8l.2 2.9M432.3 138.8l.2 2.9 .3 3M436.4 139l.4 2.9 .3 3M440.9 142.3l.4 3M445 142.9l.5 3M448.9 143.6l.6 3.1"/>
<path stroke="#ff6000" stroke-width="1.40" d="M353.7 128.4l1.2 .3 1.8-.2 2.4-.6 2.9-1.1M351.9 129.7l.7 .8 1.3 .3 1.8-.2 2.4-.6 3-1.1 3.3-1.4M351 129.6l-.3 1.3 .1 1 .7 .7M360.1 131l3.4-1.4 3.8-1.8 4-2M350.6 130.3l-.8 1.5-.3 1.3 .2 1M362.6 131.7l3.8-1.7 4-2 4.3-2.1M349.4 132.6l-.8 1.4M369.6 130.2l4.3-2.1 4.4-2.1M373.1 130.4l4.4-2.2 4.6-2M490 154.5l1.8 3.8M376.8 130.5l4.6-2.1 4.5-1.9M489.2 153.7l2.1 3.7 1.7 3.7M380.7 130.8l4.6-2 4.6-1.9M488.3 153l2.2 3.6 2.1 3.7M384.6 131.2l4.7-1.9 4.6-1.7M487.2 152.5l2.4 3.5 2.2 3.6M388.7 131.7l4.7-1.7 4.6-1.6M485.9 152.1l2.6 3.3 2.4 3.5M392.9 132.5l4.7-1.6 4.6-1.4M481.6 149l2.8 3 2.8 3.1 2.6 3.4M397.1 133.5l4.7-1.4 4.6-1.2 4.4-1M476.8 146.6l3 2.6 3 2.8 2.9 3M406.1 133.5l4.5-1 4.4-.8 4.3-.6M471.5 145l3.3 2.2 3.1 2.4 3.1 2.6 3 2.9M410.4 135.2l4.5-.8 4.4-.6 4.3-.4 4.1-.2M458.8 141l3.5 1.5 3.5 1.6 3.4 1.9 3.4 2 3.3 2.2 3.2 2.5M419.3 136.5l4.3-.4 4.3-.2 4.2 0 4 .2 4 .4 3.9 .5M452.2 141.6l3.7 1.1 3.7 1.3 3.6 1.5 3.5 1.7 3.5 1.8M432.3 138.8l4.1 .2 4.1 .3 4 .6 3.9 .8 3.8 .9M451.5 138.7l.7 2.9 .6 3M455.2 139.7l.7 3 .7 3M458.8 141l.8 3 .8 3M462.3 142.5l.9 3 .9 3.1M465.8 144.1l.9 3.1M468.2 143l1 3 1 3M471.5 145l1.1 3 1 3.1M474.8 147.2l1.1 3M476.8 146.6l1.1 3 1.2 3.1M479.8 149.2l1.2 3M481.6 149l1.2 3 1.2 3.1M484.4 152l1.3 3M485.9 152.1l1.3 3 1.2 3.1M487.2 152.5l1.3 2.9 1.3 3.1M488.3 153l1.3 3 1.3 2.9M489.2 153.7l1.3 2.9 1.3 3M490 154.5l1.3 2.9 1.3 2.9M351 129.6l-1.2 2.2-1.2 2.2M351.8 128.7l-1.1 2.2-1.2 2.2-1.2 2.2M351.9 129.7l-1.1 2.2-1.1 2.2M353.7 128.4l-1.1 2.1-1.1 2.1M354.9 128.7l-1 2.1-1.1 2.1M357.8 126.5l-1.1 2-1 2.1-1 2.1M359.1 127.9l-1 2.1-1 2.1M362 126.8l-.9 2.1-1 2.1M364.4 127.5l-.9 2.1-.9 2.1M368.2 125.7l-.9 2.1-.9 2.2-.9 2.2M371.3 125.8l-.9 2.2-.8 2.2M374.7 125.9l-.8 2.2-.8 2.3M378.3 126l-.8 2.2-.7 2.3M382.1 126.2l-.7 2.2-.7 2.4M385.9 126.5l-.6 2.3-.7 2.4M389.9 126.9l-.6 2.4-.6 2.4M393.9 127.6l-.5 2.4-.5 2.5M398 128.4l-.4 2.5-.5 2.6M402.2 129.5l-.4 2.6-.4 2.6M406.4 130.9l-.3 2.6M410.8 129.9l-.2 2.6-.2 2.7M415 131.7l-.1 2.7M419.3 131.1l0 2.7 0 2.7M423.6 133.4l0 2.7M427.7 133.2l.2 2.7 .1 2.9M431.8 133.2l.3 2.7 .2 2.9M436.1 136.1l.3 2.9M440.1 136.5l.4 2.8 .4 3M444 137l.5 2.9 .5 3M447.8 137.8l.6 2.9 .5 2.9"/>
<path stroke="#ff5000" stroke-width="1.39" d="M355.9 124.3l1.1 .3 1.8-.1 2.3-.6 2.8-1.1M354.2 124.5l0 1.1 .6 .7 1.2 .3 1.8-.1 2.3-.6 2.9-1.1 3.3-1.4 3.6-1.8M353.4 125.3l-.4 1.3 .1 1 .6 .8M362 126.8l3.4-1.4 3.6-1.8 4-1.9M353.1 125.9l-.9 1.5-.4 1.3 .1 1M364.4 127.5l3.8-1.8 3.9-2 4.2-2M351.9 128.1l-.9 1.5M371.3 125.8l4.2-2 4.3-2.1M374.7 125.9l4.4-2.1 4.4-2M487.4 149l1.8 3.7M378.3 126l4.5-2.1 4.4-1.9M486.7 148.1l2 3.6 1.8 3.7M382.1 126.2l4.5-2 4.5-1.9M485.7 147.4l2.3 3.5 2 3.6M385.9 126.5l4.6-1.9 4.5-1.7M484.6 146.8l2.4 3.4 2.2 3.5M389.9 126.9l4.5-1.7 4.5-1.5M483.3 146.4l2.6 3.2 2.4 3.4M393.9 127.6l4.6-1.6 4.4-1.3M481.9 146.1l2.7 3.1 2.6 3.3M398 128.4l4.5-1.3 4.4-1.2M477.5 143.4l2.9 2.7 2.8 2.9 2.7 3.1M402.2 129.5l4.4-1.1 4.4-1 4.2-.8M472.6 141.4l3 2.3 3 2.6 3 2.7M410.8 129.9l4.3-.8 4.3-.6 4.1-.4M460.6 136.8l3.3 1.5 3.3 1.8 3.3 2 3.2 2.2 3.1 2.3M419.3 131.1l4.2-.4 4.1-.2 4 0 3.9 .2 3.8 .3M450.9 135.8l3.6 1.1 3.5 1.2 3.5 1.5 3.4 1.6 3.3 1.8 3.3 2M427.7 133.2l4.1 0 4 .1 3.9 .4 3.8 .5 3.7 .7 3.7 .9M451.5 138.7l3.7 1 3.6 1.3M444 137l3.8 .8 3.7 .9M450.2 133.1l.7 2.7 .6 2.9M453.7 134.1l.8 2.8 .7 2.8M457.2 135.3l.8 2.8 .8 2.9M460.6 136.8l.9 2.8 .8 2.9M463.9 138.3l1 2.9 .9 2.9M467.2 140.1l1 2.9M469.4 139.3l1.1 2.8 1 2.9M472.6 141.4l1.1 2.9 1.1 2.9M474.5 140.9l1.1 2.8 1.2 2.9M477.5 143.4l1.1 2.9 1.2 2.9M479.1 143.3l1.3 2.8 1.2 2.9M481.9 146.1l1.3 2.9 1.2 3M483.3 146.4l1.3 2.8 1.3 2.9M484.6 146.8l1.3 2.8 1.3 2.9M485.7 147.4l1.3 2.8 1.3 2.8M486.7 148.1l1.3 2.8 1.2 2.8M487.4 149l1.3 2.7 1.3 2.8M353.4 125.3l-1.2 2.1-1.2 2.2M354.2 124.5l-1.2 2.1-1.2 2.1M355.3 123.6l-1.1 2-1.1 2-1.2 2.1M355.9 124.3l-1.1 2-1.1 2.1M358.1 122.7l-1.1 1.9-1 2-1.1 2.1M359.8 122.6l-1 1.9-1 2M362.1 121.9l-1 2-1 2-1 2M363.9 122.8l-.9 2-1 2M367.2 121.4l-.9 2-.9 2-1 2.1M369.9 121.6l-.9 2-.8 2.1M373 121.7l-.9 2-.8 2.1M376.3 121.7l-.8 2.1-.8 2.1M379.8 121.7l-.7 2.1-.8 2.2M383.5 121.8l-.7 2.1-.7 2.3M387.2 122l-.6 2.2-.7 2.3M391.1 122.3l-.6 2.3-.6 2.3M395 122.9l-.6 2.3-.5 2.4M398.9 123.7l-.4 2.3-.5 2.4M402.9 124.7l-.4 2.4-.3 2.4M406.9 125.9l-.3 2.5-.2 2.5M411.2 124.9l-.2 2.5-.2 2.5M415.2 126.6l-.1 2.5-.1 2.6M419.4 126l0 2.5-.1 2.6M423.5 128.1l0 2.6 .1 2.7M427.5 127.9l.1 2.6 .1 2.7M431.6 130.5l.2 2.7M435.5 130.7l.3 2.6 .3 2.8M439.3 131l.4 2.7 .4 2.8M443 131.5l.5 2.7 .5 2.8M446.7 132.2l.5 2.7 .6 2.9"/>
<path stroke="#ff4000" stroke-width="1.39" d="M360.2 118.9l1.6-.1 2.3-.6M357.6 119.6l.5 .8 1.1 .4 1.6-.2 2.3-.6 2.7-1 3.3-1.5M356.5 120.5l0 1.1 .5 .7 1.1 .4 1.7-.1 2.3-.7 2.8-1 3.2-1.5 3.6-1.7M355.8 121.1l-.5 1.4 0 1.1 .6 .7M363.9 122.8l3.3-1.4 3.6-1.8 3.9-1.9M355.5 121.7l-.9 1.5-.4 1.3M369.9 121.6l3.9-1.9 4.1-2.1M354.3 123.8l-.9 1.5M373 121.7l4.1-2.1 4.2-2.1M376.3 121.7l4.3-2.1 4.3-2.1M484.9 143.7l1.8 3.6M379.8 121.7l4.4-2.1 4.3-1.9M484.1 142.8l2 3.5 1.8 3.7M383.5 121.8l4.4-2 4.3-1.8M483.2 142l2.2 3.4 2 3.6M387.2 122l4.4-1.9 4.4-1.7M482.1 141.4l2.3 3.3 2.3 3.4M391.1 122.3l4.4-1.7 4.3-1.5M480.8 140.9l2.5 3.1 2.4 3.4M395 122.9l4.3-1.5 4.3-1.4M479.5 140.6l2.6 3 2.5 3.2M398.9 123.7l4.3-1.4 4.3-1.1M475.1 137.9l2.8 2.6 2.8 2.8 2.6 3.1M402.9 124.7l4.3-1.2 4.2-1 4.1-.7M470.4 135.9l3 2.2 2.9 2.5 2.8 2.7 2.8 2.8M406.9 125.9l4.3-1 4.2-.8 4-.5 3.9-.4M462.1 132.9l3.2 1.7 3.1 1.9 3.1 2.1 3 2.3 3 2.5M415.2 126.6l4.2-.6 4-.4 3.9-.2 3.8 0 3.8 .1M449.6 130.4l3.4 1 3.4 1.2 3.3 1.4 3.3 1.6 3.2 1.7 3.2 2 3.2 2.1M423.5 128.1l4-.2 3.9 0 3.8 .1 3.7 .4 3.6 .5 3.6 .7 3.5 .8M450.2 133.1l3.5 1 3.5 1.2 3.4 1.5M439.3 131l3.7 .5 3.7 .7 3.5 .9M449.6 130.4l.6 2.7M452.3 128.8l.7 2.6 .7 2.7M455.6 130l.8 2.6 .8 2.7M458.9 131.4l.8 2.6 .9 2.8M462.1 132.9l.9 2.7 .9 2.7M465.3 134.6l.9 2.7 1 2.8M467.4 133.8l1 2.7 1 2.8M470.4 135.9l1.1 2.7 1.1 2.8M473.4 138.1l1.1 2.8M475.1 137.9l1.2 2.7 1.2 2.8M476.7 137.8l1.2 2.7 1.2 2.8M479.5 140.6l1.2 2.7 1.2 2.8M480.8 140.9l1.3 2.7 1.2 2.8M482.1 141.4l1.2 2.6 1.3 2.8M483.2 142l1.2 2.7 1.3 2.7M484.1 142.8l1.3 2.6 1.3 2.7M484.9 143.7l1.2 2.6 1.3 2.7M355.8 121.1l-1.2 2.1-1.2 2.1M356.5 120.5l-1.2 2-1.1 2M357.6 119.6l-1.1 2-1.2 2M359.2 118.5l-1.1 1.9-1.1 1.9-1.1 2M360.2 118.9l-1 1.9-1.1 1.9M361.8 118.8l-1 1.8-1 2M364.1 118.2l-1 1.8-1 1.9M366.8 117.1l-1 1.9-.9 1.9-1 1.9M369.1 117.5l-1 1.9-.9 2M371.7 117.7l-.9 1.9-.9 2M374.7 117.7l-.9 2-.8 2M377.9 117.6l-.8 2-.8 2.1M381.3 117.5l-.7 2.1-.8 2.1M384.9 117.5l-.7 2.1-.7 2.2M388.5 117.7l-.6 2.1-.7 2.2M392.2 118l-.6 2.1-.5 2.2M396 118.4l-.5 2.2-.5 2.3M399.8 119.1l-.5 2.3-.4 2.3M403.6 120l-.4 2.3-.3 2.4M407.5 121.2l-.3 2.3-.3 2.4M411.6 120.2l-.2 2.3-.2 2.4M415.5 121.8l-.1 2.3-.2 2.5M419.4 123.6l0 2.4M423.3 123.2l.1 2.4 .1 2.5M427.2 123l.1 2.4 .2 2.5M431.1 125.4l.3 2.5 .2 2.6M434.9 125.5l.3 2.5 .3 2.7M438.5 125.8l.4 2.6 .4 2.6M442.1 126.3l.4 2.6 .5 2.6M445.5 127l.6 2.6 .6 2.6"/>
<path stroke="#ff3000" stroke-width="1.38" d="M361.3 114.8l1 .4 1.6-.1 2.1-.6 2.7-1M359.8 115.9l.5 .8 1 .3 1.6-.1 2.2-.6 2.7-1 3.1-1.5M358.8 116.6l-.1 1.1 .5 .8 1 .4M364.1 118.2l2.7-1.1 3.2-1.4 3.5-1.8M358.2 117.2l-.6 1.3 0 1.1M369.1 117.5l3.5-1.7 3.8-1.9M358 117.7l-1 1.4-.5 1.4M371.7 117.7l3.8-2 4-2M356.8 119.7l-1 1.4M374.7 117.7l4-2.1 4.1-2M377.9 117.6l4.2-2.1 4.2-2M482.3 138.6l1.8 3.5M381.3 117.5l4.3-2 4.2-1.9M481.6 137.7l2 3.4 1.8 3.6M384.9 117.5l4.2-1.9 4.2-1.8M480.6 136.8l2.2 3.4 2.1 3.5M388.5 117.7l4.3-1.8 4.2-1.7M479.6 136.2l2.3 3.2 2.2 3.4M392.2 118l4.3-1.7 4.1-1.4M478.4 135.7l2.4 3 2.4 3.3M396 118.4l4.2-1.4 4.1-1.3M477 135.3l2.6 2.9 2.5 3.2M399.8 119.1l4.1-1.3 4.1-1.1M472.8 132.6l2.8 2.6 2.6 2.7 2.6 3M403.6 120l4.1-1.1 4.1-.9 3.9-.8M468.3 130.7l2.8 2.1 2.9 2.4 2.7 2.6 2.8 2.8M407.5 121.2l4.1-1 4-.7 3.9-.6 3.7-.4M460.3 127.7l3.1 1.7 3 1.8 2.9 2 2.9 2.3 2.9 2.4M415.5 121.8l3.9-.6 3.9-.4 3.7-.2 3.7 0 3.5 .1M448.3 125.3l3.3 1 3.3 1.2 3.2 1.3 3.1 1.5 3.1 1.7 3.1 1.8 3 2.1M423.3 123.2l3.9-.2 3.7-.1 3.6 .2 3.6 .3 3.5 .5 3.4 .6 3.3 .8M449 127.8l3.3 1 3.3 1.2 3.3 1.4 3.2 1.5M434.9 125.5l3.6 .3 3.6 .5 3.4 .7 3.5 .8M448.3 125.3l.7 2.5 .6 2.6M451.6 126.3l.7 2.5M454.1 125l.8 2.5 .7 2.5M457.2 126.3l.9 2.5 .8 2.6M460.3 127.7l.9 2.6 .9 2.6M463.4 129.4l.9 2.6 1 2.6M465.4 128.7l1 2.5 1 2.6M468.3 130.7l1 2.5 1.1 2.7M471.1 132.8l1.1 2.7 1.2 2.6M472.8 132.6l1.2 2.6 1.1 2.7M474.4 132.6l1.2 2.6 1.1 2.6M477 135.3l1.2 2.6 1.3 2.7M478.4 135.7l1.2 2.5 1.2 2.7M479.6 136.2l1.2 2.5 1.3 2.7M480.6 136.8l1.3 2.6 1.3 2.6M481.6 137.7l1.2 2.5 1.3 2.6M482.3 138.6l1.3 2.5 1.3 2.6M358.2 117.2l-1.2 1.9-1.2 2M358.8 116.6l-1.2 1.9-1.1 2M359.8 115.9l-1.1 1.8-1.1 1.9M361.3 114.8l-1 1.9-1.1 1.8M362.3 115.2l-1 1.8-1.1 1.9M364.9 113.4l-1 1.7-1 1.8-1.1 1.9M366 114.5l-.9 1.8-1 1.9M368.7 113.5l-.9 1.8-1 1.8M370.9 113.8l-.9 1.9-.9 1.8M373.5 113.9l-.9 1.9-.9 1.9M376.4 113.9l-.9 1.8-.8 2M379.5 113.7l-.8 1.9-.8 2M382.8 113.6l-.7 1.9-.8 2M386.3 113.5l-.7 2-.7 2M389.8 113.6l-.7 2-.6 2.1M393.3 113.8l-.5 2.1-.6 2.1M397 114.2l-.5 2.1-.5 2.1M400.6 114.9l-.4 2.1-.4 2.1M404.3 115.7l-.4 2.1-.3 2.2M408 116.7l-.3 2.2-.2 2.3M412 115.8l-.2 2.2-.2 2.2M415.7 117.2l-.1 2.3-.1 2.3M419.5 118.9l-.1 2.3 0 2.4M423.2 118.5l.1 2.3 0 2.4M426.9 118.3l.1 2.3 .2 2.4M430.7 120.6l.2 2.3 .2 2.5M434.2 120.7l.3 2.4 .4 2.4M437.7 121l.4 2.4 .4 2.4M441.1 121.5l.5 2.4 .5 2.4M445 124.5l.5 2.5"/>
<path stroke="#ff2000" stroke-width="1.37" d="M365.5 110l1.4-.1 2.1-.5M363.2 110.5l.3 .8 .9 .4 1.5-.1 2.1-.5 2.6-1.1 3.1-1.4M362.3 111.1l-.2 1.2 .3 .8 1 .3 1.5 0 2.1-.6 2.7-1.1 3-1.4 3.4-1.7M361.8 111.6l-.7 1.3-.1 1.1 .3 .8M368.7 113.5l3.1-1.4 3.5-1.8 3.6-1.9M361.6 112l-1 1.4-.6 1.4-.2 1.1M370.9 113.8l3.5-1.7 3.7-1.9 3.8-2M360.4 113.8l-1 1.5-.6 1.3M373.5 113.9l3.7-1.9 3.9-2M359.2 115.7l-1 1.5M376.4 113.9l3.9-2.1 4-2M379.5 113.7l4.1-2 4.1-2M479.8 133.7l1.8 3.5M382.8 113.6l4.2-2 4-1.8M479 132.8l2.1 3.3 1.8 3.5M386.3 113.5l4.1-1.8 4.1-1.8M478.1 131.9l2.2 3.3 2 3.4M389.8 113.6l4.1-1.7 4.1-1.6M477.1 131.2l2.3 3.1 2.2 3.4M393.3 113.8l4.2-1.6 4-1.4M475.9 130.7l2.4 3 2.3 3.1M397 114.2l4-1.4 4-1.2M472 127.7l2.6 2.6 2.5 2.8 2.5 3.1M400.6 114.9l4-1.3 4-1.1 3.7-.9M470.5 127.7l2.7 2.5 2.6 2.6 2.6 2.9M404.3 115.7l4-1.1 3.9-.9 3.7-.7M466.2 125.8l2.7 2.1 2.8 2.2 2.7 2.5 2.6 2.7M408 116.7l4-.9 3.8-.7 3.7-.6 3.6-.4M458.5 122.9l3 1.6 2.9 1.7 2.8 2 2.8 2.1 2.8 2.3M415.7 117.2l3.8-.5 3.7-.4 3.6-.2 3.4 0 3.4 .1M447.1 120.6l3.2 .9 3.1 1.1 3 1.3 3 1.4 3 1.6 3 1.8 2.9 2M423.2 118.5l3.7-.2 3.6 0 3.4 .1 3.4 .3 3.4 .5 3.2 .6 3.2 .8M447.7 122.9l3.2 1 3.2 1.1 3.1 1.3 3.1 1.4M434.2 120.7l3.5 .3 3.4 .5 3.3 .6 3.3 .8M446.5 118.3l.6 2.3 .6 2.3 .6 2.4M449.6 119.2l.7 2.3 .6 2.4 .7 2.4M452.6 120.3l.8 2.3 .7 2.4M455.6 121.5l.8 2.4 .8 2.4M458.5 122.9l.9 2.4 .9 2.4M461.5 124.5l.9 2.4 1 2.5M463.4 123.9l1 2.3 1 2.5M466.2 125.8l1 2.4 1.1 2.5M467.9 125.5l1 2.4 1.1 2.4 1.1 2.5M470.5 127.7l1.2 2.4 1.1 2.5M472 127.7l1.2 2.5 1.2 2.4M474.6 130.3l1.2 2.5 1.2 2.5M475.9 130.7l1.2 2.4 1.3 2.6M477.1 131.2l1.2 2.5 1.3 2.5M478.1 131.9l1.3 2.4 1.2 2.5M479 132.8l1.3 2.4 1.3 2.5M479.8 133.7l1.3 2.4 1.2 2.5M361.8 111.6l-1.2 1.8-1.2 1.9-1.2 1.9M362.3 111.1l-1.2 1.8-1.1 1.9-1.2 1.8M363.2 110.5l-1.1 1.8-1.1 1.7-1.2 1.9M363.5 111.3l-1.1 1.8-1.1 1.7M365.5 110l-1.1 1.7-1 1.7-1.1 1.8M366.9 109.9l-1 1.7-1 1.8M369 109.4l-1 1.7-1 1.7-1 1.7M370.6 110l-.9 1.7-1 1.8M373.7 108.6l-1 1.7-.9 1.8-.9 1.7M376.1 108.6l-.8 1.7-.9 1.8-.9 1.8M378.9 108.4l-.8 1.8-.9 1.8-.8 1.9M381.9 108.2l-.8 1.8-.8 1.8-.8 1.9M384.3 109.8l-.7 1.9-.8 1.9M387.7 109.7l-.7 1.9-.7 1.9M391 109.8l-.6 1.9-.6 1.9M394.5 109.9l-.6 2-.6 1.9M398 110.3l-.5 1.9-.5 2M401.5 110.8l-.5 2-.4 2.1M405 111.6l-.4 2-.3 2.1M408.6 112.5l-.3 2.1-.3 2.1M412.3 111.6l-.1 2.1-.2 2.1M415.9 113l-.1 2.1-.1 2.1M419.5 112.4l0 2.1 0 2.2 0 2.2M423.1 114.1l.1 2.2 0 2.2M426.6 114l.2 2.1 .1 2.2M430.2 116.1l.3 2.2 .2 2.3M433.6 116.2l.3 2.2 .3 2.3M437 116.5l.3 2.2 .4 2.3M440.2 116.9l.5 2.3 .4 2.3M443.4 117.5l.5 2.3 .5 2.3 .6 2.4"/>
<path stroke="#ff1000" stroke-width="1.36" d="M366.8 106.3l.8 .4 1.4 0 2-.6 2.5-1M365.5 107.2l.2 .8 .8 .4 1.4-.1 2.1-.6 2.5-1 3-1.4M364.6 107.7l-.3 1.1 .3 .8 .9 .4M369 109.4l2.6-1.1 3-1.4 3.3-1.6M364.2 108.1l-.8 1.3-.2 1.1M373.7 108.6l3.3-1.7 3.6-1.8M364.1 108.4l-1.1 1.4-.7 1.3M376.1 108.6l3.7-1.9 3.7-1.9M362.9 110.1l-1.1 1.5M378.9 108.4l3.8-1.9 3.9-1.9M381.9 108.2l3.9-1.9 3.9-1.9M476 126.8l1.9 3.3M381.1 110l4-2 3.9-1.9 3.9-1.7M477.3 129.1l1.8 3.3M384.3 109.8l4-1.9 4-1.8M476.5 128.1l2 3.3 1.9 3.4M387.7 109.7l4-1.8 3.9-1.7M475.6 127.2l2.2 3.2 2 3.3M391 109.8l4-1.7 3.9-1.6M472.3 123.7l2.3 2.8 2.3 3 2.1 3.3M394.5 109.9l3.9-1.5 3.9-1.4 3.7-1.2M471 123.3l2.5 2.7 2.3 2.9 2.3 3M398 110.3l3.9-1.4 3.8-1.2 3.7-1M469.7 123.1l2.5 2.5 2.5 2.7 2.4 2.9M401.5 110.8l3.8-1.2 3.8-1 3.6-.9M465.7 120.9l2.6 2.2 2.6 2.3 2.5 2.5 2.5 2.8M405 111.6l3.8-1.1 3.7-.9 3.6-.6 3.5-.5M461.4 119.3l2.7 1.9 2.7 2 2.6 2.1 2.6 2.4M412.3 111.6l3.7-.7 3.6-.5 3.4-.3 3.3-.2M454 117.1l2.8 1.3 2.8 1.5 2.8 1.7 2.7 1.8 2.8 2.1 2.6 2.2M415.9 113l3.6-.6 3.6-.3 3.4-.2 3.3 0 3.2 .1 3.2 .3M445.9 116.1l3 .9 3 1.1 2.9 1.2 2.9 1.3 2.8 1.6 2.9 1.7 2.8 1.9M423.1 114.1l3.5-.1 3.4-.1 3.3 .2 3.3 .2 3.1 .5 3.1 .6 3.1 .7M446.5 118.3l3.1 .9 3 1.1 3 1.2 2.9 1.4M433.6 116.2l3.4 .3 3.2 .4 3.2 .6 3.1 .8M445.3 114l.6 2.1 .6 2.2M448.2 114.9l.7 2.1 .7 2.2M451.1 115.9l.8 2.2 .7 2.2M454 117.1l.8 2.2 .8 2.2M456.8 118.4l.9 2.2 .8 2.3M458.7 117.7l.9 2.2 .9 2.3 1 2.3M461.4 119.3l1 2.3 1 2.3M464.1 121.2l1 2.2 1.1 2.4M465.7 120.9l1.1 2.3 1.1 2.3M468.3 123.1l1.1 2.2 1.1 2.4M469.7 123.1l1.2 2.3 1.1 2.3M471 123.3l1.2 2.3 1.2 2.3 1.2 2.4M472.3 123.7l1.2 2.3 1.2 2.3 1.2 2.4M474.6 126.5l1.2 2.4 1.3 2.3M475.6 127.2l1.3 2.3 1.2 2.4M476.5 128.1l1.3 2.3 1.2 2.4M476 126.8l1.3 2.3 1.2 2.3 1.3 2.3M364.2 108.1l-1.2 1.7-1.2 1.8M364.6 107.7l-1.2 1.7-1.1 1.7M365.5 107.2l-1.2 1.6-1.1 1.7M366.8 106.3l-1.1 1.7-1.1 1.6-1.1 1.7M368.6 105.2l-1 1.5-1.1 1.7-1 1.6M370 105.1l-1 1.6-1.1 1.6-1 1.6M371.9 104.6l-.9 1.5-1 1.6-1 1.7M373.5 105.1l-1 1.6-.9 1.6-1 1.7M375.5 105.3l-.9 1.6-.9 1.7M377.9 105.3l-.9 1.6-.9 1.7M380.6 105.1l-.8 1.6-.9 1.7M383.5 104.8l-.8 1.7-.8 1.7M386.6 104.6l-.8 1.7-.7 1.7-.8 1.8M389.7 104.4l-.7 1.7-.7 1.8-.6 1.8M392.9 104.4l-.6 1.7-.6 1.8-.7 1.9M395.6 106.2l-.6 1.9-.5 1.8M398.9 106.5l-.5 1.9-.4 1.9M402.3 107l-.4 1.9-.4 1.9M406 105.8l-.3 1.9-.4 1.9-.3 2M409.4 106.7l-.3 1.9-.3 1.9-.2 2M412.7 107.7l-.2 1.9-.2 2M416.1 109l-.1 1.9-.1 2.1M419.6 108.5l0 1.9-.1 2M423 110.1l.1 2 0 2M426.3 109.9l.2 2 .1 2.1M429.6 109.9l.2 2 .2 2 .2 2.2M433 112l.3 2.1 .3 2.1M436.2 112.3l.4 2 .4 2.2M439.3 112.7l.4 2.1 .5 2.1M442.3 113.3l.5 2.1 .6 2.1"/>
<path stroke="#ff0000" stroke-width="1.36" d="M370 101.7l.7 .4 1.3 0 1.9-.6 2.4-.9M368.8 102.4l.1 .8 .8 .4 1.3 0 1.9-.6 2.5-1 2.8-1.3M368.1 102.8l-.4 1.1 .2 .9 .7 .4 1.4-.1 1.9-.5 2.5-1 2.9-1.4 3.3-1.6M367.7 103.1l-.8 1.3-.3 1.1 .2 .8M373.5 105.1l2.9-1.4 3.3-1.6 3.4-1.8M367.7 103.3l-1.2 1.4-.7 1.3-.3 1.2M375.5 105.3l3.3-1.7 3.5-1.8 3.6-1.8M366.5 105l-1.1 1.4-.8 1.3M377.9 105.3l3.6-1.9 3.6-1.9 3.7-1.8M365.3 106.6l-1.1 1.5M380.6 105.1l3.7-2 3.8-1.8M383.5 104.8l3.8-1.9 3.8-1.8M473.6 122.5l1.8 3.2M386.6 104.6l3.8-1.9 3.8-1.7M472.8 121.5l2 3.1 1.8 3.3M389.7 104.4l3.8-1.7 3.8-1.6M471.9 120.7l2.1 2.9 2 3.2M392.9 104.4l3.8-1.6 3.7-1.5M471 120l2.2 2.8 2.1 3 2 3.3M392.3 106.1l3.9-1.6 3.7-1.5 3.6-1.2M469.9 119.4l2.3 2.7 2.2 2.9 2.1 3.1M395.6 106.2l3.8-1.5 3.7-1.3 3.6-1.1M468.7 119l2.4 2.5 2.3 2.8 2.2 2.9M398.9 106.5l3.8-1.3 3.7-1.1 3.5-1M465 116.6l2.5 2.2 2.4 2.3 2.4 2.6M406 105.8l3.6-.9 3.5-.8 3.3-.6M461.1 114.8l2.5 1.8 2.5 2.1 2.5 2.2 2.4 2.4M409.4 106.7l3.5-.8 3.4-.7 3.3-.4 3.2-.4M456.9 113.6l2.6 1.5 2.6 1.7 2.5 1.9 2.6 2.1 2.5 2.3M412.7 107.7l3.5-.6 3.4-.5 3.3-.4 3.2-.1 3.1 0M444.1 110l2.8 .8 2.8 1 2.7 1.1 2.7 1.3 2.7 1.4 2.6 1.6 2.7 1.8 2.6 1.9M419.6 108.5l3.3-.4 3.3-.2 3.2 0 3.1 .2 3 .2 2.9 .4 2.9 .6 2.8 .7M444.7 112l2.9 .8 2.8 1 2.8 1.1 2.8 1.4 2.7 1.4 2.7 1.6M426.3 109.9l3.3 0 3.1 .1 3.1 .3 3 .4 3 .5 2.9 .8M445.3 114l2.9 .9 2.9 1 2.9 1.2M436.2 112.3l3.1 .4 3 .6 3 .7M444.1 110l.6 2 .6 2M446.9 110.8l.7 2 .6 2.1M449.7 111.8l.7 2 .7 2.1M452.4 112.9l.8 2 .8 2.2M454.3 112.2l.8 2 .9 2.1 .8 2.1M456.9 113.6l.9 2 .9 2.1M459.5 115.1l.9 2.1 1 2.1M461.1 114.8l1 2 1 2.2 1 2.2M463.6 116.6l1 2.1 1.1 2.2M465 116.6l1.1 2.1 1.1 2.1 1.1 2.3M466.3 116.7l1.2 2.1 1.1 2.1 1.1 2.2M468.7 119l1.2 2.1 1.1 2.2M469.9 119.4l1.2 2.1 1.2 2.2M471 120l1.2 2.1 1.2 2.2 1.2 2.2M471.9 120.7l1.3 2.1 1.2 2.2 1.2 2.2M472.8 121.5l1.2 2.1 1.3 2.2 1.2 2.3M473.6 122.5l1.2 2.1 1.2 2.2M367.7 103.1l-1.2 1.6-1.1 1.7-1.2 1.7M368.1 102.8l-1.2 1.6-1.1 1.6-1.2 1.7M368.8 102.4l-1.1 1.5-1.1 1.6-1.1 1.7M370 101.7l-1.1 1.5-1 1.6-1.1 1.5M371.7 100.7l-1 1.4-1 1.5-1.1 1.6M373 100.6l-1 1.5-1 1.5-1 1.5M374.9 100.1l-1 1.4-1 1.5-1 1.6M376.3 100.6l-.9 1.4-1 1.6-.9 1.5M378.2 100.7l-.9 1.5-.9 1.5-.9 1.6M380.6 100.6l-.9 1.5-.9 1.5-.9 1.7M383.1 100.3l-.8 1.5-.8 1.6-.9 1.7M385.9 100l-.8 1.5-.8 1.6-.8 1.7M388.8 99.7l-.7 1.6-.8 1.6-.7 1.7M391.1 101.1l-.7 1.6-.7 1.7M394.2 101l-.7 1.7-.6 1.7M397.3 101.1l-.6 1.7-.5 1.7-.6 1.7M400.4 101.3l-.5 1.7-.5 1.7-.5 1.8M403.5 101.8l-.4 1.6-.4 1.8-.4 1.8M406.7 102.3l-.3 1.8-.4 1.7M409.9 103.1l-.3 1.8-.2 1.8M413.3 102.3l-.2 1.8-.2 1.8-.2 1.8M416.4 103.5l-.1 1.7-.1 1.9-.1 1.9M419.6 104.8l0 1.8 0 1.9M422.8 104.4l.1 1.8 0 1.9 .1 2M426.1 106.1l.1 1.8 .1 2M429.2 106.1l.2 1.8 .2 2M432.2 106.2l.3 1.9 .2 1.9 .3 2M435.5 108.3l.3 2 .4 2M438.4 108.7l.4 2 .5 2M441.3 109.3l.5 1.9 .5 2.1"/>
<path stroke="#ef0000" stroke-width="1.35" d="M373.3 97.4l.5 .4 1.2 0 1.8-.5 2.4-1M372.2 98l0 .8 .6 .4 1.2 0 1.8-.5 2.4-1 2.8-1.3M371.5 98.4l-.4 1 0 .8 .6 .5 1.3-.1 1.9-.5 2.4-1 2.8-1.3 3.1-1.6M371.3 98.6l-.9 1.2-.5 1.1 .1 .8M376.3 100.6l2.9-1.4 3.1-1.6 3.3-1.7M370.1 100l-.9 1.3-.4 1.1M378.2 100.7l3.2-1.6 3.4-1.8 3.5-1.7M368.9 101.6l-.8 1.2M380.6 100.6l3.4-1.8 3.5-1.8M368.9 101.7l-1.2 1.4M383.1 100.3l3.6-1.8 3.6-1.8M385.9 100l3.6-1.8 3.6-1.7M469.9 116.3l1.8 3.1M388.8 99.7l3.6-1.7 3.6-1.6M469.1 115.4l2 2.9 1.8 3.1M388.1 101.3l3.7-1.8 3.6-1.6 3.5-1.5M468.3 114.6l2 2.8 2 3 1.9 3.1M391.1 101.1l3.7-1.7 3.6-1.5 3.4-1.3M467.4 113.9l2.1 2.7 2.1 2.8 2 3.1M394.2 101l3.6-1.5 3.6-1.3 3.4-1.2M466.4 113.4l2.2 2.5 2.1 2.7 2.1 2.9M397.3 101.1l3.6-1.4 3.5-1.2 3.3-1M465.3 113l2.2 2.3 2.3 2.6 2.1 2.8M400.4 101.3l3.6-1.2 3.4-1 3.3-.9M464.1 112.7l2.3 2.2 2.3 2.4 2.3 2.7M403.5 101.8l3.5-1.1 3.4-.9 3.2-.7M460.5 110.7l2.4 1.9 2.3 2 2.4 2.3 2.3 2.5M406.7 102.3l3.4-.9 3.3-.7 3.2-.6 3.1-.4M456.7 109.2l2.4 1.6 2.4 1.8 2.4 1.9 2.4 2.2 2.4 2.3M409.9 103.1l3.4-.8 3.2-.6 3.2-.4 3-.3 3-.1M447.6 106.1l2.5 1.1 2.5 1.1 2.5 1.4 2.5 1.4 2.5 1.7 2.4 1.8 2.5 2M416.4 103.5l3.3-.5 3.1-.3 3-.1 2.9-.1 2.9 .2 2.8 .2 2.7 .4M443 106.2l2.6 .8 2.7 1 2.6 1 2.5 1.2 2.6 1.4 2.5 1.5 2.6 1.7M422.8 104.4l3.1-.1 3.1 0 2.9 .1 2.8 .3 2.8 .4 2.8 .5 2.7 .6M443.5 108.1l2.8 .8 2.7 .9 2.6 1.1 2.7 1.3 2.6 1.4M429.2 106.1l3 .1 2.9 .3 2.9 .4 2.8 .5 2.7 .7M442.4 104.5l.6 1.7 .5 1.9 .6 1.9M445 105.2l.6 1.8 .7 1.9 .6 1.9M447.6 106.1l.7 1.9 .7 1.8 .7 2M450.1 107.2l.8 1.8 .7 1.9 .8 2M452.6 108.3l.8 1.9 .9 2M454.2 107.8l.9 1.9 .9 1.9 .9 2M456.7 109.2l.9 1.9 .9 2 1 2M459.1 110.8l1 2 1 2M460.5 110.7l1 1.9 1 2 1.1 2M461.8 110.7l1.1 1.9 1 1.9 1.1 2.1M464.1 112.7l1.1 1.9 1.1 2.1M465.3 113l1.1 1.9 1.2 2 1.1 2.1M466.4 113.4l1.1 1.9 1.2 2 1.2 2.1M467.4 113.9l1.2 2 1.2 2 1.2 2.1M468.3 114.6l1.2 2 1.2 2 1.2 2.1M469.1 115.4l1.2 2 1.3 2 1.2 2.1M469.9 116.3l1.2 2 1.2 2.1 1.3 2.1M368.9 101.6l-1.2 1.5M371.5 98.4l-1.1 1.4-1.2 1.5-1.1 1.5M372.2 98l-1.1 1.4-1.2 1.5-1.1 1.5M373.3 97.4l-1.1 1.4-1.1 1.4-1.1 1.5M374.9 96.5l-1.1 1.3-1 1.4-1.1 1.5M376 96.5l-1 1.3-1 1.4-1 1.4M377.8 95.9l-1 1.4-1 1.4-.9 1.4M379.2 96.3l-1 1.4-.9 1.4-1 1.5M381 96.4l-.9 1.4-.9 1.4-1 1.5M383.2 96.2l-.9 1.4-.9 1.5-.8 1.5M385.6 95.9l-.8 1.4-.8 1.5-.9 1.5M388.3 95.6l-.8 1.4-.8 1.5-.8 1.5M390.3 96.7l-.8 1.5-.7 1.5M393.1 96.5l-.7 1.5-.6 1.5-.7 1.6M396 96.4l-.6 1.5-.6 1.5-.6 1.6M398.9 96.4l-.5 1.5-.6 1.6-.5 1.6M401.8 96.6l-.4 1.6-.5 1.5-.5 1.6M404.8 97l-.4 1.5-.4 1.6-.5 1.7M407.7 97.5l-.3 1.6-.4 1.6-.3 1.6M410.7 98.2l-.3 1.6-.3 1.6-.2 1.7M413.6 99.1l-.2 1.6-.1 1.6M416.7 98.5l-.1 1.6-.1 1.6-.1 1.8M419.7 99.7l0 1.6 0 1.7-.1 1.8M422.7 101l.1 1.7 0 1.7M425.7 100.9l.1 1.7 .1 1.7 .2 1.8M428.5 100.9l.2 1.6 .3 1.8 .2 1.8M431.6 102.7l.3 1.7 .3 1.8M434.4 102.9l.3 1.8 .4 1.8 .4 1.8M437.1 103.3l.4 1.8 .5 1.8 .4 1.8M439.8 103.8l.5 1.8 .5 1.8 .5 1.9"/>
<path stroke="#df0000" stroke-width="1.34" d="M376.5 93.5l.5 .4 1.1 0 1.7-.5 2.2-.9M375.5 94l-.1 .7 .5 .5 1.1-.1 1.8-.5 2.2-.9 2.7-1.2M375 94.2l-.6 1.1-.1 .8 .6 .4 1.1 0 1.8-.6 2.3-.9 2.7-1.3 3-1.5M374.8 94.4l-1 1.2-.5 1 0 .8M379.2 96.3l2.7-1.3 3-1.5 3.2-1.6M373.6 95.7l-.9 1.2-.5 1.1M381 96.4l3.1-1.5 3.2-1.7 3.3-1.6M372.4 97.1l-.9 1.3M383.2 96.2l3.3-1.7 3.3-1.6 3.4-1.6M385.6 95.9l3.5-1.7 3.4-1.6M388.3 95.6l3.4-1.7 3.4-1.6M466.2 110.7l1.8 2.8M387.5 97l3.5-1.7 3.5-1.6 3.3-1.5M465.5 109.8l1.9 2.7 1.8 2.9M390.3 96.7l3.5-1.6 3.4-1.5 3.3-1.3M464.7 109l2 2.6 1.9 2.8 1.9 3M393.1 96.5l3.5-1.5 3.4-1.4 3.3-1.2M463.8 108.4l2.1 2.4 2 2.7 2 2.8M396 96.4l3.5-1.4 3.3-1.2 3.2-1.1M462.9 107.8l2.1 2.4 2.1 2.5 2 2.7M398.9 96.4l3.4-1.2 3.3-1.1 3.1-.9M461.9 107.4l2.2 2.2 2.1 2.4 2.1 2.6M401.8 96.6l3.4-1.1 3.2-.9 3-.8M460.8 107.2l2.2 2 2.2 2.3 2.2 2.4M404.8 97l3.2-1 3.2-.8 3-.6M457.5 105.3l2.2 1.8 2.2 1.9 2.2 2.1 2.3 2.3M407.7 97.5l3.2-.8 3.1-.7 2.9-.5 2.9-.4M453.9 104l2.3 1.4 2.3 1.6 2.2 1.8 2.3 2 2.3 2.2M410.7 98.2l3.1-.7 3-.5 3-.4 2.8-.2 2.7-.2M447.8 102l2.4 1.1 2.3 1.2 2.3 1.4 2.3 1.5 2.4 1.6 2.3 1.9 2.3 2M413.6 99.1l3.1-.6 3-.4 2.9-.2 2.8-.2 2.7 0 2.7 .2 2.5 .2M441.3 101.1l2.4 .8 2.5 .8 2.4 1 2.4 1.1 2.4 1.2 2.3 1.4 2.4 1.6 2.4 1.7M419.7 99.7l3-.3 2.8-.1 2.8 0 2.7 .1 2.7 .3 2.6 .3 2.5 .5 2.5 .6M441.8 102.8l2.6 .7 2.5 .9 2.4 1 2.5 1.1 2.4 1.3 2.5 1.4M425.7 100.9l2.8 0 2.8 .1 2.7 .3 2.7 .3 2.6 .6 2.5 .6M442.4 104.5l2.6 .7 2.6 .9M437.1 103.3l2.7 .5 2.6 .7M440.7 99.6l.6 1.5 .5 1.7 .6 1.7M443.1 100.3l.6 1.6 .7 1.6 .6 1.7M445.5 101.1l.7 1.6 .7 1.7 .7 1.7M447.8 102l.8 1.7 .7 1.7 .8 1.8M450.2 103.1l.8 1.7 .8 1.7 .8 1.8M451.7 102.7l.8 1.6 .9 1.7 .8 1.8M453.9 104l.9 1.7 .9 1.7 1 1.8M456.2 105.4l.9 1.8 1 1.8 1 1.8M457.5 105.3l1 1.7 1 1.8 1 1.9M459.7 107.1l1 1.7 1.1 1.9M460.8 107.2l1.1 1.8 1.1 1.8 1.1 1.9M461.9 107.4l1.1 1.8 1.1 1.9 1.2 1.9M462.9 107.8l1.2 1.8 1.1 1.9 1.2 1.9M463.8 108.4l1.2 1.8 1.2 1.8 1.2 1.9M464.7 109l1.2 1.8 1.2 1.9 1.2 1.9M465.5 109.8l1.2 1.8 1.2 1.9 1.2 1.9M466.2 110.7l1.2 1.8 1.2 1.9 1.3 1.9M375 94.2l-1.2 1.4-1.1 1.3-1.2 1.5M375.5 94l-1.1 1.3-1.1 1.3-1.1 1.4M376.5 93.5l-1.1 1.2-1.1 1.4-1 1.3M378 92.7l-1 1.2-1.1 1.3-1 1.3M379.1 92.6l-1 1.3-1.1 1.2-1 1.4M380.7 92.2l-.9 1.2-1 1.2-1 1.3M382 92.5l-1 1.2-.9 1.3-.9 1.3M383.7 92.5l-.9 1.2-.9 1.3-.9 1.4M385.8 92.2l-.9 1.3-.8 1.4-.9 1.3M388.1 91.9l-.8 1.3-.8 1.3-.9 1.4M390.6 91.6l-.8 1.3-.7 1.3-.8 1.4M392.5 92.6l-.8 1.3-.7 1.4-.7 1.4M395.1 92.3l-.6 1.4-.7 1.4-.7 1.4M397.8 92.2l-.6 1.4-.6 1.4-.6 1.4M400.5 92.3l-.5 1.3-.5 1.4-.6 1.4M403.3 92.4l-.5 1.4-.5 1.4-.5 1.4M406 92.7l-.4 1.4-.4 1.4-.4 1.5M408.7 93.2l-.3 1.4-.4 1.4-.3 1.5M411.4 93.8l-.2 1.4-.3 1.5-.2 1.5M414.2 94.6l-.2 1.4-.2 1.5-.2 1.6M416.9 95.5l-.1 1.5-.1 1.5M419.8 95.1l0 1.5-.1 1.5 0 1.6M422.6 96.4l0 1.5 .1 1.5 0 1.6M425.3 96.2l.1 1.5 .1 1.6 .2 1.6M427.9 96.3l.2 1.4 .2 1.6 .2 1.6M430.8 97.9l.2 1.5 .3 1.6 .3 1.7M433.3 98.1l.4 1.6 .3 1.6 .4 1.6M435.9 98.5l.4 1.5 .4 1.6 .4 1.7M438.3 99l.5 1.5 .5 1.7 .5 1.6"/>
<path stroke="#cf0000" stroke-width="1.34" d="M380.8 88.7l.3 .5 1-.1 1.5-.4 2.2-.9M380 89.1l-.3 .8 .4 .4 1 0 1.6-.5 2.1-.9 2.6-1.1M379.6 89.3l-.7 1-.2 .7 .3 .4 1.1 0 1.6-.4 2.2-.9 2.6-1.2 2.8-1.4M379.5 89.4l-1.1 1.1-.7 1-.1 .7 .4 .5 1.1-.1 1.6-.4 2.2-.9 2.6-1.3 2.9-1.4 3.1-1.4M378.3 90.6l-1 1.1-.7 1-.1 .8M382 92.5l2.6-1.3 3-1.4 3-1.5M377.1 91.8l-1 1.1-.6 1.1M383.7 92.5l3-1.5 3.1-1.5 3.2-1.5M376 93.1l-1 1.1M385.8 92.2l3.2-1.5 3.2-1.6 3.2-1.4M388.1 91.9l3.3-1.6 3.2-1.5 3.2-1.3M390.6 91.6l3.3-1.6 3.2-1.4M393.2 91.3l3.3-1.5 3.1-1.3M461.9 104.7l1.9 2.5 1.8 2.7M392.5 92.6l3.3-1.5 3.2-1.4 3.1-1.2M461.2 103.9l1.9 2.4 1.9 2.6 1.8 2.8M395.1 92.3l3.3-1.4 3.2-1.2 3-1M460.4 103.3l2 2.3 1.9 2.4 1.9 2.7M397.8 92.2l3.3-1.2 3.1-1.1 2.9-.9M459.5 102.8l2 2.2 2 2.3 2 2.5M400.5 92.3l3.2-1.2 3-.9 2.9-.8M458.6 102.5l2 2 2.1 2.1 2 2.4M403.3 92.4l3.1-1 2.9-.8 2.8-.7M455.6 100.5l2 1.7 2.1 1.9 2.1 2 2 2.3M406 92.7l3-.8 2.9-.7 2.8-.6 2.6-.4M454.5 100.5l2.1 1.6 2.1 1.7 2.1 1.9 2.1 2.1M408.7 93.2l3-.7 2.8-.6 2.7-.5 2.6-.3M449.2 98.1l2.1 1.2 2.1 1.3 2.1 1.4 2.1 1.7 2.2 1.8 2.1 1.9M411.4 93.8l2.9-.6 2.8-.5 2.7-.3 2.6-.2 2.5-.1 2.4 .1M439.1 95.2l2.2 .7 2.2 .7 2.2 .9 2.1 .9 2.2 1.1 2.1 1.3 2.2 1.3 2.2 1.6 2.1 1.6 2.2 1.9M414.2 94.6l2.8-.5 2.8-.3 2.7-.3 2.5 0 2.5 0 2.5 .1 2.3 .3 2.3 .3 2.3 .5 2.2 .5M439.7 96.6l2.2 .7 2.3 .7 2.2 .9 2.2 1 2.2 1.2 2.2 1.2 2.2 1.5 2.3 1.5M419.8 95.1l2.7-.2 2.7-.1 2.5 0 2.5 .2 2.5 .2 2.3 .4 2.4 .4 2.3 .6M440.2 98l2.3 .7 2.3 .8 2.3 1 2.3 1 2.3 1.2 2.2 1.3M425.3 96.2l2.6 .1 2.6 .1 2.5 .2 2.4 .4 2.4 .5 2.4 .5M440.7 99.6l2.4 .7 2.4 .8 2.3 .9M433.3 98.1l2.6 .4 2.4 .5 2.4 .6M439.1 95.2l.6 1.4 .5 1.4 .5 1.6M441.3 95.9l.6 1.4 .6 1.4 .6 1.6M443.5 96.6l.7 1.4 .6 1.5 .7 1.6M445.7 97.5l.7 1.4 .7 1.6 .7 1.5M447.1 97l.7 1.4 .8 1.5 .8 1.6 .8 1.6M449.2 98.1l.8 1.4 .8 1.6 .9 1.6M451.3 99.3l.8 1.5 .9 1.5 .9 1.7M452.5 99.1l.9 1.5 .9 1.5 .9 1.7 1 1.6M454.5 100.5l1 1.5 1 1.7 1 1.6M455.6 100.5l1 1.6 1 1.6 1 1.6 1.1 1.8M457.6 102.2l1.1 1.6 1.1 1.7 1 1.7M458.6 102.5l1.1 1.6 1.1 1.6 1.1 1.7M459.5 102.8l1.1 1.7 1.2 1.6 1.1 1.7M460.4 103.3l1.1 1.7 1.2 1.6 1.1 1.8M461.2 103.9l1.2 1.7 1.1 1.7 1.2 1.7M461.9 104.7l1.2 1.6 1.2 1.7 1.2 1.8M462.6 105.5l1.2 1.7 1.2 1.7 1.2 1.8M379.6 89.3l-1.2 1.2-1.1 1.2-1.2 1.2-1.1 1.3M380 89.1l-1.1 1.2-1.2 1.2-1.1 1.2-1.1 1.3M380.8 88.7l-1.1 1.2-1 1.1-1.1 1.2-1.1 1.3M381.1 89.2l-1 1.1-1.1 1.1-1 1.3M383.1 88.1l-1 1-1 1.2-1 1.1-1 1.2M383.6 88.7l-.9 1.1-1 1.2-1 1.2M385.8 87.8l-1 1.1-.9 1.2-1 1.2-.9 1.2M387.4 87.8l-.9 1.1-1 1.1-.9 1.2-.9 1.3M389.3 87.5l-.9 1.1-.8 1.2-.9 1.2-.9 1.2M390.6 88.3l-.8 1.2-.8 1.2-.9 1.2M393 88l-.8 1.1-.8 1.2-.8 1.3M395.4 87.7l-.8 1.1-.7 1.2-.7 1.3-.7 1.3M397.1 88.6l-.6 1.2-.7 1.3-.7 1.2M399.6 88.5l-.6 1.2-.6 1.2-.6 1.3M402.1 88.5l-.5 1.2-.5 1.3-.6 1.3M404.6 88.7l-.4 1.2-.5 1.2-.4 1.3M407.1 89l-.4 1.2-.3 1.2-.4 1.3M409.6 89.4l-.3 1.2-.3 1.3-.3 1.3M412.1 89.9l-.2 1.3-.2 1.3-.3 1.3M414.7 90.6l-.2 1.3-.2 1.3-.1 1.4M417.3 90.2l-.1 1.2-.1 1.3-.1 1.4-.1 1.4M419.8 91.1l0 1.3 0 1.4 0 1.3M422.4 91l0 1.2 .1 1.3 0 1.4 .1 1.5M424.9 92.1l.1 1.4 .2 1.3 .1 1.4M427.3 92.2l.2 1.3 .2 1.3 .2 1.5M429.7 92.3l.3 1.3 .2 1.4 .3 1.4 .3 1.5M432.3 93.9l.4 1.3 .3 1.4 .3 1.5M434.6 94.2l.4 1.4 .4 1.4 .5 1.5M436.9 94.7l.5 1.3 .4 1.5 .5 1.5"/>
<path stroke="#bf0000" stroke-width="1.33" d="M385.1 84.6l.2 .4 .8 0 1.4-.4 2-.8M384.4 84.9l-.4 .7 .2 .4 .9 0 1.5-.4 2-.8 2.4-1.1M384.1 85l-.8 .9-.4 .7 .3 .4 .9 0 1.5-.4 2-.8 2.5-1.1 2.7-1.3M383 86l-.8 .9-.3 .8 .3 .4 .9 0 1.5-.5 2.1-.8 2.5-1.1 2.7-1.3M383 86.1l-1.2 1-.7 .9-.3 .7M385.8 87.8l2.5-1.1 2.7-1.3 2.9-1.3M381.8 87.1l-1.1 1.1-.7 .9M387.4 87.8l2.8-1.4 2.9-1.3 3-1.3M380.6 88.2l-1 1.1M389.3 87.5l3-1.4 3-1.4 2.9-1.2M391.5 87.2l3-1.4 3-1.3M390.6 88.3l3.1-1.5 3.1-1.3 3-1.2M393 88l3.1-1.4 3-1.3 2.9-1.1M457.3 98.5l1.8 2.3M395.4 87.7l3.1-1.3 2.9-1.2 2.8-1M456.6 97.9l1.8 2.1 1.9 2.3M397.8 87.5l3-1.2 2.9-1.1 2.7-.8M455.9 97.4l1.9 1.9 1.8 2.2 1.8 2.4M397.1 88.6l3.1-1.2 3-1.1 2.8-.9 2.7-.8M455.2 96.9l1.8 1.9 1.9 2 1.9 2.3 1.8 2.4M399.6 88.5l3.1-1.1 2.8-1 2.8-.8 2.6-.6M454.4 96.6l1.8 1.7 1.9 1.9 1.9 2.2 1.9 2.3M402.1 88.5l3-1 2.8-.8 2.7-.7 2.5-.5M453.5 96.4l1.9 1.6 1.9 1.8 2 2 1.9 2.1M404.6 88.7l2.9-.9 2.8-.7 2.6-.6 2.4-.4M450.7 94.9l1.9 1.3 1.9 1.5 2 1.7 1.9 1.9 2 2M407.1 89l2.8-.8 2.7-.6 2.6-.5 2.4-.3 2.3-.2M447.8 93.8l1.9 1.1 2 1.3 1.9 1.4 2 1.6 1.9 1.7 2 1.9M409.6 89.4l2.8-.7 2.6-.5 2.5-.3 2.4-.3 2.3-.1 2.2 0M442.9 92.2l1.9 .8 1.9 1 2 1.1 1.9 1.1 2 1.4 2 1.4 2 1.7 2 1.8M412.1 89.9l2.7-.5 2.6-.4 2.5-.3 2.4-.1 2.3-.1 2.2 .1 2.1 .1 2.1 .3M437.6 91.4l2 .6 2 .6 2 .8 2 .9 1.9 1 2 1.1 2 1.2 2.1 1.4 2 1.5M417.3 90.2l2.6-.3 2.4-.2 2.4 0 2.3 0 2.2 .2 2.1 .2 2.2 .3 2 .5 2.1 .5M438.1 92.6l2.1 .6 2 .7 2.1 .8 2 .9 2 1.1 2.1 1.1 2.1 1.3 2 1.4M419.8 91.1l2.6-.1 2.4-.1 2.4 0 2.2 .2 2.3 .2 2.1 .3 2.2 .5 2.1 .5M438.6 93.9l2.1 .6 2.2 .7 2.1 .9 2.1 .9 2.1 1.1M427.3 92.2l2.4 .1 2.3 .3 2.2 .3 2.2 .4 2.2 .6M437.1 90.2l.5 1.2 .5 1.2 .5 1.3 .5 1.3M439 90.8l.6 1.2 .6 1.2 .5 1.3 .6 1.4M441 91.4l.6 1.2 .6 1.3 .7 1.3 .6 1.4M442.9 92.2l.7 1.2 .7 1.3 .7 1.4 .7 1.4M444.8 93l.8 1.3 .7 1.3 .8 1.4M446 92.7l.7 1.3 .8 1.3 .8 1.4 .9 1.4M447.8 93.8l.9 1.3 .8 1.3 .9 1.4 .9 1.5M449.7 94.9l.9 1.3 .9 1.4 1 1.5M450.7 94.9l1 1.3 .9 1.4 1 1.4 .9 1.5M451.6 94.9l1 1.3 1 1.4 1 1.4 1 1.5M453.5 96.4l1 1.3 1.1 1.5 1 1.5 1 1.5M454.4 96.6l1 1.4 1.1 1.4 1 1.5 1.1 1.6M455.2 96.9l1 1.4 1.1 1.5 1.1 1.5 1.1 1.5M455.9 97.4l1.1 1.4 1.1 1.4 1.2 1.6 1.1 1.5M456.6 97.9l1.2 1.4 1.1 1.5 1.1 1.6 1.2 1.5M457.3 98.5l1.1 1.5 1.2 1.5 1.2 1.6 1.1 1.6M384.1 85l-1.1 1-1.2 1.1-1.1 1.1-1.1 1.1M384.4 84.9l-1.1 1-1.1 1-1.1 1.1-1.1 1.1M385.1 84.6l-1.1 1-1.1 1-1 1.1-1.1 1M385.3 85l-1.1 1-1 1-1 1.1-1.1 1.1M387.1 84.1l-1 .9-1 1-1 1-1 1.1M387.5 84.6l-.9 1-1 1-1 1-1 1.1M389.5 83.8l-.9 1-1 1-.9 1-.9 1M391 83.7l-.9 1-.9 1-.9 1-.9 1.1M392.8 83.4l-.9 1-.9 1-.8 1-.9 1.1M393.9 84.1l-.8 1-.8 1-.8 1.1-.9 1.1M396.1 83.8l-.8 .9-.8 1.1-.8 1-.7 1.2M398.2 83.5l-.7 1-.7 1-.7 1.1-.7 1.1M399.8 84.3l-.7 1-.6 1.1-.7 1.1-.7 1.1M402 84.2l-.6 1-.6 1.1-.6 1.1-.6 1.1M404.2 84.2l-.5 1-.5 1.1-.5 1.1-.6 1.1M406.4 84.4l-.4 1-.5 1-.4 1.1-.5 1.2M408.7 84.6l-.4 1-.4 1.1-.4 1.1-.4 1.2M410.9 85l-.3 1-.3 1.1-.4 1.1-.3 1.2M413.1 85.5l-.2 1-.3 1.1-.2 1.1-.3 1.2M415.3 86.1l-.1 1-.2 1.1-.2 1.2-.1 1.2M417.7 85.7l-.1 1.1-.1 1.1-.1 1.1-.1 1.2M419.9 86.6l0 1 0 1.1 0 1.2-.1 1.2M422.2 87.5l.1 1.1 0 1.1 .1 1.3M424.4 87.5l.2 1 .1 1.2 .1 1.2 .1 1.2M426.6 87.5l.2 1.1 .2 1.1 .2 1.2 .1 1.3M428.9 88.7l.3 1.2 .2 1.2 .3 1.2M431 89l.3 1.1 .4 1.2 .3 1.3 .3 1.3M433.1 89.3l.4 1.1 .3 1.2 .4 1.3 .4 1.3M435.1 89.7l.4 1.2 .5 1.2 .4 1.2 .5 1.4"/>
<path stroke="#af0000" stroke-width="1.32" d="M390.4 80.7l.7 0 1.2-.4M389.4 81.1l0 .4 .7 0 1.3-.4 1.8-.7M388.8 81.3l-.5 .6 .1 .4 .7 0 1.3-.4 1.9-.7 2.3-.9M388.6 81.4l-.9 .8-.5 .6 .1 .4 .8 0 1.4-.4 1.9-.8 2.3-.9 2.5-1.1M387.5 82.3l-.9 .7-.4 .7 .1 .4 .8 0 1.4-.4 1.9-.8 2.4-1 2.6-1.1 2.6-1.1M387.6 82.3l-1.2 .8-.9 .9-.4 .6M389.5 83.8l2.4-1 2.6-1.2 2.7-1.1M386.4 83.2l-1.2 .9-.8 .8M391 83.7l2.6-1.2 2.8-1.2 2.7-1.1M385.3 84.1l-1.2 .9M392.8 83.4l2.8-1.2 2.7-1.1 2.7-1.1M384.1 85.1l-1.1 .9M391.9 84.4l2.8-1.3 2.9-1.2 2.7-1.1 2.7-.9M393.9 84.1l2.9-1.3 2.8-1.1 2.7-1M396.1 83.8l2.8-1.2 2.8-1.1 2.6-.9M452.8 93.2l1.7 1.9M398.2 83.5l2.8-1.1 2.7-1 2.6-.7M452.2 92.7l1.7 1.8 1.7 2M397.5 84.5l2.9-1.2 2.8-1 2.6-.8 2.4-.7M451.6 92.2l1.7 1.7 1.7 1.9 1.8 2.1M399.8 84.3l2.8-1.1 2.6-.9 2.6-.7 2.3-.6M450.9 91.8l1.7 1.6 1.8 1.8 1.7 1.9 1.8 2.2M402 84.2l2.7-.9 2.6-.8 2.5-.7 2.3-.4M448.6 90.2l1.7 1.4 1.7 1.4 1.7 1.7 1.8 1.8 1.8 2M404.2 84.2l2.7-.8 2.5-.7 2.4-.5 2.2-.4 2.1-.3M447.9 90.1l1.7 1.3 1.7 1.3 1.7 1.6 1.8 1.7 1.8 1.9M406.4 84.4l2.6-.8 2.5-.5 2.3-.5 2.2-.3 2.1-.2M445.4 89l1.7 1.1 1.7 1.1 1.7 1.3 1.8 1.5 1.8 1.6 1.8 1.8M408.7 84.6l2.5-.6 2.4-.5 2.2-.3 2.2-.3 2-.1 2-.1M442.9 88.2l1.7 .9 1.7 1 1.7 1.1 1.7 1.2 1.8 1.4 1.8 1.5 1.9 1.6M410.9 85l2.4-.5 2.4-.4 2.2-.3 2.1-.2 2 0 2 0 1.9 0M435.1 86l1.7 .5 1.7 .6 1.7 .6 1.7 .8 1.8 .8 1.7 .9 1.7 1 1.8 1.2 1.8 1.2 1.8 1.4 1.9 1.6M413.1 85.5l2.4-.5 2.3-.2 2.2-.2 2.1-.1 2 0 2 0 1.8 .2 1.9 .2 1.8 .3 1.8 .4 1.7 .4M435.6 87l1.8 .5 1.7 .6 1.8 .7 1.7 .7 1.8 .9 1.8 .9 1.8 1.1 1.8 1.2 1.8 1.3 1.9 1.5M415.3 86.1l2.4-.4 2.3-.2 2.1-.1 2.1 0 2 .1 2 .1 1.9 .3 1.8 .3 1.9 .3 1.8 .5M436.1 88l1.8 .5 1.8 .7 1.8 .7 1.9 .7 1.8 .9 1.8 1 1.9 1.1 1.8 1.3M419.9 86.6l2.3-.2 2.1 0 2.1 .1 2 .1 2 .2 1.9 .4 1.9 .3 1.9 .5M436.6 89.1l1.9 .5 1.8 .7 1.9 .7 1.9 .8 1.9 .9 1.8 1.1M424.4 87.5l2.2 0 2.1 .2 2 .2 2 .3 1.9 .4 2 .5M437.1 90.2l1.9 .6 2 .6 1.9 .8M431 89l2.1 .3 2 .4 2 .5M435.1 86l.5 1 .5 1 .5 1.1 .5 1.1M436.8 86.5l.6 1 .5 1 .6 1.1 .5 1.2M438.5 87.1l.6 1 .6 1.1 .6 1.1 .7 1.1M439.6 86.7l.6 1 .7 1.1 .6 1.1 .7 1.1 .7 1.2M441.2 87.5l.7 1 .7 1 .8 1.1 .7 1.2 .7 1.2M442.9 88.2l.8 1.1 .7 1.1 .8 1.1 .8 1.2M444.6 89.1l.8 1.1 .8 1.1 .8 1.2 .8 1.3M445.4 89l.9 1.1 .8 1.1 .9 1.2 .9 1.2 .8 1.3M447.1 90.1l.9 1.1 .9 1.2 .9 1.2 .9 1.3M447.9 90.1l.9 1.1 .9 1.2 1 1.2 .9 1.3M448.6 90.2l1 1.2 .9 1.1 1 1.3 1 1.2 1 1.4M450.3 91.6l1 1.1 1 1.3 1 1.3 1.1 1.3M450.9 91.8l1.1 1.2 1 1.3 1.1 1.3 1.1 1.3M451.6 92.2l1 1.2 1.1 1.3 1.1 1.3 1.1 1.4M452.2 92.7l1.1 1.2 1.1 1.3 1.1 1.3 1.1 1.4M452.8 93.2l1.1 1.3 1.1 1.3 1.1 1.3 1.2 1.4M387.5 82.3l-1.1 .8-1.2 1-1.1 .9M388.8 81.3l-1.1 .9-1.1 .8-1.1 1-1.1 .9M389.4 81.1l-1.1 .8-1.1 .9-1 .9-1.1 .9M390.4 80.7l-1 .8-1 .8-1.1 .9-1 .9-1 .9M391.1 80.7l-1 .8-1 .8-1 .9-1 .9M392.3 80.3l-.9 .8-1 .8-.9 .9-1 .9-1 .9M393.2 80.4l-.9 .8-.9 .8-1 .9-.9 .9M394.6 80.3l-.9 .8-.9 .8-.9 .9-.9 .9M396.2 80l-.8 .8-.9 .8-.9 .9-.8 .9M398 79.7l-.8 .8-.8 .8-.8 .9-.9 .9-.8 1M399.1 80.2l-.8 .9-.7 .8-.8 .9-.7 1M401 80l-.7 .8-.7 .9-.7 .9-.7 .9M403 79.9l-.7 .8-.6 .8-.7 .9-.6 .9-.6 1M404.3 80.6l-.6 .8-.5 .9-.6 .9-.6 1M406.3 80.7l-.5 .8-.6 .8-.5 1-.5 .9M408.2 80.8l-.4 .8-.5 .9-.4 .9-.5 1M410.1 81l-.3 .8-.4 .9-.4 .9-.3 1M412.1 81.4l-.3 .8-.3 .9-.3 .9-.3 1M414 81.8l-.2 .8-.2 .9-.3 1-.2 1M416.1 81.5l-.1 .8-.2 .9-.1 .9-.2 .9-.2 1.1M418.1 82.1l-.1 .8-.1 .9-.1 1-.1 .9M420 82.8l0 .8 0 1 0 .9-.1 1.1M422 82.7l0 .9 .1 .9 0 .9 .1 1 0 1.1M424 83.6l.1 .9 .1 .9 .1 1 .1 1.1M425.9 83.6l.2 .9 .1 1 .2 1 .2 1M427.7 83.8l.2 .9 .3 .9 .2 1 .3 1.1 .2 1M429.5 84l.3 .9 .3 1 .3 .9 .3 1.1 .3 1.1M431.6 85.2l.3 1 .4 1 .4 1 .4 1.1M433.4 85.6l.4 .9 .4 1 .4 1.1 .5 1.1"/>
<path stroke="#9f0000" stroke-width="1.31" d="M395.7 76.9l-.2 .3 .5 0 1.1-.3 1.7-.5M395.4 77.1l-.7 .4-.2 .3 .5 0 1.2-.3 1.7-.6 2.1-.7M394.3 77.7l-.7 .5-.1 .3 .5 0 1.2-.3 1.8-.6 2.1-.8M394.2 77.7l-1 .6-.7 .6 0 .3 .5 0 1.3-.4 1.7-.6 2.2-.8 2.3-.8M393.1 78.4l-1 .6-.6 .6-.1 .3 .6 0 1.3-.3 1.8-.7 2.2-.8 2.3-.9 2.4-.8M392 79.1l-1 .7-.6 .5 0 .4M392.3 80.3l1.9-.7 2.2-.8 2.4-1 2.4-.8 2.4-.8M390.9 79.8l-1 .7-.5 .6M393.2 80.4l2.3-.9 2.4-1 2.5-.9 2.4-.8M389.7 80.6l-.9 .7M394.6 80.3l2.5-1.1 2.5-.9 2.5-.9 2.4-.8M396.2 80l2.6-1 2.6-1 2.4-.8 2.2-.7M398 79.7l2.6-1 2.5-.8 2.3-.8 2.2-.6M397.2 80.5l2.7-1 2.5-1 2.4-.7 2.3-.7 2.1-.5M445.8 86.2l1.5 1.4M399.1 80.2l2.6-.9 2.5-.9 2.3-.7 2.2-.5 2-.5M445.4 85.9l1.5 1.3 1.5 1.4M401 80l2.6-.9 2.4-.7 2.2-.6 2.1-.5 1.9-.3M444.9 85.6l1.5 1.2 1.5 1.4 1.6 1.5M403 79.9l2.4-.8 2.3-.7 2.2-.5 2-.4 1.9-.3M444.4 85.4l1.5 1.2 1.5 1.2 1.6 1.4 1.6 1.6 1.6 1.8M402.3 80.7l2.6-.9 2.3-.7 2.3-.5 2.1-.5 1.9-.3 1.8-.2M443.9 85.3l1.5 1.1 1.5 1.1 1.5 1.4 1.6 1.4 1.7 1.7 1.6 1.8M404.3 80.6l2.5-.7 2.3-.6 2.1-.5 2-.4 1.9-.2 1.8-.2M442 84.3l1.4 .9 1.4 1 1.5 1.1 1.6 1.2 1.6 1.4 1.6 1.6 1.7 1.7M406.3 80.7l2.3-.7 2.2-.5 2.1-.4 2-.3 1.8-.2 1.8-.1 1.6-.1M440 83.6l1.4 .7 1.4 .9 1.5 .9 1.5 1 1.5 1.2 1.6 1.3 1.6 1.4 1.7 1.7M408.2 80.8l2.3-.6 2.1-.4 2.1-.3 1.9-.2 1.8-.2 1.7-.1 1.7 0 1.5 .1M433.7 81.5l1.4 .5 1.4 .5 1.4 .6 1.4 .6 1.4 .7 1.5 .8 1.4 .9 1.6 .9 1.5 1.1 1.6 1.2 1.6 1.4 1.7 1.5M410.1 81l2.3-.4 2.1-.4 1.9-.2 1.9-.2 1.8-.1 1.7 0 1.7 0 1.5 .1 1.6 .2 1.4 .2 1.5 .3 1.4 .3M432.8 81.8l1.4 .4 1.5 .5 1.4 .5 1.4 .6 1.5 .7 1.5 .8 1.5 .8 1.5 .9 1.5 1 1.6 1.2 1.7 1.2 1.6 1.4M412.1 81.4l2.1-.4 2.1-.3 1.9-.2 1.9-.1 1.8 0 1.7 0 1.6 .1 1.6 .2 1.5 .2 1.5 .2 1.5 .4 1.5 .3M433.2 82.6l1.5 .4 1.5 .5 1.5 .6 1.5 .6 1.5 .7 1.5 .8 1.6 .8 1.6 1 1.6 1 1.6 1.2M416.1 81.5l2-.2 2-.1 1.8-.1 1.8 0 1.7 .1 1.6 .2 1.6 .2 1.6 .3 1.5 .3 1.5 .4M433.7 83.4l1.5 .4 1.6 .5 1.5 .6 1.6 .7 1.5 .7 1.6 .8 1.6 .9 1.6 1 1.7 1.1M418.1 82.1l1.9-.2 1.9 0 1.9 0 1.7 .1 1.7 .1 1.7 .3 1.6 .2 1.6 .4 1.6 .4M434.1 84.2l1.7 .5 1.6 .5 1.6 .6 1.6 .7 1.6 .7 1.6 .9 1.6 .9M422 82.7l1.9 0 1.8 .1 1.8 .2 1.7 .2 1.7 .3 1.6 .3 1.6 .4M434.6 85.1l1.7 .5 1.6 .5 1.7 .6 1.6 .8 1.7 .7M425.9 83.6l1.8 .2 1.8 .2 1.7 .3 1.7 .4 1.7 .4M432.3 81.1l.5 .7 .4 .8 .5 .8 .4 .8 .5 .9 .5 .9M433.7 81.5l.5 .7 .5 .8 .5 .8 .6 .9 .5 .9 .5 .9M435.1 82l.6 .7 .5 .8 .6 .8 .6 .9 .5 .9 .6 1M436.5 82.5l.6 .7 .6 .9 .6 .8 .7 .9 .6 .9M437.9 83.1l.6 .7 .7 .9 .7 .9 .7 .9 .6 1M438.6 82.9l.7 .8 .7 .8 .7 .9 .7 .9 .8 .9 .7 1M440 83.6l.7 .8 .8 .9 .7 .9 .8 .9 .8 1 .8 1M440.6 83.5l.8 .8 .8 .9 .8 .9 .8 .9 .8 1 .8 1M442 84.3l.8 .9 .8 .9 .9 .9 .9 1 .8 1 .9 1.1M442.5 84.4l.9 .8 .9 .9 .9 .9 .8 1 1 1 .9 1.1M443.9 85.3l.9 .9 1 .9 .9 1 .9 1.1 1 1M444.4 85.4l1 1 .9 .9 1 1 1 1 1 1.1 1 1.2M444.9 85.6l1 1 1 .9 1 1 1 1.1 1 1.1 1 1.1M445.4 85.9l1 .9 1 1 1 1.1 1.1 1 1 1.1 1.1 1.2M445.8 86.2l1.1 1 1 1 1.1 1 1 1.1 1.1 1.2 1.1 1.2M449.5 89.7l1.1 1.1 1.1 1.2 1.1 1.2M395.4 77.1l-1.1 .6-1.1 .6-1.1 .7-1.1 .8-1.1 .7-1.1 .8M395.7 76.9l-1 .6-1.1 .7-1.1 .7-1 .7-1.1 .7-1 .8M395.5 77.2l-1 .6-1 .7-1 .7-1.1 .7-1 .8M397 76.6l-1 .6-1 .6-1 .7-1 .7-1 .7-.9 .8M397.1 76.9l-.9 .6-1 .7-.9 .6-1 .8-1 .7M398.8 76.4l-.9 .5-.9 .7-1 .6-.9 .7-.9 .7-1 .8M400 76.2l-.9 .6-.9 .6-.9 .7-.9 .7-.9 .7-.9 .8M400.5 76.6l-.9 .6-.8 .6-.9 .7-.8 .7-.9 .8M402 76.4l-.8 .6-.8 .6-.8 .7-.8 .7-.8 .7M402.8 76.8l-.7 .6-.7 .6-.8 .7-.7 .8-.8 .7M404.5 76.6l-.7 .6-.7 .7-.7 .6-.7 .8-.7 .7M406 76.5l-.6 .6-.6 .7-.6 .6-.6 .7-.6 .8M407.6 76.5l-.5 .6-.6 .6-.5 .7-.6 .7-.5 .7-.6 .8M409.2 76.6l-.5 .6-.5 .6-.5 .6-.5 .7-.4 .8-.5 .8M410.7 76.7l-.4 .6-.4 .6-.4 .7-.4 .7-.5 .7-.4 .8M412.2 77l-.3 .5-.3 .6-.4 .7-.4 .7-.3 .7-.4 .8M413.8 77.2l-.3 .6-.3 .6-.3 .7-.3 .7-.2 .8-.3 .8M415.3 77.6l-.2 .6-.2 .6-.2 .7-.2 .7-.3 .8-.2 .8M416.9 78l-.2 .6-.1 .7-.2 .7-.1 .7-.2 .8M418.6 77.9l-.1 .6-.1 .6-.1 .7-.1 .7-.1 .8 0 .8M420.1 78.4l0 .6 0 .7 0 .7 0 .8-.1 .7 0 .9M421.7 78.4l.1 .6 0 .7 .1 .7 0 .7 0 .8 .1 .8M423.3 79.1l.2 .6 .1 .7 .1 .7 .1 .8 .1 .8 .1 .9M424.9 79.2l.1 .6 .2 .7 .2 .7 .1 .8 .2 .8 .2 .8M426.6 80l.2 .7 .2 .7 .2 .7 .3 .9 .2 .8M428 80.2l.3 .7 .3 .7 .3 .8 .3 .8 .3 .8M429.5 80.5l.3 .6 .4 .8 .3 .7 .4 .9 .3 .8 .4 .9M430.9 80.8l.4 .7 .4 .7 .4 .8 .4 .8 .4 .9 .5 .9"/>
<path stroke="#8f0000" stroke-width="1.31" d="M403.1 73.7l-.5 .2 .3 0 .9-.2 1.5-.4M402 74.1l-.4 .2 .3 0 .9-.3 1.5-.3 1.8-.5M401.8 74.2l-.8 .3-.4 .2 .3 0 1-.3 1.5-.4 1.9-.5M400.8 74.6l-.9 .3-.3 .2 .3 0 1-.2 1.6-.5 1.9-.5 1.9-.5M399.7 75l-.8 .3-.3 .3 .3 0 1.1-.3 1.6-.5 1.9-.5 2-.5 2-.5M398.6 75.5l-.8 .3-.2 .3 .4 0 1-.3 1.7-.5 1.9-.6 2.1-.6 2-.5 1.9-.4M397.5 76l-.7 .4-.2 .2 .4 0 1.1-.3 1.6-.5 2-.6 2.2-.6 2-.6 2-.5M397.5 76l-1 .5-.8 .4M398.8 76.4l2.1-.7 2.1-.7 2.2-.6 2-.5 1.8-.4M396.4 76.5l-1 .6M400 76.2l2.2-.7 2.2-.7 2.1-.5 1.9-.5 1.8-.3M395.3 77.1l-1 .6M399.1 76.8l2.2-.8 2.3-.7 2.1-.6 2.1-.5 1.8-.4 1.7-.2M400.5 76.6l2.3-.8 2.2-.6 2.1-.6 1.9-.4 1.8-.3 1.5-.3M402 76.4l2.3-.8 2.2-.5 1.9-.5 1.9-.4 1.6-.2 1.5-.2M438.7 80.5l1.2 .8M403.6 76.2l2.2-.7 2-.5 1.9-.4 1.8-.3 1.6-.2 1.4-.1M437.4 79.6l1.1 .7 1.1 .8 1.2 1M402.8 76.8l2.3-.7 2.2-.6 1.9-.5 1.8-.3 1.7-.2 1.5-.2 1.4-.1 1.3-.1M437.1 79.6l1.1 .6 1.2 .8 1.2 .8 1.2 1M404.5 76.6l2.2-.6 2-.5 1.9-.4 1.7-.3 1.6-.2 1.5-.1 1.3-.1 1.3 0M435.8 78.9l1 .6 1.1 .6 1.2 .8 1.1 .8 1.3 .9 1.3 1M406 76.5l2.2-.5 1.9-.4 1.8-.3 1.7-.3 1.5-.1 1.4-.1 1.4-.1 1.2 0 1.2 .1M433.4 78l1 .5 1.1 .4 1 .6 1.1 .6 1.1 .7 1.2 .7 1.3 .9 1.2 .9 1.4 1.1 1.4 1.3M407.6 76.5l2-.4 1.9-.4 1.7-.2 1.6-.2 1.5-.1 1.4-.1 1.3 0 1.3 0 1.2 .1 1.1 .1 1.1 .1M429 76.8l1 .2 1 .4 1 .3 1 .4 1.1 .4 1 .5 1.1 .5 1.1 .6 1.1 .6 1.2 .7 1.2 .8 1.3 .9 1.3 1.1 1.4 1.1 1.5 1.3M409.2 76.6l1.9-.4 1.8-.3 1.7-.2 1.5-.1 1.5-.1 1.4 0 1.3 0 1.2 0 1.2 .1 1.1 .1 1.1 .2 1.1 .2 1 .2 1 .2 1 .3M429.4 77.2l1.1 .3 1 .3 1 .4 1.1 .4 1.1 .4 1.1 .5 1.1 .6 1.1 .6 1.2 .7 1.2 .7 1.3 .9 1.3 .9 1.4 1.1 1.4 1.2M410.7 76.7l1.9-.3 1.7-.2 1.6-.2 1.6-.1 1.4 0 1.3 0 1.3 0 1.3 .1 1.1 .1 1.2 .2 1.1 .2 1.1 .2 1.1 .2 1 .3M429.8 77.6l1.1 .4 1.1 .3 1.1 .4 1.1 .4 1.1 .5 1.1 .5 1.2 .6 1.2 .6 1.2 .8 1.3 .8 1.3 .9 1.4 1 1.4 1.1M412.2 77l1.8-.3 1.7-.2 1.6-.1 1.5-.1 1.4 0 1.4 .1 1.3 0 1.2 .2 1.2 .1 1.2 .2 1.1 .2 1.1 .3 1.1 .2M430.2 78.1l1.2 .4 1.1 .3 1.1 .4 1.2 .5 1.1 .5 1.2 .5 1.2 .6 1.3 .7 1.2 .8 1.4 .8 1.3 1 1.4 1M413.8 77.2l1.7-.2 1.7-.1 1.5-.1 1.5 0 1.4 0 1.3 .1 1.3 .1 1.3 .2 1.2 .2 1.2 .2 1.2 .2 1.1 .3M430.6 78.7l1.2 .3 1.2 .4 1.2 .4 1.2 .5 1.2 .5 1.2 .6 1.3 .6 1.3 .7 1.3 .8 1.3 .9 1.4 1M415.3 77.6l1.7-.2 1.6-.1 1.6 0 1.4 0 1.4 .1 1.4 .1 1.3 .2 1.3 .2 1.2 .2 1.2 .3 1.2 .3M431 79.2l1.3 .4 1.2 .4 1.3 .4 1.2 .5 1.3 .6 1.2 .6 1.3 .7 1.4 .7 1.3 .9 1.4 .9M416.9 78l1.7-.1 1.6-.1 1.5 .1 1.4 0 1.4 .1 1.4 .2 1.3 .2 1.3 .2 1.3 .3 1.2 .3M431.5 79.8l1.3 .4 1.2 .4 1.3 .5 1.3 .5 1.3 .6 1.4 .6 1.3 .7 1.4 .8M420.1 78.4l1.6 0 1.5 .1 1.5 .1 1.4 .2 1.4 .2 1.3 .2 1.4 .3 1.3 .3M431.9 80.4l1.3 .4 1.4 .5 1.3 .5 1.4 .5 1.3 .6 1.4 .7M423.3 79.1l1.6 .1 1.4 .2 1.5 .2 1.4 .2 1.3 .3 1.4 .3M432.3 81.1l1.4 .4M430.9 80.8l1.4 .3M429 76.8l.4 .4 .4 .4 .4 .5 .4 .6 .4 .5 .5 .6 .4 .6 .4 .7M430 77l.5 .5 .4 .5 .5 .5 .4 .5 .5 .6 .5 .6 .4 .6 .5 .7M431 77.4l.5 .4 .5 .5 .5 .5 .5 .6 .5 .6 .5 .6 .6 .7 .5 .7M431.5 77.3l.5 .4 .5 .5 .6 .5 .5 .5 .6 .6 .6 .6 .5 .7 .6 .7 .6 .7M432.5 77.6l.5 .5 .6 .5 .6 .5 .6 .6 .6 .6 .6 .6 .6 .7 .7 .7 .6 .8M433.4 78l.7 .5 .6 .5 .6 .6 .6 .6 .7 .6 .7 .7 .6 .7 .7 .7M434.4 78.5l.7 .5 .7 .5 .6 .6 .7 .6 .7 .7 .7 .7 .8 .7 .7 .8M434.8 78.4l.7 .5 .7 .6 .7 .6 .7 .6 .7 .6 .8 .7 .7 .8 .8 .7M435.8 78.9l.7 .6 .8 .6 .7 .6 .8 .6 .8 .7 .8 .7 .8 .8 .8 .8M436.1 79l.7 .5 .8 .6 .8 .6 .8 .7 .8 .7 .8 .7 .9 .7 .8 .9M437.1 79.6l.8 .5 .8 .7 .9 .6 .8 .7 .9 .8 .9 .7 .8 .8 .9 .9M437.4 79.6l.8 .6 .9 .7 .8 .6 .9 .7 .9 .8 .9 .8 .9 .8 .9 .8M437.6 79.7l.9 .6 .9 .7 .8 .7 1 .7 .9 .7 .9 .8 1 .9 .9 .8M438.7 80.5l.9 .6 1 .7 .9 .8 .9 .7 1 .9 1 .8 1 .9M442.8 83.6l1 .8 1 .9 1 .9M397.5 76l-1 .5-1.1 .6M402 74.1l-1 .4-1.1 .4-1 .4-1.1 .5-1 .6-1.1 .5M403.6 73.6l-1 .3-1 .4-1 .4-1 .4-1 .5-1 .5-1 .5-1.1 .6M403.8 73.5l-.9 .4-1 .4-1 .4-1 .4-1 .5-.9 .5-1 .5M404.7 73.4l-.9 .3-1 .3-.9 .4-1 .5-.9 .4-1 .5-.9 .5-1 .6M405.3 73.3l-1 .4-.9 .3-.9 .4-.9 .4-.9 .5-1 .5-.9 .6M406.1 73.2l-.8 .3-.9 .4-.9 .4-.9 .4-.9 .5-.8 .5-.9 .5M406.3 73.4l-.8 .4-.8 .3-.8 .5-.9 .4-.8 .5-.9 .5-.8 .6M407.5 73.3l-.8 .3-.8 .4-.7 .4-.8 .4-.8 .5-.8 .5-.8 .6M408.6 73.2l-.7 .3-.7 .4-.7 .4-.8 .4-.7 .5-.7 .4-.7 .6-.8 .6M409 73.5l-.6 .3-.6 .4-.7 .4-.6 .5-.7 .4-.7 .6-.6 .5M410.2 73.5l-.6 .3-.6 .4-.6 .4-.6 .4-.5 .5-.6 .5-.7 .5M411.3 73.6l-.5 .3-.5 .3-.6 .4-.5 .4-.5 .5-.5 .5-.6 .5M412.3 73.6l-.4 .4-.4 .3-.5 .4-.4 .4-.5 .5-.5 .5-.4 .5M413.4 73.8l-.3 .3-.4 .4-.4 .3-.4 .5-.4 .4-.4 .5-.4 .5M414.5 74l-.3 .3-.3 .3-.3 .4-.4 .5-.3 .4-.3 .5-.4 .6M415.8 73.9l-.2 .3-.2 .3-.3 .4-.3 .4-.2 .4-.3 .5-.3 .5-.2 .5M416.9 74.1l-.2 .3-.2 .4-.2 .4-.2 .4-.2 .4-.2 .5-.2 .5-.2 .6M418 74.4l-.1 .3-.2 .4-.1 .4-.1 .4-.2 .5-.1 .5-.2 .5-.1 .6M419.2 74.4l-.1 .3-.1 .4 0 .4-.1 .4-.1 .4-.1 .5-.1 .5 0 .6M420.3 74.8l0 .3 0 .4-.1 .4 0 .4 0 .5 0 .5 0 .5-.1 .6M421.4 74.8l.1 .4 0 .3 0 .4 .1 .5 0 .4 0 .5 .1 .6 0 .5M422.6 75.3l.1 .3 .1 .4 .1 .4 0 .5 .1 .5 .1 .5 .1 .6 .1 .6M423.7 75.4l.1 .3 .1 .4 .2 .5 .1 .4 .2 .5 .1 .5 .2 .6 .2 .6M424.7 75.5l.2 .4 .2 .4 .2 .4 .2 .5 .2 .5 .2 .5 .2 .6 .2 .6 .3 .6M425.7 75.7l.3 .4 .2 .4 .3 .4 .2 .5 .3 .5 .2 .5 .3 .6 .3 .6 .2 .6M427 76.3l.3 .4 .3 .4 .3 .5 .3 .5 .3 .5 .3 .6 .4 .6 .3 .7M428 76.5l.4 .4 .3 .5 .4 .4 .3 .6 .4 .5 .4 .6 .3 .6 .4 .7"/>
<path stroke="#800000" stroke-width="1.30" d="M408.7 72.4l.7-.1 1.3-.2 1.4-.1 1.4-.1 1.2 0M407.7 72.6l0-.1 .8-.1 1.3-.2 1.5-.1 1.4-.1 1.3-.1 1.1 0 .9 .1M406.7 72.8l0-.1 .8-.1 1.4-.2 1.5-.2 1.6-.2 1.3-.1 1.2 0 1 0 .8 .1 .7 0 .7 .1M405.7 73l.1 0 .8-.2 1.4-.2 1.6-.3 1.6-.2 1.4-.1 1.3 0 1-.1 1 .1 .8 0 .6 .1 .7 0 .5 .1 .5 0M405.2 73.1l-.6 .2 .2-.1 .9-.1 1.4-.3 1.6-.3 1.7-.2 1.5-.2 1.3-.1 1.2 0 1 0 .9 0 .7 0 .7 .1 .6 .1 .5 0 .5 .1 .4 0 .5 .1 .3 .1M404.1 73.4l-.5 .2 .2-.1 .9-.1 1.5-.4 1.7-.3 1.7-.3 1.6-.2 1.4-.1 1.2-.1 1.1 0 1 0 .8 0 .7 .1 .7 0 .5 .1 .6 .1 .5 0 .4 .1 .4 .1 .4 0 .4 .1 .4 .1M405.3 73.3l1.7-.4 1.8-.3 1.7-.2 1.5-.2 1.3-.1 1.1 0 1 0 .9 0 .8 0 .7 .1 .7 0 .5 .1 .6 0 .5 .1 .4 .1 .4 .1 .5 0 .3 .1 .4 .1 .4 .1 .3 .1 .4 .1M423.8 73.2l.4 .1 .4 .1M406.1 73.2l1.9-.4 1.7-.2 1.6-.3 1.4-.1 1.2-.1 1.1 0 1 0 .8 0 .8 .1 .7 0 .6 .1 .6 .1 .5 0 .5 .1 .5 .1 .4 .1 .4 .1 .5 0 .4 .1 .3 .1 .4 .1 .4 .1M424.1 73.3l.4 .1 .4 .1 .4 .2 .4 .1M405.3 73.5l1.9-.4 1.8-.3 1.6-.3 1.5-.1 1.3-.1 1.2-.1 1 0 .9 0 .8 0 .8 .1 .6 0 .7 .1 .5 .1 .6 0 .5 .1 .5 .1 .4 .1 .5 .1 .4 .1 .4 .1 .5 .1 .4 .1M424.3 73.4l.5 .1 .4 .1 .5 .2 .4 .1 .5 .2 .5 .2M406.3 73.4l1.9-.4 1.8-.3 1.5-.2 1.4-.1 1.2-.1 1.1 0 1 0 .9 0 .8 0 .7 .1 .7 .1 .6 0 .6 .1 .5 .1 .5 .1 .5 .1 .5 .1 .5 .1 .5 .1 .4 .1 .4 .1M424.6 73.5l.5 .1 .5 .2 .5 .1 .5 .2 .5 .2 .5 .1 .5 .3 .6 .2M407.5 73.3l1.8-.3 1.6-.3 1.5-.2 1.3-.1 1.1 0 1.1 0 .9 0 .9 0 .7 .1 .8 0 .6 .1 .7 .1 .6 .1 .5 0 .6 .1 .5 .1 .5 .1 .5 .2 .4 .1 .5 .1M424.9 73.6l.5 .2 .5 .1 .6 .2 .5 .2 .5 .1 .6 .3 .5 .2 .6 .2 .6 .3M408.6 73.2l1.7-.3 1.5-.2 1.4-.1 1.2-.1 1.1 0 1 0 1 0 .8 .1 .8 0 .7 .1 .6 .1 .7 0 .6 .1 .6 .1 .5 .1 .6 .2 .5 .1 .5 .1 .5 .1M425.2 73.8l.6 .1 .5 .2 .6 .2 .5 .2 .6 .2 .6 .2 .6 .2 .6 .3 .7 .3 .7 .3M407.9 73.5l1.8-.3 1.6-.2 1.4-.2 1.3-.1 1.2-.1 1.1 0 .9 0 .9 .1 .8 0 .8 .1 .7 .1 .7 0 .7 .1 .6 .1 .6 .2 .5 .1 .6 .1 .6 .1 .5 .2M425.5 73.9l.6 .2 .6 .2 .6 .2 .6 .2 .6 .2 .6 .2 .7 .3 .6 .3 .7 .3 .8 .4 .7 .4M409 73.5l1.7-.3 1.5-.2 1.4-.1 1.3-.1 1.1 0 1 0 1 0 .8 0 .9 .1 .7 .1 .7 .1 .7 .1 .7 .1 .6 .1 .6 .1 .6 .1 .6 .2 .6 .1M425.8 74.1l.7 .2 .6 .2 .6 .2 .6 .2 .7 .2 .7 .3 .6 .3 .8 .3 .7 .3 .8 .4 .8 .5 .9 .5M410.2 73.5l1.6-.2 1.4-.2 1.3-.1 1.2 0 1.1-.1 1 .1 .9 0 .9 0 .8 .1 .8 .1 .7 .1 .7 .1 .7 .1 .6 .2 .7 .1 .6 .2 .6 .1M426.2 74.3l.6 .2 .7 .2 .6 .2 .7 .2 .7 .3 .7 .3 .7 .3 .8 .3 .8 .4 .8 .4 .9 .5 .9 .5M411.3 73.6l1.5-.2 1.4-.2 1.2 0 1.2-.1 1 0 1 .1 .9 0 .9 .1 .8 .1 .8 .1 .7 .1 .7 .1 .7 .1 .7 .2 .7 .1 .7 .2M426.5 74.5l.7 .2 .7 .2 .7 .3 .7 .2 .7 .3 .8 .3 .7 .3 .8 .4 .9 .4 .8 .4 .9 .6 1 .5 1 .7M412.3 73.6l1.5-.1 1.3-.1 1.2-.1 1.1 0 1.1 .1 1 0 .9 .1 .8 0 .9 .1 .8 .2 .7 .1 .8 .1 .7 .2 .7 .2 .7 .1M426.8 74.8l.8 .2 .7 .2 .8 .3 .7 .2 .8 .3 .8 .3 .8 .4 .8 .4 .9 .4 .9 .5 .9 .6 1 .6 1.1 .7M413.4 73.8l1.4-.1 1.3-.1 1.2 0 1.1 0 1 0 1 .1 .9 .1 .8 .1 .9 .1 .8 .1 .8 .1 .7 .2 .8 .2 .7 .2M427.2 75l.8 .3 .7 .2 .8 .3 .8 .3 .8 .3 .9 .3 .8 .4 .9 .4 .9 .5 .9 .5 1 .6 1.1 .6 1.1 .8M414.5 74l1.3-.1 1.3-.1 1.1 0 1.1 0 1 .1 1 .1 .9 .1 .9 .1 .9 .1 .8 .2 .8 .2 .8 .1 .8 .2M427.5 75.3l.9 .3 .8 .2 .8 .3 .8 .3 .9 .3 .9 .4 .9 .4 .9 .5 .9 .5 1 .5 1.1 .6M416.9 74.1l1.2 0 1.2 0 1 .1 1 0 1 .1 .9 .2 .9 .1 .9 .1 .9 .2 .8 .2 .8 .2M427.9 75.6l.9 .3 .8 .3 .9 .3 .9 .3 .9 .3 .9 .4 .9 .5 1 .4 1 .6 1 .6M418 74.4l1.2 0 1.1 0 1.1 .1 1 .1 1 .1 .9 .2 .9 .1 .9 .2 .9 .2 .9 .2M428.3 76l.9 .2 .9 .3 .9 .3 .9 .4 1 .4 .9 .4 1 .4 1 .5M420.3 74.8l1.1 0 1.1 .1 1 .1 1 .2 1 .2 .9 .1 .9 .3 1 .2M428.6 76.4l1 .2 .9 .3 1 .4 1 .3 .9 .4M423.7 75.4l1 .1 1 .2 1 .2 1 .2 .9 .3M423.5 73.1l.3 .1 .3 .1 .2 .1 .3 .1 .3 .1 .3 .2 .3 .1 .3 .2 .4 .2 .3 .2 .3 .3 .4 .2 .3 .3 .4 .3 .4 .4 .3 .4 .4 .4M423.9 73.2l.3 .1 .3 .1 .3 .1 .3 .1 .3 .2 .4 .1 .3 .2 .4 .2 .3 .2 .4 .2 .4 .3 .4 .3 .4 .3 .4 .3 .4 .3 .4 .4 .4 .4M424.6 73.4l.3 .1 .3 .1 .4 .2 .3 .1 .4 .2 .4 .2 .4 .2 .4 .2 .4 .2 .4 .3 .4 .3 .5 .3 .4 .4 .5 .3 .4 .4 .5 .5M424.9 73.5l.4 .2 .4 .1 .4 .1 .4 .2 .4 .2 .4 .2 .4 .2 .4 .2 .5 .3 .5 .3 .4 .3 .5 .3 .5 .4 .5 .3 .5 .5M425.7 73.8l.4 .1 .5 .2 .4 .2 .4 .2 .5 .2 .4 .2 .5 .2 .5 .3 .5 .3 .5 .4 .5 .3 .6 .4 .5 .4 .6 .4M426.2 73.9l.4 .2 .5 .2 .4 .1 .5 .3 .5 .2 .5 .2 .5 .3 .5 .3 .6 .3 .5 .4 .6 .3 .6 .4 .6 .5 .5 .4M427.1 74.3l.5 .1 .5 .3 .5 .2 .5 .2 .6 .3 .5 .3 .6 .3 .6 .3 .6 .4 .6 .4 .6 .4 .6 .5 .6 .5M427.6 74.5l.5 .2 .5 .2 .6 .2 .6 .3 .5 .3 .6 .3 .6 .3 .7 .4 .6 .4 .7 .4 .6 .5 .7 .4M428.7 74.9l.5 .2 .6 .3 .6 .3 .7 .3 .6 .3 .6 .4 .7 .4 .7 .4 .7 .5 .7 .4 .7 .5M429.8 75.4l.7 .3 .6 .3 .7 .3 .7 .4 .7 .4 .7 .4 .7 .5 .7 .5 .8 .5M431.2 76l.7 .4 .7 .3 .7 .4 .7 .4 .8 .5 .7 .5 .8 .5 .8 .6M432.6 76.8l.8 .4 .8 .4 .7 .5 .8 .5 .8 .5 .9 .5M435.1 78.1l.8 .5 .8 .6 .9 .5M437.8 79.9l.9 .6M405.7 73l-1.1 .3-1 .3M408.7 72.4l-1 .1-1 .2-.9 .3-1 .2-1 .3M410.3 72.1l-.9 .2-.9 .1-1 .2-.9 .2-.9 .3-1 .3M411.6 72l-.9 .1-.9 .1-.9 .2-.9 .2-.9 .2-.9 .2-.9 .3M413 71.9l-.9 .1-.8 .1-.9 .1-.8 .1-.9 .2-.8 .2-.9 .2-.9 .3M414.2 71.9l-.7 0-.8 .1-.7 0-.8 .1-.8 .2-.8 .1-.8 .2-.8 .2-.8 .3-.9 .3M414.7 71.9l-.7 0-.7 0-.7 .1-.7 .1-.7 .1-.7 .2-.8 .2-.7 .2-.8 .2-.7 .3M415.6 71.9l-.5 0-.6 0-.6 .1-.7 0-.6 .1-.6 .1-.7 .1-.7 .2-.6 .2-.7 .3-.7 .2M416 72l-.5-.1-.6 0-.5 .1-.6 0-.5 .1-.6 .1-.6 .2-.6 .1-.6 .2-.6 .2-.6 .3-.7 .3M416.7 72l-.4 0-.4 0-.5 0-.5 0-.5 .1-.5 0-.5 .2-.5 .1-.5 .1-.6 .2-.5 .3-.6 .2-.5 .3M417.4 72.1l-.4-.1-.3 0-.4 0-.4 0-.5 .1-.4 0-.4 .1-.5 .1-.4 .1-.5 .2-.5 .2-.5 .2-.4 .3-.5 .3M417.7 72.1l-.4 0-.3-.1-.3 0-.4 .1-.3 0-.4 .1-.4 .1-.4 .1-.4 .1-.4 .2-.4 .2-.4 .2-.4 .3-.5 .2M418.2 72.1l-.2 0-.3 0-.3 0-.3 0-.3 0-.3 .1-.3 .1-.3 .1-.4 .1-.3 .1-.3 .2-.4 .2-.3 .2-.4 .3-.4 .3M418.7 72.2l-.2 0-.2 0-.2-.1-.3 .1-.2 0-.3 0-.2 .1-.3 .1-.3 .1-.2 .1-.3 .2-.3 .2-.3 .2-.3 .2-.3 .3-.3 .3M419 72.2l-.2 0-.2 0-.1 0-.2 0-.2 .1-.2 0-.2 .1-.2 .1-.3 .1-.2 .2-.2 .1-.2 .2-.3 .2-.2 .3-.3 .3M419.4 72.3l-.1 0-.1 0-.2 0-.1 0-.2 0-.1 .1-.2 .1-.1 .1-.2 .1-.1 .1-.2 .2-.2 .1-.2 .2-.1 .3-.2 .2-.2 .3M419.8 72.4l-.1-.1 0 0-.1 0-.1 .1-.1 0-.1 .1-.1 0-.1 .1-.2 .1-.1 .1-.1 .2-.1 .2-.1 .2-.1 .2-.2 .2-.1 .3-.1 .3M420.2 72.4l0 0-.1 0 0 0-.1 0-.1 .1 0 0-.1 .1 0 .1-.1 .1 0 .1-.1 .1-.1 .2 0 .2-.1 .2-.1 .2 0 .3-.1 .3M420.5 72.5l0 0 0 0 0 0 0 0 0 .1 0 .1-.1 .1 0 .1 0 .1 0 .1 0 .2 0 .2 0 .2-.1 .2 0 .3 0 .2 0 .4M420.9 72.5l0 0 0 .1 .1 0 0 0 0 .1 .1 .1 0 0 0 .1 0 .2 .1 .1 0 .2 0 .1 .1 .3 0 .2 0 .2 .1 .3 0 .3M421.2 72.6l.1 0 .1 0 0 .1 .1 0 0 .1 .1 0 .1 .1 .1 .1 0 .2 .1 .1 .1 .2 .1 .1 0 .3 .1 .2 .1 .2 .1 .3 .1 .3 .1 .4M421.7 72.7l0 0 .1 .1 .1 0 .1 .1 .2 0 .1 .1 .1 .1 .1 .2 .1 .1 .1 .2 .2 .2 .1 .2 .1 .2 .1 .3 .2 .2 .1 .3 .2 .4M422 72.8l.1 0 .2 0 .1 .1 .1 .1 .2 0 .1 .1 .2 .2 .1 .1 .2 .1 .1 .2 .2 .2 .2 .2 .2 .2 .1 .3 .2 .3 .2 .3 .2 .3M422.3 72.8l.2 .1 .2 0 .1 .1 .2 .1 .2 0 .2 .2 .1 .1 .2 .1 .2 .2 .2 .1 .3 .2 .2 .2 .2 .3 .2 .2 .2 .3 .3 .4 .2 .3M422.7 72.9l.1 .1 .2 0 .2 .1 .3 .1 .2 .1 .2 .1 .2 .1 .2 .1 .3 .2 .2 .2 .3 .2 .2 .2 .3 .3 .3 .2 .2 .3 .3 .3 .3 .4 .3 .4M423.2 73.1l.2 0 .3 .1 .2 .1 .2 .1 .3 .1 .3 .1 .2 .2 .3 .2 .3 .1 .3 .3 .3 .2 .3 .2 .3 .3 .3 .3 .3 .4 .4 .3 .3 .4"/>
</g>
<g fill="none" stroke-width="1.8">
<polygon stroke="#eb3c19" points="449.2,433.2 451.2,433.8 453.2,434.3 455.1,434.9 457.0,435.5 458.9,436.0 460.7,436.6 462.5,437.2 464.2,437.8 465.9,438.4 467.5,438.9 469.0,439.5 470.5,440.1 471.9,440.7 473.3,441.2 474.6,441.8 475.8,442.4 477.0,442.9 478.1,443.5 479.1,444.0 480.1,444.6 481.0,445.1 481.8,445.7 482.5,446.2 483.2,446.7 483.8,447.2 484.3,447.7 484.7,448.1 485.1,448.6 485.4,449.1 485.6,449.5 485.7,449.9 485.7,450.3 485.7,450.7 485.6,451.1 485.4,451.5 485.1,451.8 484.7,452.2 484.3,452.5 483.8,452.8 483.2,453.1 482.5,453.4 481.8,453.6 481.0,453.8 480.1,454.0 479.1,454.2 478.1,454.4 477.0,454.6 475.8,454.7 474.6,454.8 473.3,454.9 471.9,455.0 470.5,455.0 469.0,455.1 467.4,455.1 465.8,455.1 464.2,455.0 462.5,455.0 460.7,454.9 458.9,454.8 457.0,454.7 455.1,454.6 453.2,454.5 451.2,454.3 449.2,454.1 447.1,453.9 445.0,453.7 442.9,453.4 440.7,453.2 438.6,452.9 436.4,452.6 434.2,452.3 431.9,452.0 429.7,451.6 427.4,451.3 425.2,450.9 422.9,450.5 420.6,450.1 418.4,449.7 416.1,449.2 413.8,448.8 411.6,448.3 409.3,447.8 407.1,447.3 404.9,446.9 402.7,446.3 400.5,445.8 398.4,445.3 396.3,444.8 394.2,444.2 392.1,443.7 390.1,443.1 388.1,442.6 386.2,442.0 384.3,441.4 382.4,440.9 380.6,440.3 378.8,439.7 377.1,439.1 375.4,438.5 373.8,438.0 372.3,437.4 370.8,436.8 369.4,436.2 368.0,435.7 366.7,435.1 365.5,434.5 364.3,434.0 363.2,433.4 362.2,432.9 361.2,432.3 360.3,431.8 359.5,431.2 358.8,430.7 358.1,430.2 357.5,429.7 357.0,429.2 356.6,428.8 356.2,428.3 355.9,427.8 355.7,427.4 355.6,427.0 355.6,426.6 355.6,426.2 355.7,425.8 355.9,425.4 356.2,425.1 356.6,424.7 357.0,424.4 357.5,424.1 358.1,423.8 358.8,423.5 359.5,423.3 360.3,423.1 361.2,422.9 362.2,422.7 363.2,422.5 364.3,422.3 365.5,422.2 366.7,422.1 368.0,422.0 369.4,421.9 370.8,421.9 372.3,421.8 373.9,421.8 375.5,421.8 377.1,421.9 378.8,421.9 380.6,422.0 382.4,422.1 384.3,422.2 386.2,422.3 388.1,422.4 390.1,422.6 392.1,422.8 394.2,423.0 396.3,423.2 398.4,423.5 400.6,423.7 402.7,424.0 404.9,424.3 407.1,424.6 409.4,424.9 411.6,425.3 413.9,425.6 416.1,426.0 418.4,426.4 420.7,426.8 422.9,427.2 425.2,427.7 427.5,428.1 429.7,428.6 432.0,429.1 434.2,429.6 436.4,430.0 438.6,430.6 440.8,431.1 442.9,431.6 445.0,432.1 447.1,432.7"/>
<polygon stroke="#fade28" points="461.0,431.1 463.9,431.8 466.7,432.6 469.4,433.4 472.1,434.2 474.7,435.0 477.3,435.9 479.8,436.7 482.2,437.5 484.6,438.3 486.9,439.1 489.0,440.0 491.1,440.8 493.2,441.6 495.1,442.4 496.9,443.2 498.7,444.0 500.3,444.8 501.9,445.6 503.4,446.4 504.7,447.1 506.0,447.9 507.1,448.6 508.2,449.4 509.1,450.1 509.9,450.8 510.7,451.5 511.3,452.2 511.8,452.8 512.2,453.5 512.4,454.1 512.6,454.7 512.7,455.3 512.6,455.8 512.4,456.4 512.2,456.9 511.8,457.4 511.3,457.9 510.6,458.3 509.9,458.7 509.1,459.2 508.2,459.5 507.1,459.9 506.0,460.2 504.7,460.5 503.3,460.8 501.9,461.0 500.3,461.2 498.7,461.4 496.9,461.6 495.1,461.7 493.1,461.8 491.1,461.9 489.0,462.0 486.8,462.0 484.6,462.0 482.2,461.9 479.8,461.9 477.3,461.8 474.7,461.6 472.1,461.5 469.4,461.3 466.6,461.1 463.8,460.9 461.0,460.6 458.1,460.3 455.1,460.0 452.1,459.7 449.1,459.3 446.0,458.9 442.9,458.5 439.8,458.0 436.6,457.6 433.4,457.1 430.3,456.6 427.1,456.0 423.8,455.5 420.6,454.9 417.4,454.3 414.2,453.7 411.0,453.0 407.8,452.4 404.7,451.7 401.5,451.0 398.4,450.3 395.3,449.6 392.2,448.9 389.2,448.1 386.2,447.4 383.2,446.6 380.3,445.8 377.4,445.1 374.6,444.3 371.9,443.5 369.2,442.7 366.6,441.9 364.0,441.0 361.5,440.2 359.1,439.4 356.7,438.6 354.4,437.8 352.3,436.9 350.2,436.1 348.1,435.3 346.2,434.5 344.4,433.7 342.6,432.9 341.0,432.1 339.4,431.3 337.9,430.5 336.6,429.8 335.3,429.0 334.2,428.3 333.1,427.5 332.2,426.8 331.4,426.1 330.6,425.4 330.0,424.7 329.5,424.1 329.1,423.4 328.9,422.8 328.7,422.2 328.6,421.6 328.7,421.1 328.9,420.5 329.1,420.0 329.5,419.5 330.0,419.0 330.7,418.6 331.4,418.2 332.2,417.7 333.1,417.4 334.2,417.0 335.3,416.7 336.6,416.4 338.0,416.1 339.4,415.9 341.0,415.7 342.6,415.5 344.4,415.3 346.2,415.2 348.2,415.1 350.2,415.0 352.3,414.9 354.5,414.9 356.7,414.9 359.1,415.0 361.5,415.0 364.0,415.1 366.6,415.3 369.2,415.4 371.9,415.6 374.7,415.8 377.5,416.0 380.3,416.3 383.2,416.6 386.2,416.9 389.2,417.2 392.2,417.6 395.3,418.0 398.4,418.4 401.5,418.9 404.7,419.3 407.9,419.8 411.0,420.3 414.2,420.9 417.5,421.4 420.7,422.0 423.9,422.6 427.1,423.2 430.3,423.9 433.5,424.5 436.6,425.2 439.8,425.9 442.9,426.6 446.0,427.3 449.1,428.0 452.1,428.8 455.1,429.5 458.1,430.3"/>
<polygon stroke="#6ee8a5" points="470.1,429.4 473.6,430.3 477.0,431.3 480.4,432.3 483.7,433.3 486.9,434.3 490.0,435.3 493.1,436.3 496.1,437.3 498.9,438.3 501.7,439.3 504.4,440.3 507.0,441.3 509.5,442.3 511.8,443.3 514.1,444.3 516.2,445.3 518.3,446.2 520.2,447.2 521.9,448.1 523.6,449.1 525.1,450.0 526.6,450.9 527.8,451.8 529.0,452.7 530.0,453.6 530.9,454.4 531.6,455.2 532.2,456.1 532.7,456.8 533.1,457.6 533.3,458.3 533.3,459.1 533.3,459.7 533.1,460.4 532.7,461.0 532.2,461.7 531.6,462.2 530.9,462.8 530.0,463.3 529.0,463.8 527.8,464.3 526.5,464.7 525.1,465.1 523.6,465.5 521.9,465.8 520.1,466.1 518.2,466.4 516.2,466.6 514.1,466.8 511.8,467.0 509.4,467.1 507.0,467.2 504.4,467.2 501.7,467.3 498.9,467.2 496.0,467.2 493.1,467.1 490.0,467.0 486.9,466.8 483.7,466.7 480.4,466.4 477.0,466.2 473.5,465.9 470.0,465.6 466.5,465.2 462.8,464.8 459.2,464.4 455.5,464.0 451.7,463.5 447.9,463.0 444.1,462.4 440.2,461.9 436.3,461.3 432.4,460.6 428.5,460.0 424.6,459.3 420.6,458.6 416.7,457.9 412.8,457.1 408.9,456.3 404.9,455.5 401.1,454.7 397.2,453.9 393.4,453.0 389.6,452.1 385.8,451.2 382.1,450.3 378.4,449.4 374.8,448.5 371.2,447.5 367.7,446.6 364.3,445.6 360.9,444.6 357.6,443.6 354.4,442.6 351.3,441.6 348.2,440.6 345.2,439.6 342.4,438.6 339.6,437.6 336.9,436.6 334.3,435.6 331.8,434.6 329.5,433.6 327.2,432.6 325.1,431.6 323.0,430.7 321.1,429.7 319.4,428.8 317.7,427.8 316.2,426.9 314.7,426.0 313.5,425.1 312.3,424.2 311.3,423.3 310.4,422.5 309.7,421.7 309.1,420.8 308.6,420.1 308.2,419.3 308.0,418.6 308.0,417.8 308.0,417.2 308.2,416.5 308.6,415.9 309.1,415.2 309.7,414.7 310.4,414.1 311.3,413.6 312.3,413.1 313.5,412.6 314.8,412.2 316.2,411.8 317.7,411.4 319.4,411.1 321.2,410.8 323.1,410.5 325.1,410.3 327.2,410.1 329.5,409.9 331.9,409.8 334.3,409.7 336.9,409.7 339.6,409.6 342.4,409.7 345.3,409.7 348.2,409.8 351.3,409.9 354.4,410.1 357.6,410.2 360.9,410.5 364.3,410.7 367.8,411.0 371.3,411.3 374.8,411.7 378.5,412.1 382.1,412.5 385.8,412.9 389.6,413.4 393.4,413.9 397.2,414.5 401.1,415.0 405.0,415.6 408.9,416.3 412.8,416.9 416.7,417.6 420.7,418.3 424.6,419.0 428.5,419.8 432.4,420.6 436.4,421.4 440.2,422.2 444.1,423.0 447.9,423.9 451.7,424.8 455.5,425.7 459.2,426.6 462.9,427.5 466.5,428.4"/>
<polygon stroke="#238ce8" points="477.7,428.0 481.8,429.1 485.7,430.2 489.6,431.3 493.4,432.5 497.2,433.6 500.8,434.8 504.3,435.9 507.7,437.1 511.1,438.3 514.3,439.4 517.4,440.6 520.3,441.7 523.2,442.9 525.9,444.0 528.5,445.2 531.0,446.3 533.4,447.4 535.6,448.5 537.6,449.6 539.5,450.7 541.3,451.8 542.9,452.9 544.4,453.9 545.7,454.9 546.9,455.9 547.9,456.9 548.8,457.8 549.5,458.8 550.1,459.7 550.5,460.6 550.7,461.4 550.8,462.2 550.7,463.0 550.5,463.8 550.1,464.5 549.5,465.2 548.8,465.9 547.9,466.6 546.9,467.2 545.7,467.7 544.4,468.3 542.9,468.8 541.3,469.2 539.5,469.6 537.6,470.0 535.5,470.4 533.3,470.7 531.0,470.9 528.5,471.2 525.9,471.4 523.2,471.5 520.3,471.6 517.3,471.7 514.2,471.7 511.0,471.7 507.7,471.6 504.3,471.6 500.7,471.4 497.1,471.2 493.4,471.0 489.6,470.8 485.7,470.5 481.7,470.1 477.7,469.8 473.6,469.4 469.4,468.9 465.1,468.4 460.8,467.9 456.5,467.4 452.1,466.8 447.7,466.1 443.2,465.5 438.7,464.8 434.2,464.1 429.7,463.3 425.2,462.5 420.6,461.7 416.1,460.9 411.5,460.0 407.0,459.1 402.5,458.2 398.0,457.2 393.6,456.2 389.1,455.3 384.8,454.2 380.4,453.2 376.1,452.2 371.9,451.1 367.7,450.0 363.6,448.9 359.5,447.8 355.6,446.7 351.7,445.6 347.9,444.4 344.1,443.3 340.5,442.1 337.0,441.0 333.6,439.8 330.2,438.6 327.0,437.5 323.9,436.3 321.0,435.2 318.1,434.0 315.4,432.9 312.8,431.7 310.3,430.6 307.9,429.5 305.7,428.4 303.7,427.3 301.8,426.2 300.0,425.1 298.4,424.0 296.9,423.0 295.6,422.0 294.4,421.0 293.4,420.0 292.5,419.1 291.8,418.1 291.2,417.2 290.8,416.3 290.6,415.5 290.5,414.7 290.6,413.9 290.8,413.1 291.2,412.4 291.8,411.7 292.5,411.0 293.4,410.3 294.4,409.7 295.6,409.2 296.9,408.6 298.4,408.1 300.0,407.7 301.8,407.3 303.7,406.9 305.8,406.5 308.0,406.2 310.3,406.0 312.8,405.7 315.4,405.5 318.1,405.4 321.0,405.3 324.0,405.2 327.1,405.2 330.3,405.2 333.6,405.3 337.0,405.3 340.6,405.5 344.2,405.7 347.9,405.9 351.7,406.1 355.6,406.4 359.6,406.8 363.6,407.1 367.7,407.5 371.9,408.0 376.2,408.5 380.5,409.0 384.8,409.5 389.2,410.1 393.6,410.8 398.1,411.4 402.6,412.1 407.1,412.8 411.6,413.6 416.1,414.4 420.7,415.2 425.2,416.0 429.8,416.9 434.3,417.8 438.8,418.7 443.3,419.7 447.7,420.7 452.2,421.6 456.5,422.7 460.9,423.7 465.2,424.7 469.4,425.8 473.6,426.9"/>
<polyline stroke="#0f0a96" points="464.4,471.2 460.7,470.8 457.1,470.3 453.4,469.8 449.6,469.2 445.9,468.7 442.1,468.1 438.4,467.5 434.6,466.9 430.8,466.2 427.0,465.6 423.2,464.9 419.4,464.2 415.5,463.5 411.7,462.8 407.9,462.0 404.2,461.3 400.4,460.5 396.6,459.7 392.9,458.9 389.1,458.1 385.4,457.2 381.7,456.4 378.1,455.5 374.5,454.7 370.9,453.8 367.3,452.9 363.8,452.0 360.3,451.1 356.9,450.1 353.4,449.2 350.1,448.3 346.8,447.3 343.5,446.4 340.3,445.4 337.2,444.5 334.1,443.5 331.1,442.6 328.1,441.6 325.2,440.6 322.3,439.6 319.6,438.7 316.9,437.7 314.2,436.7 311.7,435.8 309.2,434.8 306.8,433.8 304.4,432.8 302.2,431.9 300.0,430.9 297.9,430.0 295.9,429.0 294.0,428.1 292.2,427.2 290.4,426.2 288.8,425.3 287.2,424.4 285.7,423.5 284.4,422.6 284.4,422.6"/>
<polyline stroke="#0f0a96" points="376.9,405.7 380.6,406.1 384.2,406.6 387.9,407.1 391.7,407.7 395.4,408.2 399.2,408.8 402.9,409.4 406.7,410.0 410.5,410.7 414.3,411.3 418.1,412.0 421.9,412.7 425.8,413.4 429.6,414.1 433.4,414.9 437.1,415.6 440.9,416.4 444.7,417.2 448.4,418.0 452.2,418.8 455.9,419.7 459.6,420.5 463.2,421.4 466.8,422.2 470.4,423.1 474.0,424.0 477.5,424.9 481.0,425.8 484.4,426.8 487.9,427.7 491.2,428.6 494.5,429.6 497.8,430.5 501.0,431.5 504.1,432.4 507.2,433.4 510.2,434.3 513.2,435.3 516.1,436.3 519.0,437.3 521.7,438.2 524.4,439.2 527.1,440.2 529.6,441.1 532.1,442.1 534.5,443.1 536.9,444.1 539.1,445.0 541.3,446.0 543.4,446.9 545.4,447.9 547.3,448.8 549.1,449.7 550.9,450.7 552.5,451.6 554.1,452.5 555.6,453.4 556.9,454.3 556.9,454.3"/>
</g>
<path d="M130.4 432.4L130.4 67M130.4 432.4L391.9 503M391.9 503L710.9 444.5M130.4 67L121.1 64.5M130.4 127.9L121.1 125.4M130.4 188.8L121.1 186.3M130.4 249.7L121.1 247.2M130.4 310.6L121.1 308.1M130.4 371.5L121.1 369M130.4 432.4L121.1 429.9M130.4 432.4L121 434.1M261.1 467.7L251.7 469.4M391.9 503L382.5 504.7M391.9 503L401.2 505.5M551.4 473.8L560.7 476.3M710.9 444.5L720.2 447" fill="none" stroke="#000" stroke-width="1.5"/>
<g fill="#000" stroke="#000" stroke-width="0.35">
<text x="113.1" y="72.2" text-anchor="end">0</text>
<text x="113.1" y="133.1" text-anchor="end">−0.02</text>
<text x="113.1" y="194" text-anchor="end">−0.04</text>
<text x="113.1" y="254.9" text-anchor="end">−0.06</text>
<text x="113.1" y="315.8" text-anchor="end">−0.08</text>
<text x="113.1" y="376.7" text-anchor="end">−0.1</text>
<text x="113.1" y="437.6" text-anchor="end">−0.12</text>
<text x="113" y="461.5" text-anchor="end">−0.2</text>
<text x="244.3" y="496.8" text-anchor="end">0</text>
<text x="375.5" y="532.1" text-anchor="end">0.2</text>
<text x="409" y="532.7" text-anchor="start">−0.5</text>
<text x="569.2" y="505.4" text-anchor="start">0</text>
<text x="727.5" y="475.7" text-anchor="start">0.5</text>
<text x="512" y="571.5" text-anchor="middle">x</text>
<text x="251.6" y="551.5" text-anchor="middle">y</text>
<text transform="translate(23.5 250.3) rotate(-90)" text-anchor="middle">z</text>
</g>
</svg>
</body></html>
